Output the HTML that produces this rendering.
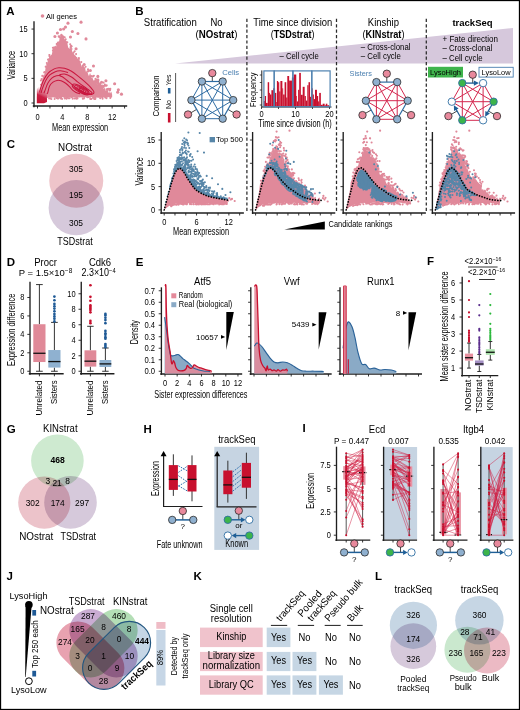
<!DOCTYPE html>
<html><head><meta charset="utf-8"><style>
html,body{margin:0;padding:0;background:#fff;}
body{width:520px;height:710px;overflow:hidden;}
svg{display:block;font-family:"Liberation Sans", sans-serif;}
</style></head><body>
<svg width="520" height="710" viewBox="0 0 520 710">
<rect x="0" y="0" width="520" height="710" fill="#fff"/>
<text x="6.3" y="14.8" font-size="11.5" font-weight="bold" fill="#000">A</text>
<circle cx="42.5" cy="16" r="1.8" fill="#e0899a" stroke="none" stroke-width="1"/>
<text x="46" y="18.6" font-size="7.6" textLength="31" lengthAdjust="spacingAndGlyphs">All genes</text>
<path d="M37.5 101.52 L38.25 97.77 L38.99 94.03 L39.74 90.38 L40.49 87.99 L41.23 83.08 L41.98 81.19 L42.72 77.49 L43.47 74.74 L44.22 74.76 L44.96 72.62 L45.71 66.6 L46.46 66.8 L47.2 64.84 L47.95 59.68 L48.7 60.24 L49.44 56.84 L50.19 56.74 L50.94 54.48 L51.68 55.11 L52.43 51.43 L53.17 48.87 L53.92 48.98 L54.67 46.6 L55.41 45.49 L56.16 46.76 L56.91 42.26 L57.65 41.58 L58.4 41.45 L59.15 41.23 L59.89 36.3 L60.64 36.86 L61.38 34.59 L62.13 33.88 L62.88 35.79 L63.62 36.06 L64.37 39.62 L65.12 39.3 L65.86 42.36 L66.61 41.66 L67.36 42.95 L68.1 47.36 L68.85 48.14 L69.6 48.72 L70.34 46.41 L71.09 49.79 L71.83 49.98 L72.58 52.46 L73.33 52.58 L74.07 54.16 L74.82 55.35 L75.57 55.59 L76.31 56.88 L77.06 56.74 L77.81 59.01 L78.55 59.19 L79.3 60.6 L80.04 61.09 L80.79 63.59 L81.54 66.93 L82.28 64.92 L83.03 65.34 L83.78 66.5 L84.52 68.87 L85.27 69.12 L86.02 72.24 L86.76 70.37 L87.51 72.36 L88.26 74.41 L89 76.17 L89.75 73.43 L90.49 73.59 L91.24 78.36 L91.99 75.97 L92.73 78.47 L93.48 80.39 L94.23 80.41 L94.97 78.95 L95.72 79.14 L96.47 83.47 L97.21 81.59 L97.96 84.77 L98.7 82.43 L99.45 84.8 L100.2 82.93 L100.94 83.01 L101.69 85.64 L102.44 83.98 L103.18 87.56 L103.93 89.12 L104.68 87.33 L105.42 90.39 L106.17 90.24 L106.92 89.9 L107.66 89.59 L108.41 92.2 L109.15 93.32 L109.9 90.4 L110.65 93.6 L111.39 91.47 L112.14 94.87 L112.14 97.33 L110.58 97.91 L109.03 97.05 L107.47 97.54 L105.92 97.65 L104.36 97.32 L102.81 97.61 L101.25 97.7 L99.7 97.66 L98.14 97.73 L96.59 97.43 L95.03 97.61 L93.48 97.87 L91.92 97.03 L90.37 97.37 L88.81 98.1 L87.26 98.14 L85.7 97.3 L84.15 97.33 L82.59 97.75 L81.04 97.36 L79.48 97.62 L77.93 97.43 L76.38 98.1 L74.82 97.42 L73.27 97.44 L71.71 98.14 L70.16 97.48 L68.6 97.68 L67.05 98.16 L65.49 97.52 L63.94 97.55 L62.38 97.01 L60.83 97.81 L59.27 97.89 L57.72 97.32 L56.16 97.66 L54.61 97.65 L53.05 97.22 L51.49 97.68 L49.94 97.84 L48.38 97.87 L46.83 97.9 L45.27 98.79 L43.72 99.6 L42.16 100.93 L40.61 101.54 L39.05 102.51 L37.5 103Z" fill="#e0899a" stroke="none" stroke-width="1"/>
<path fill="none" stroke="#e0899a" stroke-width="2.1" stroke-linecap="round" d="M81.3 62.1h0M62.8 36.4h0M98.1 82.6h0M54 47.5h0M90.5 76.3h0M63.6 37.1h0M100.2 83.2h0M101.8 85.8h0M64.7 37.3h0M103.9 85.8h0M56.7 44.1h0M78.5 60.9h0M98.3 79.5h0M53.7 48.9h0M98.4 80.6h0M98.3 82.1h0M49.9 56.7h0M97.4 81.8h0M65.4 39.9h0M70.6 47.6h0M106.5 89.3h0M40.9 80.5h0M103.6 82.6h0M71.7 46.2h0M106.9 89.3h0M93.9 75.7h0M88 71.4h0M61.3 34.9h0M56.9 44.1h0M82.7 66.5h0M98.6 84h0M105.2 85.4h0M106.7 85.4h0M105 85.8h0M41.6 79.1h0M52.9 50.4h0M88 71.4h0M70.2 44.2h0M84.4 68.2h0M58.7 36.4h0M74.7 51.3h0M65.8 41.9h0M78.9 58.1h0M52.9 47.8h0M106.5 85.8h0M99.5 85h0M85.6 66.7h0M44.2 72.5h0M59.8 36.2h0M70.9 47.6h0M96.2 82.1h0M44.5 72.1h0M49.5 58.8h0M110.3 88.8h0M46.8 63h0M63.2 36.5h0M65.7 39.3h0M82.6 65.9h0M54.3 47.6h0M49.5 56.3h0M91.8 76.1h0M46.3 66.2h0M67.3 42.3h0M96.6 80.5h0M97.9 80.3h0M71.5 49h0M76.1 54.1h0M70.7 46.2h0M73.6 52.6h0M78.9 58.9h0M45.7 66.7h0M71.1 45.7h0M107.6 89h0M104.8 84.6h0M59.4 37.2h0M49.4 55h0M88 69.4h0M97.3 79.5h0M93.1 76.4h0M48 59.6h0M41 84.8h0M96 81.8h0M47.2 64.2h0M103.6 87h0M42.3 75.9h0M49.3 55.1h0M88.8 70.5h0M108.7 88.8h0M97.7 83.4h0M95.5 78.8h0"/>
<circle cx="67.98" cy="23.13" r="1.55" fill="#e0899a" stroke="none" stroke-width="1"/>
<circle cx="81.04" cy="22.15" r="1.55" fill="#e0899a" stroke="none" stroke-width="1"/>
<circle cx="86.02" cy="38.91" r="1.55" fill="#e0899a" stroke="none" stroke-width="1"/>
<circle cx="77.93" cy="33.49" r="1.55" fill="#e0899a" stroke="none" stroke-width="1"/>
<circle cx="72.33" cy="31.52" r="1.55" fill="#e0899a" stroke="none" stroke-width="1"/>
<circle cx="70.47" cy="36.94" r="1.55" fill="#e0899a" stroke="none" stroke-width="1"/>
<circle cx="65.49" cy="27.08" r="1.55" fill="#e0899a" stroke="none" stroke-width="1"/>
<circle cx="63.62" cy="29.05" r="1.55" fill="#e0899a" stroke="none" stroke-width="1"/>
<circle cx="60.51" cy="29.54" r="1.55" fill="#e0899a" stroke="none" stroke-width="1"/>
<circle cx="84.15" cy="64.55" r="1.55" fill="#e0899a" stroke="none" stroke-width="1"/>
<circle cx="93.48" cy="66.03" r="1.55" fill="#e0899a" stroke="none" stroke-width="1"/>
<circle cx="105.92" cy="80.81" r="1.55" fill="#e0899a" stroke="none" stroke-width="1"/>
<circle cx="114.63" cy="83.77" r="1.55" fill="#e0899a" stroke="none" stroke-width="1"/>
<circle cx="118.36" cy="89.69" r="1.55" fill="#e0899a" stroke="none" stroke-width="1"/>
<circle cx="121.47" cy="94.13" r="1.55" fill="#e0899a" stroke="none" stroke-width="1"/>
<circle cx="117.74" cy="92.15" r="1.55" fill="#e0899a" stroke="none" stroke-width="1"/>
<circle cx="101.57" cy="82.29" r="1.55" fill="#e0899a" stroke="none" stroke-width="1"/>
<circle cx="97.83" cy="76.38" r="1.55" fill="#e0899a" stroke="none" stroke-width="1"/>
<circle cx="90.37" cy="70.46" r="1.55" fill="#e0899a" stroke="none" stroke-width="1"/>
<circle cx="109.65" cy="89.69" r="1.55" fill="#e0899a" stroke="none" stroke-width="1"/>
<circle cx="76.06" cy="48.77" r="1.55" fill="#e0899a" stroke="none" stroke-width="1"/>
<circle cx="54.92" cy="36.45" r="1.55" fill="#e0899a" stroke="none" stroke-width="1"/>
<circle cx="57.4" cy="32.99" r="1.55" fill="#e0899a" stroke="none" stroke-width="1"/>
<path fill="none" stroke="#e0899a" stroke-width="2" stroke-linecap="round" d="M93 97.7h0M95.3 98.9h0M49.1 98.4h0M82.8 98.8h0M61.2 97.8h0M61.8 98.5h0M95.6 98.1h0M69.6 98.2h0M68.5 98.2h0M50.6 98.6h0M110.3 98h0M95.2 97.8h0M91.4 98.7h0M90.2 98.3h0M77.5 98.5h0M105.2 97.6h0M51.4 98.9h0M106.5 98.2h0M74.7 98.6h0M57.5 98h0M58.3 98.4h0M66.1 97.9h0M91.4 99h0M64.8 98.6h0M72.7 98.8h0M84.2 98h0M59.6 97.6h0M77.2 98.1h0M56.5 98.1h0M66.6 98.7h0M54.6 99.1h0M77.2 98.5h0M76.4 98.8h0M100.2 98.3h0M77.3 98.6h0M102.5 98h0M94.2 99h0M76.4 97.9h0M60.7 98.6h0M90.3 99h0M102.3 97.8h0M57.7 98h0M57.5 98.6h0M102.6 98.8h0M62.1 98.9h0M66 98.2h0M93.9 97.7h0M51.2 99.1h0M64.6 98.1h0M83.9 98.6h0"/>
<defs><linearGradient id="gA" x1="0" y1="1" x2="0.3" y2="0"><stop offset="0" stop-color="#c4102e"/><stop offset="0.5" stop-color="#cb1f44"/><stop offset="1" stop-color="#e0899a" stop-opacity="0"/></linearGradient></defs>
<path d="M36.8 103.3 L36.9 89 L39 86.5 L42 86.8 L45 89.5 L47 95 L47 102 L44 103.3Z" fill="url(#gA)" stroke="none" stroke-width="1"/>
<path d="M39.6 92.5 C39.72 91.93 39.6 91.22 40.3 89.1 C41 86.98 42.45 82.5 43.8 79.8 C45.15 77.1 46.67 74.72 48.4 72.9 C50.13 71.08 52.47 69.77 54.2 68.9 C55.93 68.03 57.08 67.8 58.8 67.7 C60.52 67.6 62.38 67.72 64.5 68.3 C66.62 68.88 69.18 69.85 71.5 71.2 C73.82 72.55 76.1 74.57 78.4 76.4 C80.7 78.23 83.18 80.28 85.3 82.2 C87.42 84.12 89.65 86.27 91.1 87.9 C92.55 89.53 93.82 90.93 94 92 C94.18 93.07 93.37 93.93 92.2 94.3 C91.03 94.67 88.7 94.42 87 94.2 C85.3 93.98 82.83 93.2 82 93" fill="none" stroke="#c9173f" stroke-width="1.05"/>
<path d="M41.2 93 C41.33 92.45 41.28 91.7 42 89.7 C42.72 87.7 44.25 83.42 45.5 81 C46.75 78.58 47.87 76.73 49.5 75.2 C51.13 73.67 53.57 72.53 55.3 71.8 C57.03 71.07 58.55 70.9 59.9 70.8 C61.25 70.7 62.05 70.9 63.4 71.2 C64.75 71.5 67.23 72.37 68 72.6" fill="none" stroke="#c9173f" stroke-width="1.05"/>
<path d="M43.8 93.3 C43.98 92.88 44.23 92.47 44.9 90.8 C45.57 89.13 46.65 85.42 47.8 83.3 C48.95 81.18 50.35 79.35 51.8 78.1 C53.25 76.85 55.05 76.22 56.5 75.8 C57.95 75.38 59.83 75.63 60.5 75.6" fill="none" stroke="#c9173f" stroke-width="1.05"/>
<path d="M46.8 94 C46.97 93.75 47.35 93.8 47.8 92.5 C48.25 91.2 48.63 87.92 49.5 86.2 C50.37 84.48 51.75 83.17 53 82.2 C54.25 81.23 55.65 80.63 57 80.4 C58.35 80.17 59.65 80.32 61.1 80.8 C62.55 81.28 64.27 82.3 65.7 83.3 C67.13 84.3 68.55 85.65 69.7 86.8 C70.85 87.95 71.55 89.25 72.6 90.2 C73.65 91.15 74.77 91.9 76 92.5 C77.23 93.1 79.33 93.58 80 93.8" fill="none" stroke="#c9173f" stroke-width="1.05"/>
<path d="M59.3 74.7 C60.17 74.6 62.47 73.72 64.5 74.1 C66.53 74.48 69.38 75.75 71.5 77 C73.62 78.25 75.08 79.97 77.2 81.6 C79.32 83.23 82.08 85.27 84.2 86.8 C86.32 88.33 88.57 89.75 89.9 90.8 C91.23 91.85 92.38 92.62 92.2 93.1 C92.02 93.58 90.33 93.88 88.8 93.7 C87.27 93.52 85.12 92.97 83 92 C80.88 91.03 78.4 89.53 76.1 87.9 C73.8 86.27 71.32 83.93 69.2 82.2 C67.08 80.47 64.95 78.57 63.4 77.5 C61.85 76.43 60.58 76.27 59.9 75.8 C59.22 75.33 59.4 74.88 59.3 74.7" fill="none" stroke="#c9173f" stroke-width="1.05"/>
<ellipse cx="80.66" cy="89.43" rx="9.5" ry="3.0" fill="none" stroke="#c9173f" stroke-width="1.0" transform="rotate(29 80.66 89.43)"/>
<ellipse cx="80.94" cy="89.57" rx="7.2" ry="2.2" fill="none" stroke="#c9173f" stroke-width="1.0" transform="rotate(29 80.94 89.57)"/>
<ellipse cx="81.2" cy="89.7" rx="5.0" ry="1.5" fill="none" stroke="#c9173f" stroke-width="1.0" transform="rotate(29 81.2 89.7)"/>
<ellipse cx="81.46" cy="89.83" rx="2.8" ry="0.8" fill="none" stroke="#c9173f" stroke-width="1.0" transform="rotate(29 81.46 89.83)"/>
<line x1="34" y1="22" x2="34" y2="106.5" stroke="#1e1e1e" stroke-width="1.35" stroke-linecap="square"/>
<line x1="33.5" y1="106" x2="126.5" y2="106" stroke="#1e1e1e" stroke-width="1.35" stroke-linecap="square"/>
<line x1="31.5" y1="29.05" x2="34" y2="29.05" stroke="#1e1e1e" stroke-width="0.9"/>
<text x="27.6" y="32.05" font-size="8.7" text-anchor="end" textLength="8.3" lengthAdjust="spacingAndGlyphs">15</text>
<line x1="31.5" y1="53.7" x2="34" y2="53.7" stroke="#1e1e1e" stroke-width="0.9"/>
<text x="27.6" y="56.7" font-size="8.7" text-anchor="end" textLength="8.3" lengthAdjust="spacingAndGlyphs">10</text>
<line x1="31.5" y1="78.35" x2="34" y2="78.35" stroke="#1e1e1e" stroke-width="0.9"/>
<text x="27.6" y="81.35" font-size="8.7" text-anchor="end" textLength="4.15" lengthAdjust="spacingAndGlyphs">5</text>
<line x1="31.5" y1="103" x2="34" y2="103" stroke="#1e1e1e" stroke-width="0.9"/>
<text x="27.6" y="106" font-size="8.7" text-anchor="end" textLength="4.15" lengthAdjust="spacingAndGlyphs">0</text>
<line x1="37.5" y1="106" x2="37.5" y2="108.5" stroke="#1e1e1e" stroke-width="0.9"/>
<line x1="49.94" y1="106" x2="49.94" y2="108.5" stroke="#1e1e1e" stroke-width="0.9"/>
<line x1="62.38" y1="106" x2="62.38" y2="108.5" stroke="#1e1e1e" stroke-width="0.9"/>
<line x1="74.82" y1="106" x2="74.82" y2="108.5" stroke="#1e1e1e" stroke-width="0.9"/>
<line x1="87.26" y1="106" x2="87.26" y2="108.5" stroke="#1e1e1e" stroke-width="0.9"/>
<line x1="99.7" y1="106" x2="99.7" y2="108.5" stroke="#1e1e1e" stroke-width="0.9"/>
<line x1="112.14" y1="106" x2="112.14" y2="108.5" stroke="#1e1e1e" stroke-width="0.9"/>
<line x1="124.58" y1="106" x2="124.58" y2="108.5" stroke="#1e1e1e" stroke-width="0.9"/>
<text x="37.5" y="119.5" font-size="8.7" text-anchor="middle" textLength="4.15" lengthAdjust="spacingAndGlyphs">0</text>
<text x="62.38" y="119.5" font-size="8.7" text-anchor="middle" textLength="4.15" lengthAdjust="spacingAndGlyphs">4</text>
<text x="87.26" y="119.5" font-size="8.7" text-anchor="middle" textLength="4.15" lengthAdjust="spacingAndGlyphs">8</text>
<text x="112.14" y="119.5" font-size="8.7" text-anchor="middle" textLength="8.3" lengthAdjust="spacingAndGlyphs">12</text>
<text x="14.7" y="65.2" font-size="10.28" text-anchor="middle" textLength="28.5" lengthAdjust="spacingAndGlyphs" transform="rotate(-90 14.7 65.2)">Variance</text>
<text x="80.1" y="131.2" font-size="10.18" text-anchor="middle" textLength="56.2" lengthAdjust="spacingAndGlyphs">Mean expression</text>
<text x="135.3" y="14.6" font-size="11.5" font-weight="bold" fill="#000">B</text>
<path d="M175 63.6 L513 28 L513 63.6Z" fill="#d6c8dc" stroke="none" stroke-width="1"/>
<text x="143.8" y="26" font-size="10.07" textLength="53" lengthAdjust="spacingAndGlyphs">Stratification</text>
<text x="216.5" y="26" font-size="10.07" text-anchor="middle" textLength="12.14" lengthAdjust="spacingAndGlyphs">No</text>
<text x="216.5" y="37.5" font-size="10" text-anchor="middle" textLength="42" lengthAdjust="spacingAndGlyphs">(<tspan font-weight="bold">NOstrat</tspan>)</text>
<text x="292.8" y="26" font-size="10.07" text-anchor="middle" textLength="79" lengthAdjust="spacingAndGlyphs">Time since division</text>
<text x="292.6" y="37.5" font-size="10" text-anchor="middle" textLength="43.7" lengthAdjust="spacingAndGlyphs">(<tspan font-weight="bold">TSDstrat</tspan>)</text>
<text x="383.4" y="26" font-size="10.07" text-anchor="middle" textLength="31.16" lengthAdjust="spacingAndGlyphs">Kinship</text>
<text x="383.5" y="37.5" font-size="10" text-anchor="middle" textLength="42" lengthAdjust="spacingAndGlyphs">(<tspan font-weight="bold">KINstrat</tspan>)</text>
<text x="472.5" y="26" font-size="9.5" text-anchor="middle" font-weight="bold">trackSeq</text>
<text x="279.5" y="59.4" font-size="8.8" textLength="39.3" lengthAdjust="spacingAndGlyphs">– Cell cycle</text>
<text x="360.8" y="50.2" font-size="8.8" textLength="49.7" lengthAdjust="spacingAndGlyphs">– Cross-clonal</text>
<text x="360.8" y="59.4" font-size="8.8" textLength="40" lengthAdjust="spacingAndGlyphs">– Cell cycle</text>
<text x="442.5" y="42.2" font-size="8.8" textLength="55.5" lengthAdjust="spacingAndGlyphs">+ Fate direction</text>
<text x="442.5" y="51.4" font-size="8.8" textLength="49.7" lengthAdjust="spacingAndGlyphs">– Cross-clonal</text>
<text x="442.5" y="60.6" font-size="8.8" textLength="40" lengthAdjust="spacingAndGlyphs">– Cell cycle</text>
<line x1="246.9" y1="18.8" x2="246.9" y2="212" stroke="#2a2a2a" stroke-width="1.25" stroke-dasharray="3.2 2.2"/>
<line x1="336.5" y1="18.8" x2="336.5" y2="212" stroke="#2a2a2a" stroke-width="1.25" stroke-dasharray="3.2 2.2"/>
<line x1="426.3" y1="18.8" x2="426.3" y2="212" stroke="#2a2a2a" stroke-width="1.25" stroke-dasharray="3.2 2.2"/>
<line x1="201.9" y1="81.5" x2="191.4" y2="100.1" stroke="#2e6ca3" stroke-width="1"/>
<line x1="201.9" y1="81.5" x2="233.2" y2="100.1" stroke="#2e6ca3" stroke-width="1"/>
<line x1="201.9" y1="81.5" x2="201.9" y2="118.7" stroke="#2e6ca3" stroke-width="1"/>
<line x1="201.9" y1="81.5" x2="222.7" y2="118.7" stroke="#2e6ca3" stroke-width="1"/>
<line x1="222.7" y1="81.5" x2="191.4" y2="100.1" stroke="#2e6ca3" stroke-width="1"/>
<line x1="222.7" y1="81.5" x2="233.2" y2="100.1" stroke="#2e6ca3" stroke-width="1"/>
<line x1="222.7" y1="81.5" x2="201.9" y2="118.7" stroke="#2e6ca3" stroke-width="1"/>
<line x1="222.7" y1="81.5" x2="222.7" y2="118.7" stroke="#2e6ca3" stroke-width="1"/>
<line x1="191.4" y1="100.1" x2="233.2" y2="100.1" stroke="#2e6ca3" stroke-width="1"/>
<line x1="191.4" y1="100.1" x2="222.7" y2="118.7" stroke="#2e6ca3" stroke-width="1"/>
<line x1="233.2" y1="100.1" x2="201.9" y2="118.7" stroke="#2e6ca3" stroke-width="1"/>
<line x1="201.9" y1="118.7" x2="222.7" y2="118.7" stroke="#2e6ca3" stroke-width="1"/>
<line x1="212.3" y1="73.1" x2="212.3" y2="81.5" stroke="#333" stroke-width="0.9"/>
<line x1="188" y1="114.5" x2="196.65" y2="109.4" stroke="#333" stroke-width="0.9"/>
<line x1="236.6" y1="114.5" x2="227.95" y2="109.4" stroke="#333" stroke-width="0.9"/>
<line x1="201.9" y1="81.5" x2="222.7" y2="81.5" stroke="#2e6ca3" stroke-width="1.2"/>
<line x1="191.4" y1="100.1" x2="201.9" y2="118.7" stroke="#2e6ca3" stroke-width="1.2"/>
<line x1="233.2" y1="100.1" x2="222.7" y2="118.7" stroke="#2e6ca3" stroke-width="1.2"/>
<circle cx="212.3" cy="73.1" r="3.7" fill="#e8899c" stroke="#2a2a2a" stroke-width="0.8"/>
<circle cx="188" cy="114.5" r="3.7" fill="#e8899c" stroke="#2a2a2a" stroke-width="0.8"/>
<circle cx="236.6" cy="114.5" r="3.7" fill="#e8899c" stroke="#2a2a2a" stroke-width="0.8"/>
<circle cx="201.9" cy="81.5" r="3.7" fill="#8fb0cf" stroke="#2a2a2a" stroke-width="0.8"/>
<circle cx="222.7" cy="81.5" r="3.7" fill="#8fb0cf" stroke="#2a2a2a" stroke-width="0.8"/>
<circle cx="191.4" cy="100.1" r="3.7" fill="#8fb0cf" stroke="#2a2a2a" stroke-width="0.8"/>
<circle cx="233.2" cy="100.1" r="3.7" fill="#8fb0cf" stroke="#2a2a2a" stroke-width="0.8"/>
<circle cx="201.9" cy="118.7" r="3.7" fill="#8fb0cf" stroke="#2a2a2a" stroke-width="0.8"/>
<circle cx="222.7" cy="118.7" r="3.7" fill="#8fb0cf" stroke="#2a2a2a" stroke-width="0.8"/>
<line x1="376.4" y1="82.1" x2="365.9" y2="100.7" stroke="#d4284f" stroke-width="1"/>
<line x1="376.4" y1="82.1" x2="407.7" y2="100.7" stroke="#d4284f" stroke-width="1"/>
<line x1="376.4" y1="82.1" x2="376.4" y2="119.3" stroke="#d4284f" stroke-width="1"/>
<line x1="376.4" y1="82.1" x2="397.2" y2="119.3" stroke="#d4284f" stroke-width="1"/>
<line x1="397.2" y1="82.1" x2="365.9" y2="100.7" stroke="#d4284f" stroke-width="1"/>
<line x1="397.2" y1="82.1" x2="407.7" y2="100.7" stroke="#d4284f" stroke-width="1"/>
<line x1="397.2" y1="82.1" x2="376.4" y2="119.3" stroke="#d4284f" stroke-width="1"/>
<line x1="397.2" y1="82.1" x2="397.2" y2="119.3" stroke="#d4284f" stroke-width="1"/>
<line x1="365.9" y1="100.7" x2="407.7" y2="100.7" stroke="#d4284f" stroke-width="1"/>
<line x1="365.9" y1="100.7" x2="397.2" y2="119.3" stroke="#d4284f" stroke-width="1"/>
<line x1="407.7" y1="100.7" x2="376.4" y2="119.3" stroke="#d4284f" stroke-width="1"/>
<line x1="376.4" y1="119.3" x2="397.2" y2="119.3" stroke="#d4284f" stroke-width="1"/>
<line x1="386.8" y1="73.7" x2="386.8" y2="82.1" stroke="#333" stroke-width="0.9"/>
<line x1="362.5" y1="115.1" x2="371.15" y2="110" stroke="#333" stroke-width="0.9"/>
<line x1="411.1" y1="115.1" x2="402.45" y2="110" stroke="#333" stroke-width="0.9"/>
<line x1="376.4" y1="82.1" x2="397.2" y2="82.1" stroke="#2e6ca3" stroke-width="1.2"/>
<line x1="365.9" y1="100.7" x2="376.4" y2="119.3" stroke="#2e6ca3" stroke-width="1.2"/>
<line x1="407.7" y1="100.7" x2="397.2" y2="119.3" stroke="#2e6ca3" stroke-width="1.2"/>
<circle cx="386.8" cy="73.7" r="3.7" fill="#e8899c" stroke="#2a2a2a" stroke-width="0.8"/>
<circle cx="362.5" cy="115.1" r="3.7" fill="#e8899c" stroke="#2a2a2a" stroke-width="0.8"/>
<circle cx="411.1" cy="115.1" r="3.7" fill="#e8899c" stroke="#2a2a2a" stroke-width="0.8"/>
<circle cx="376.4" cy="82.1" r="3.7" fill="#8fb0cf" stroke="#2a2a2a" stroke-width="0.8"/>
<circle cx="397.2" cy="82.1" r="3.7" fill="#8fb0cf" stroke="#2a2a2a" stroke-width="0.8"/>
<circle cx="365.9" cy="100.7" r="3.7" fill="#8fb0cf" stroke="#2a2a2a" stroke-width="0.8"/>
<circle cx="407.7" cy="100.7" r="3.7" fill="#8fb0cf" stroke="#2a2a2a" stroke-width="0.8"/>
<circle cx="376.4" cy="119.3" r="3.7" fill="#8fb0cf" stroke="#2a2a2a" stroke-width="0.8"/>
<circle cx="397.2" cy="119.3" r="3.7" fill="#8fb0cf" stroke="#2a2a2a" stroke-width="0.8"/>
<line x1="462.3" y1="83.1" x2="451.8" y2="101.7" stroke="#d4284f" stroke-width="1"/>
<line x1="462.3" y1="83.1" x2="493.6" y2="101.7" stroke="#d4284f" stroke-width="1"/>
<line x1="462.3" y1="83.1" x2="462.3" y2="120.3" stroke="#d4284f" stroke-width="1"/>
<line x1="462.3" y1="83.1" x2="483.1" y2="120.3" stroke="#d4284f" stroke-width="1"/>
<line x1="483.1" y1="83.1" x2="451.8" y2="101.7" stroke="#d4284f" stroke-width="1"/>
<line x1="483.1" y1="83.1" x2="493.6" y2="101.7" stroke="#d4284f" stroke-width="1"/>
<line x1="483.1" y1="83.1" x2="462.3" y2="120.3" stroke="#d4284f" stroke-width="1"/>
<line x1="483.1" y1="83.1" x2="483.1" y2="120.3" stroke="#d4284f" stroke-width="1"/>
<line x1="451.8" y1="101.7" x2="493.6" y2="101.7" stroke="#d4284f" stroke-width="1"/>
<line x1="451.8" y1="101.7" x2="483.1" y2="120.3" stroke="#d4284f" stroke-width="1"/>
<line x1="493.6" y1="101.7" x2="462.3" y2="120.3" stroke="#d4284f" stroke-width="1"/>
<line x1="462.3" y1="120.3" x2="483.1" y2="120.3" stroke="#d4284f" stroke-width="1"/>
<line x1="472.7" y1="74.7" x2="472.7" y2="83.1" stroke="#333" stroke-width="0.9"/>
<line x1="448.4" y1="116.1" x2="457.05" y2="111" stroke="#333" stroke-width="0.9"/>
<line x1="497" y1="116.1" x2="488.35" y2="111" stroke="#333" stroke-width="0.9"/>
<line x1="462.3" y1="83.1" x2="475.9" y2="83.1" stroke="#1f5f97" stroke-width="1.3"/>
<path d="M478.9 83.1 L473.9 85.7 L473.9 80.5Z" fill="#1f5f97" stroke="none" stroke-width="1"/>
<line x1="462.3" y1="120.3" x2="455.34" y2="107.97" stroke="#1f5f97" stroke-width="1.3"/>
<path d="M453.86 105.36 L458.59 108.43 L454.06 110.99Z" fill="#1f5f97" stroke="none" stroke-width="1"/>
<line x1="493.6" y1="101.7" x2="486.64" y2="114.03" stroke="#1f5f97" stroke-width="1.3"/>
<path d="M485.16 116.64 L485.36 111.01 L489.89 113.57Z" fill="#1f5f97" stroke="none" stroke-width="1"/>
<circle cx="472.7" cy="74.7" r="3.7" fill="#e8899c" stroke="#2a2a2a" stroke-width="0.8"/>
<circle cx="448.4" cy="116.1" r="3.7" fill="#e8899c" stroke="#2a2a2a" stroke-width="0.8"/>
<circle cx="497" cy="116.1" r="3.7" fill="#e8899c" stroke="#2a2a2a" stroke-width="0.8"/>
<circle cx="462.3" cy="83.1" r="3.7" fill="#3cb44b" stroke="#2f6ea3" stroke-width="0.9"/>
<circle cx="483.1" cy="83.1" r="3.7" fill="#ffffff" stroke="#2f6ea3" stroke-width="0.9"/>
<circle cx="451.8" cy="101.7" r="3.7" fill="#ffffff" stroke="#2f6ea3" stroke-width="0.9"/>
<circle cx="493.6" cy="101.7" r="3.7" fill="#3cb44b" stroke="#2f6ea3" stroke-width="0.9"/>
<circle cx="462.3" cy="120.3" r="3.7" fill="#3cb44b" stroke="#2f6ea3" stroke-width="0.9"/>
<circle cx="483.1" cy="120.3" r="3.7" fill="#ffffff" stroke="#2f6ea3" stroke-width="0.9"/>
<text x="222.2" y="75.4" font-size="7.8" fill="#4a7fb0" textLength="17" lengthAdjust="spacingAndGlyphs">Cells</text>
<text x="349.5" y="76.4" font-size="7.8" fill="#4a7fb0" textLength="22.5" lengthAdjust="spacingAndGlyphs">Sisters</text>
<rect x="428" y="66.8" width="35" height="10.7" fill="#3fb44c" stroke="none" stroke-width="1"/>
<text x="445.5" y="75" font-size="7.5" text-anchor="middle" textLength="31" lengthAdjust="spacingAndGlyphs">LysoHigh</text>
<rect x="479" y="67.3" width="34.2" height="9.8" fill="#fff" stroke="#4a7fb0" stroke-width="0.9"/>
<text x="496.1" y="75" font-size="7.5" text-anchor="middle" textLength="29" lengthAdjust="spacingAndGlyphs">LysoLow</text>
<text x="159.2" y="96" font-size="8.6" text-anchor="middle" textLength="41" lengthAdjust="spacingAndGlyphs" transform="rotate(-90 159.2 96)">Comparison</text>
<line x1="175.6" y1="73" x2="175.6" y2="122" stroke="#444" stroke-width="0.9"/>
<rect x="167.9" y="113" width="2.6" height="9.5" fill="#c8102e" stroke="none" stroke-width="1"/>
<text x="171" y="104.5" font-size="7.5" text-anchor="middle" textLength="9" lengthAdjust="spacingAndGlyphs" transform="rotate(-90 171 104.5)">No</text>
<rect x="167.9" y="88" width="2.6" height="5.5" fill="#1f5f97" stroke="none" stroke-width="1"/>
<text x="171" y="80" font-size="7.5" text-anchor="middle" textLength="11" lengthAdjust="spacingAndGlyphs" transform="rotate(-90 171 80)">Yes</text>
<line x1="261.8" y1="70.4" x2="261.8" y2="107.3" stroke="#1e1e1e" stroke-width="1"/>
<line x1="261.5" y1="107" x2="331.5" y2="107" stroke="#1e1e1e" stroke-width="1"/>
<line x1="259.8" y1="75" x2="261.8" y2="75" stroke="#1e1e1e" stroke-width="0.8"/>
<line x1="259.8" y1="82.5" x2="261.8" y2="82.5" stroke="#1e1e1e" stroke-width="0.8"/>
<line x1="259.8" y1="90" x2="261.8" y2="90" stroke="#1e1e1e" stroke-width="0.8"/>
<line x1="259.8" y1="97.5" x2="261.8" y2="97.5" stroke="#1e1e1e" stroke-width="0.8"/>
<line x1="259.8" y1="105" x2="261.8" y2="105" stroke="#1e1e1e" stroke-width="0.8"/>
<line x1="261.5" y1="107" x2="261.5" y2="109" stroke="#1e1e1e" stroke-width="0.8"/>
<line x1="278.5" y1="107" x2="278.5" y2="109" stroke="#1e1e1e" stroke-width="0.8"/>
<line x1="295.5" y1="107" x2="295.5" y2="109" stroke="#1e1e1e" stroke-width="0.8"/>
<line x1="312.5" y1="107" x2="312.5" y2="109" stroke="#1e1e1e" stroke-width="0.8"/>
<line x1="329.5" y1="107" x2="329.5" y2="109" stroke="#1e1e1e" stroke-width="0.8"/>
<rect x="263.8" y="101" width="1.05" height="5.6" fill="#c8102e" stroke="none" stroke-width="1"/>
<rect x="264.8" y="96" width="1.25" height="10.6" fill="#c8102e" stroke="none" stroke-width="1"/>
<rect x="266" y="102.9" width="1.75" height="3.7" fill="#c8102e" stroke="none" stroke-width="1"/>
<rect x="267.7" y="82.2" width="1.45" height="24.4" fill="#c8102e" stroke="none" stroke-width="1"/>
<rect x="269.1" y="92.9" width="0.95" height="13.7" fill="#c8102e" stroke="none" stroke-width="1"/>
<rect x="270" y="94.5" width="1.45" height="12.1" fill="#c8102e" stroke="none" stroke-width="1"/>
<rect x="271.4" y="90.2" width="1.75" height="16.4" fill="#c8102e" stroke="none" stroke-width="1"/>
<rect x="273.1" y="88.3" width="1.95" height="18.3" fill="#c8102e" stroke="none" stroke-width="1"/>
<rect x="275" y="92.9" width="1.25" height="13.7" fill="#c8102e" stroke="none" stroke-width="1"/>
<rect x="276.2" y="102" width="0.75" height="4.6" fill="#c8102e" stroke="none" stroke-width="1"/>
<rect x="276.9" y="81" width="1.25" height="25.6" fill="#c8102e" stroke="none" stroke-width="1"/>
<rect x="278.1" y="82.2" width="1.15" height="24.4" fill="#c8102e" stroke="none" stroke-width="1"/>
<rect x="279.2" y="91.4" width="1.25" height="15.2" fill="#c8102e" stroke="none" stroke-width="1"/>
<rect x="280.4" y="81" width="1.95" height="25.6" fill="#c8102e" stroke="none" stroke-width="1"/>
<rect x="282.3" y="88.3" width="0.85" height="18.3" fill="#c8102e" stroke="none" stroke-width="1"/>
<rect x="283.1" y="94.5" width="1.55" height="12.1" fill="#c8102e" stroke="none" stroke-width="1"/>
<rect x="284.6" y="82.2" width="1.65" height="24.4" fill="#c8102e" stroke="none" stroke-width="1"/>
<rect x="286.2" y="97.5" width="1.15" height="9.1" fill="#c8102e" stroke="none" stroke-width="1"/>
<rect x="287.3" y="76" width="1.85" height="30.6" fill="#c8102e" stroke="none" stroke-width="1"/>
<rect x="289.1" y="80.6" width="2.85" height="26" fill="#c8102e" stroke="none" stroke-width="1"/>
<rect x="291.9" y="77.5" width="1.95" height="29.1" fill="#c8102e" stroke="none" stroke-width="1"/>
<rect x="293.8" y="74.5" width="2.45" height="32.1" fill="#c8102e" stroke="none" stroke-width="1"/>
<rect x="296.2" y="96" width="0.75" height="10.6" fill="#c8102e" stroke="none" stroke-width="1"/>
<rect x="296.9" y="101.4" width="1.25" height="5.2" fill="#c8102e" stroke="none" stroke-width="1"/>
<rect x="298.1" y="89.8" width="1.15" height="16.8" fill="#c8102e" stroke="none" stroke-width="1"/>
<rect x="299.2" y="72.9" width="1.65" height="33.7" fill="#c8102e" stroke="none" stroke-width="1"/>
<rect x="300.8" y="94.8" width="1.95" height="11.8" fill="#c8102e" stroke="none" stroke-width="1"/>
<rect x="302.7" y="86.8" width="1.95" height="19.8" fill="#c8102e" stroke="none" stroke-width="1"/>
<rect x="304.6" y="96" width="1.25" height="10.6" fill="#c8102e" stroke="none" stroke-width="1"/>
<rect x="305.8" y="100.6" width="1.55" height="6" fill="#c8102e" stroke="none" stroke-width="1"/>
<rect x="307.3" y="85.2" width="1.25" height="21.4" fill="#c8102e" stroke="none" stroke-width="1"/>
<rect x="308.5" y="82.2" width="1.55" height="24.4" fill="#c8102e" stroke="none" stroke-width="1"/>
<rect x="310" y="96.8" width="1.25" height="9.8" fill="#c8102e" stroke="none" stroke-width="1"/>
<rect x="311.2" y="88.3" width="1.55" height="18.3" fill="#c8102e" stroke="none" stroke-width="1"/>
<rect x="312.7" y="94.5" width="1.15" height="12.1" fill="#c8102e" stroke="none" stroke-width="1"/>
<rect x="313.8" y="99.1" width="1.25" height="7.5" fill="#c8102e" stroke="none" stroke-width="1"/>
<rect x="315" y="89.8" width="1.95" height="16.8" fill="#c8102e" stroke="none" stroke-width="1"/>
<rect x="316.9" y="96" width="1.25" height="10.6" fill="#c8102e" stroke="none" stroke-width="1"/>
<rect x="318.1" y="101.4" width="1.15" height="5.2" fill="#c8102e" stroke="none" stroke-width="1"/>
<rect x="319.2" y="92.9" width="1.65" height="13.7" fill="#c8102e" stroke="none" stroke-width="1"/>
<rect x="320.8" y="104.8" width="1.95" height="1.8" fill="#c8102e" stroke="none" stroke-width="1"/>
<rect x="322.7" y="103.7" width="1.95" height="2.9" fill="#c8102e" stroke="none" stroke-width="1"/>
<rect x="324.6" y="105.2" width="1.25" height="1.4" fill="#c8102e" stroke="none" stroke-width="1"/>
<rect x="325.8" y="103.7" width="1.55" height="2.9" fill="#c8102e" stroke="none" stroke-width="1"/>
<rect x="327.3" y="105.2" width="1.95" height="1.4" fill="#c8102e" stroke="none" stroke-width="1"/>
<rect x="263.9" y="70.9" width="10.3" height="35.8" fill="none" stroke="#4f82b0" stroke-width="1.2"/>
<rect x="274.2" y="70.9" width="18.7" height="35.8" fill="none" stroke="#4f82b0" stroke-width="1.2"/>
<rect x="292.9" y="70.9" width="18.9" height="35.8" fill="none" stroke="#4f82b0" stroke-width="1.2"/>
<rect x="311.8" y="70.9" width="18.3" height="35.8" fill="none" stroke="#4f82b0" stroke-width="1.2"/>
<text x="255.8" y="89.8" font-size="9.75" text-anchor="middle" textLength="34.4" lengthAdjust="spacingAndGlyphs" transform="rotate(-90 255.8 89.8)">Frequency</text>
<text x="261.5" y="116.6" font-size="8.7" text-anchor="middle" textLength="4.15" lengthAdjust="spacingAndGlyphs">0</text>
<text x="295.5" y="116.6" font-size="8.7" text-anchor="middle" textLength="8.3" lengthAdjust="spacingAndGlyphs">10</text>
<text x="329.5" y="116.6" font-size="8.7" text-anchor="middle" textLength="8.3" lengthAdjust="spacingAndGlyphs">20</text>
<text x="295.1" y="127.4" font-size="10.18" text-anchor="middle" textLength="73.5" lengthAdjust="spacingAndGlyphs">Time since division (h)</text>
<path d="M164.2 209.9 L166.89 199.65 L169.58 189.86 L172.27 180.54 L174.96 173.09 L177.65 169.36 L179.8 168.43 L181.95 169.82 L184.64 173.55 L187.33 178.21 L191.1 183.8 L193.79 187.53 L196.48 190.33 L201.86 193.59 L207.24 195.92 L212.62 197.32 L218 198.48 L223.38 199.42 L227.68 200.11 L227.68 197.78 L223.38 197.09 L218 196.15 L212.62 194.99 L207.24 193.59 L201.86 191.26 L196.48 188 L193.79 185.2 L191.1 181.47 L187.33 175.88 L184.64 171.22 L181.95 167.49 L179.8 166.1 L177.65 167.03 L174.96 170.76 L172.27 178.21 L169.58 187.53 L166.89 198.72 L164.2 208.97Z" fill="#5786a8" stroke="none" stroke-width="1"/>
<path fill="none" stroke="#5786a8" stroke-width="2" stroke-linecap="round" d="M179.1 161.3h0M195.5 184.9h0M181 155h0M203.9 191.3h0M190.5 181.7h0M167.7 196.4h0M193.5 187h0M203.1 193.6h0M181.6 169.6h0M223.6 197.2h0M208.2 192.6h0M171.9 181.6h0M190.2 182.2h0M215 197.2h0M178.7 158.7h0M177.4 159.2h0M188.6 170.8h0M185 167.2h0M180 168.5h0M207.5 195.6h0M202.3 193.4h0M217.1 193.9h0M201 183.8h0M193.3 173.7h0M177.3 167.7h0M205 194.6h0M212 191.2h0M187.2 174.2h0M188.6 175.9h0M222.4 198.7h0M171.2 184.3h0M199.2 173h0M190.1 176h0M192.1 170.6h0M181.2 161.4h0M192.4 176h0M179.7 168.1h0M185.2 142.8h0M185.2 163h0M183.9 172.4h0M174.2 170.8h0M202.2 192h0M197.6 182.4h0M210 188h0M187.1 140.3h0M216.1 196.3h0M208.8 194.3h0M186.1 174.5h0M208.3 196h0M174.4 170.1h0M202 190.6h0M205.6 195.2h0M182.4 168.8h0M187.5 177.8h0M174.4 173.9h0M210 187.5h0M200.6 189.5h0M182.2 144h0M191.2 169.6h0M171.3 183.7h0M205.7 187.6h0M208.6 193h0M187.7 167.9h0M206.4 194.7h0M191.5 182.9h0M201.7 193.5h0M197.7 172.2h0M170.8 184.1h0M195.9 173.6h0M193.4 185.9h0M187.1 142.8h0M210.5 196.7h0M175.9 171.8h0M171 184.1h0M178.1 158.8h0M196.4 190h0M191.7 182.4h0M190.1 181.3h0M179.1 168.4h0M186.2 158.5h0M192.1 185.2h0M198.9 177.3h0M202 184.2h0M168.7 192.3h0M174.1 171.8h0M179.5 160h0M182.3 157.7h0M184.1 172.8h0M186.5 174.2h0M210.1 196.1h0M190.4 174.7h0M214.6 197.7h0M194.1 182.4h0M200 175.4h0M184 157.5h0M191.2 176.1h0M174.1 171.2h0M218.4 198.1h0M184.3 138.3h0M176.5 170.9h0M174.7 169.1h0M201.3 190.6h0M194.9 188.7h0M195.9 186.2h0M190.9 180.1h0M186.9 176.2h0M173 177.5h0M182.1 157.4h0M204.4 188h0M188.7 179h0M186.4 169.2h0M195.4 167.1h0M175.4 170.9h0M190 166.8h0M209.3 190.8h0M195.2 176h0M196.9 175.2h0M198.3 183h0M182 147.1h0M186.4 164h0M204.9 182.3h0M220.8 199h0M184.1 170.4h0M186.6 176.5h0M192.2 185.3h0M183.8 142.5h0M200.4 189.6h0M176.6 160.9h0M198.5 191h0M184.8 160.6h0M197.5 190h0M214.9 197.3h0M182.3 150.5h0M178.6 162.3h0M180.4 162.1h0M183 167.9h0M213.7 196.3h0M188.1 166.9h0M183.1 170.9h0M186.4 174.6h0M180 149.9h0M171.9 178.8h0M213.1 194.2h0M170.3 186.3h0M172.3 178.8h0M198.4 190.7h0M168.7 192.1h0M175.9 171.2h0M188.7 151.8h0M185.9 175.3h0M203 184.3h0M191.4 184.1h0M180 166h0M192.2 184.4h0M203.6 184.3h0M212.2 191.4h0M170.2 186.5h0M175.1 166.5h0M200.6 183.4h0M180 168.5h0M204.3 190.2h0M194.9 184.3h0M203.4 193h0M182.8 168.1h0M183.7 160.6h0M209.3 196.4h0M174.3 173.3h0M197.4 190.4h0M182.8 171h0M172.1 180.1h0M197.5 183h0M178.8 168.8h0M212.8 195.6h0M187.1 161.5h0M199.7 188h0M175 167.9h0M180.9 169.1h0M185.3 165.8h0M195.2 188.6h0M198.8 187.8h0M179 157h0M203.8 182.8h0M197.4 190.3h0M202.2 181.1h0M191.5 160.8h0M217.3 197.7h0M213.9 191.6h0M203.1 194.1h0M185.3 162.4h0M194.4 174.6h0M196 189.5h0M212.8 195.6h0M208.7 196h0M223.8 198.3h0M202.1 185.6h0M208.7 195.3h0M175.2 171.7h0M179.6 163.9h0M204.3 193.3h0M177.7 169.4h0M187.6 167.8h0M171.1 182.6h0M180.8 169h0M212.5 195.6h0M209.7 194.4h0M177.3 169.4h0M187.7 165h0M201.8 185.1h0M196.2 189h0M187.9 175h0M189.9 180.5h0M191.7 179.7h0M172 178.3h0M193.5 170.9h0M200.1 183.6h0M222 198.7h0M186.7 177h0M196.8 184.2h0M193.1 159.4h0M180.3 168h0M200 181h0M189.7 181.6h0M185.9 150.6h0M190.3 177.2h0M186.5 163.5h0M194 176.5h0M207.5 190.1h0M186.1 174.4h0M202.4 184.6h0M212.5 197.1h0M206.3 186h0M174.9 172.7h0M195.4 189h0M205.3 194.4h0M197.5 189.7h0M181.1 168.6h0M190.2 167.6h0M181.1 159h0M184.8 160.3h0M185.8 174.7h0M178.1 169.1h0M198.2 188.7h0M177.3 160.6h0M196.3 190.2h0M199.5 186.4h0M188.3 172h0M216.2 197.5h0M195.5 181h0M185.8 172.1h0M201 187h0M188.8 172.5h0M181.3 154.8h0M170.4 185.2h0M188.7 179.1h0M193.5 179.4h0M175.4 170.7h0M179.1 158.3h0M184.6 170.7h0M181 169.2h0M179.9 168.3h0M195 172h0M181.2 169.2h0M191.5 184.2h0M187 157.2h0M180.6 159h0M191.7 184.5h0M181.9 161.3h0M176 171.4h0M193.1 169.4h0M191 172h0M168.9 191.9h0M184.3 144.4h0M185.5 153h0M171.9 180.9h0M209.4 191h0M193.3 186.3h0M212.3 197.2h0M216.6 194.9h0M199.3 187.5h0M179.1 167.3h0M196.7 182.1h0M186.5 153.5h0M173.4 177.1h0M175.7 171.4h0M203 186.1h0M178.5 168h0M176.8 166.2h0M188.3 178.3h0M186 148h0M187.7 162.5h0M195.2 184.6h0M192.4 182.8h0M180.4 164.5h0M183.9 169.8h0M179.9 152.2h0M187.7 177.8h0M171.6 182.6h0M207.7 195.1h0M196.9 189.8h0M196.2 186.3h0M200.1 188.3h0M186.1 173.9h0M193.8 170.2h0M198 187.4h0M184.6 145.8h0M206.2 195.3h0M197.4 179.1h0M197.3 171h0M208.5 195.8h0M223.2 199h0M186.2 139.5h0M179.2 166.6h0M195.1 187.7h0M182.7 152.7h0M194.6 175.5h0M202.9 182.8h0M209.6 190.2h0M218.6 197.5h0M198.4 187.1h0M217.2 196.2h0M187.9 164.3h0M183.6 171.8h0M186.4 176.2h0M167.9 196h0M188.7 160.5h0M173 176.4h0M176.7 168.2h0M183.6 166.9h0M198.9 189.2h0M186.6 158.3h0M176.9 169.3h0M198.4 178.2h0M218.8 198.4h0M195.1 187.2h0M198.4 177.8h0M177.8 168.1h0M213.3 196.8h0M195.4 174h0M183.1 152.9h0M167.8 196.1h0M179.2 167.2h0M180.9 169.1h0M203.6 194.1h0M193 179.4h0M206.4 187.1h0M194.9 188.3h0M201.3 193.2h0M212.5 196.8h0M182.3 169.4h0M186.7 154.6h0M206.8 189.6h0M199.7 191.6h0M184.4 170.9h0M188 151.4h0M222.9 199.3h0M216.5 193.3h0M188.9 165.1h0M202.6 193.6h0M194.7 164.4h0M208.6 187.7h0M175.3 168.6h0M189.8 155h0M179.2 164.3h0M177.2 162.7h0M199.4 192.1h0M184 172.3h0M195.5 181.1h0M174 169.6h0M216.6 197.3h0M193 183.8h0M194.3 185h0M188.2 160.1h0M179.9 167.3h0M201.5 192.8h0M174.4 168.7h0M178.9 166.7h0M184.1 171.3h0M185.3 165.6h0M177 167.6h0M173.2 177.9h0M180.5 168h0M185 172h0M205.6 190.2h0M189.3 162h0M197.7 189.6h0M194.7 175.7h0M191.5 169.2h0M195.4 169h0M182.6 158.6h0M218.4 197.3h0M210.5 196.7h0M199.5 191.2h0M200.8 190.5h0M191.6 183.3h0M182.4 149.3h0M195.8 181.6h0M176.9 169.6h0M217 198.1h0M191.7 171.9h0M190.7 175.2h0M217.3 195.2h0M181.7 165.8h0M187.5 162.6h0M197.2 189.8h0M198 188.3h0M169.9 188.6h0M186.1 175.2h0M197 169.3h0M212.8 194.8h0M206.9 193.5h0M193.5 166.4h0M173.8 175.6h0M186 172.7h0M187.8 178.8h0M197.4 171.6h0M181.6 169.1h0M184.8 152.1h0M181.4 155.4h0M179.4 163h0M199.3 184.3h0M175.3 164.8h0M206.3 193.2h0M207.1 192.2h0M179.2 166.5h0M204.6 192.4h0M172.5 179.8h0M179.9 162.6h0M195.9 186h0M187 142.4h0M185 159.3h0M180.6 164h0M179.7 168.4h0M184.9 173.7h0M186.3 161.8h0M192.1 168.3h0M189.5 181.3h0M199.6 189.9h0M200.8 176.5h0M191.2 182.7h0M185.5 167.3h0M184.3 172.9h0M186.8 162.7h0M204.4 187.1h0M208.8 190.1h0M187.2 164.1h0M173.4 173.6h0M198.7 190.8h0M189.3 179.4h0M203.2 192h0M202.4 180.6h0M202.2 192h0M185 141.5h0M210.4 196.5h0M185.7 152.8h0M201.1 192.2h0M188.4 145.6h0M175.6 171.7h0M196.7 172.8h0M214.4 196.5h0M202.9 179.6h0M184.6 172.3h0M182.5 153.6h0M178 165.6h0M212.7 197.1h0M195.2 183.4h0M216.8 197h0M190 155.9h0M200.9 192.8h0M203.7 192.6h0M217.1 193.1h0M190 177.9h0M181.4 168.1h0M180.7 168.6h0M199.8 192.3h0M194 179.7h0M200 187.5h0M212.4 196.9h0M175.8 169.2h0M182.8 140.6h0M211.9 193.8h0M205.4 194.6h0M189.8 178.1h0M185.1 170.5h0M189.5 168.5h0M171 183.7h0M177.5 157.7h0M192.2 176.9h0M184.2 157.2h0M198.8 175.9h0M193.3 185.5h0M195.2 189h0M200.5 191.6h0M199.3 191.8h0M194 187.3h0M172.1 181h0M206.4 194.1h0M191.1 166.5h0M218.6 198.4h0M198.1 179.6h0M203.1 192.8h0M189.4 161.4h0M182.2 164.7h0M195.4 172.7h0M182 159h0M181.1 168.9h0M189.5 168.7h0M195.7 168.7h0M179.1 164.7h0M189.6 180h0M211.5 196.9h0M182.5 170.6h0M195.9 180.8h0M181.3 148.5h0M195.5 188.7h0M213.8 192.7h0M184.1 147.8h0M177.6 168.3h0M187.5 144.1h0M183.7 168.4h0M180.7 154.4h0M179.8 155h0M185 164.8h0M208.3 195.7h0M191.3 173.7h0M193.2 183.2h0M196 188.2h0M178.7 168.9h0M194.3 180.9h0M203.4 194.1h0M197.1 187.2h0M191.2 164.5h0M191 179.2h0M195.9 189.5h0M208 193.7h0M172.5 178.8h0M214.3 191.2h0M187.7 177h0M213.3 197.1h0M170.2 187.5h0M189.3 166.9h0M174.3 174.4h0M199.7 190.6h0M179.5 160h0M188.1 163h0M189.7 160.8h0M190.7 154.1h0M204.2 187.9h0M189.9 171.5h0M186.1 176h0M208.9 190h0M201.6 181.8h0M192.2 157.1h0M189.3 147.9h0M175.1 172h0M192.9 168.9h0M191 166.3h0M186 160h0M203.2 189.5h0M170.5 184.7h0M166.2 202.1h0M176.9 164.2h0M179.2 160.3h0M174.6 173.9h0M198.1 174.2h0M174.6 171.7h0M186.8 164.3h0M174.9 173.2h0M175 166.9h0M189.9 171.4h0M177.8 163.7h0M210.2 196.5h0M202.4 182.9h0M221.6 197.8h0M195.9 187.7h0M202.4 192.7h0M195 180.4h0M220.8 196.2h0M175.9 171.5h0M185.5 170.4h0M199.1 191.1h0M192.5 181.2h0M183.9 160.1h0M188 143.2h0M177.6 159.4h0M195.6 185.4h0M174.9 170.2h0M203.6 193h0M198.9 187.2h0M175.6 165.6h0M184.1 166.3h0M201.4 180.8h0M206.7 194.5h0M206.3 195.3h0M192.2 181.2h0M207.5 190.6h0M196.5 176.6h0M185.2 168.7h0M176.3 170.3h0M180.4 158.1h0M177.6 158.9h0M194.1 183.7h0M177.1 168.2h0M192.6 185.6h0M218.3 198h0M188 177.1h0M186 173.9h0M206.7 195.7h0M185.7 163.5h0M189.6 178.9h0M189.7 181.7h0M184 167.5h0M201.6 191.1h0M187.4 163.9h0M183 163.2h0M180.2 161.7h0M191.7 173.7h0M208.2 189.7h0M220.6 198.8h0M215.2 196.9h0M185.8 169.2h0"/>
<path fill="none" stroke="#5786a8" stroke-width="2.1" stroke-linecap="round" d="M188.4 132.5h0M199.7 133h0M197.6 151.2h0M204 152.6h0M212.1 178.2h0M218 184.3h0M222.3 188.9h0M230.4 192.2h0M225.5 195h0M206.7 175.9h0"/>
<path d="M164.2 209.9 L166.89 199.65 L169.58 189.86 L172.27 180.54 L174.96 173.09 L177.65 169.36 L179.8 168.43 L181.95 169.82 L184.64 173.55 L187.33 178.21 L191.1 183.8 L193.79 187.53 L196.48 190.33 L201.86 193.59 L207.24 195.92 L212.62 197.32 L218 198.48 L223.38 199.42 L227.68 200.11 L227.68 202.91 L218 203.14 L201.86 203.14 L185.72 203.14 L176.04 203.61 L172.27 204.54 L169.04 205.94 L166.35 208.04 L164.2 209.9Z" fill="#e0899a" stroke="none" stroke-width="1"/>
<path fill="none" stroke="#e0899a" stroke-width="1.9" stroke-linecap="round" d="M222.7 204.4h0M216.1 203.6h0M177.4 203.8h0M208.6 204.1h0M174.4 204h0M226.9 203.4h0M173 205h0M176.2 204.7h0M200.6 204h0M223 203.2h0M182.8 204.4h0M205 203.8h0M190.8 204h0M224 204.3h0M222.5 204.4h0M178.1 203.5h0M217.5 203.5h0M200.1 203.8h0M225.7 203.6h0M178.3 203.8h0M221.7 204.2h0M178.6 204.8h0M191.7 204.2h0M202.6 204.3h0M198.3 203.2h0M202.2 204.3h0M193.9 204.3h0M195.9 203.6h0M190.9 203.5h0M198.9 204.5h0M204 204.2h0M180.8 203.9h0M203.4 203.7h0M171.1 206.2h0M177.9 204.4h0M226.1 203.4h0M185.9 203.6h0M201.3 204.5h0M178.8 203.8h0M221.3 203.5h0M208.3 204.2h0M170.7 205.3h0M213.5 204.4h0M209.9 203.8h0M176.4 204.3h0M176.9 204h0M172.6 205.2h0M197.1 203.5h0M183.2 203.4h0M172.2 204.7h0M226.2 203h0M211.1 203.8h0M203.8 203.6h0M226.1 204.1h0M193.5 203.7h0M222.5 203.3h0M220 204h0M202.7 203.9h0M204 203.3h0M184.7 203.7h0M183.2 203.4h0M210.9 203.7h0M212.5 203.7h0M223.8 203.3h0M199.6 203.7h0M215.3 203.3h0M201.5 203.8h0M205.9 203.5h0M201.3 204.5h0M176.5 204.9h0M225.3 203.6h0M175.2 204.5h0M225.1 203h0M213.2 204.2h0M177.2 204.4h0M179 203.6h0M200.1 203.6h0M207.9 203.9h0M183.6 204.5h0M171 206.2h0M186.6 204.4h0M205 203.8h0M182.9 204.5h0M219.1 204.5h0M204 204.4h0M221.2 204h0M189.8 204h0M190 204.3h0M201.9 204.4h0M221 204.1h0M182.1 203.8h0M175.5 204.2h0M179.6 203.9h0M215.5 203.3h0M222.5 204.3h0M214.2 203.5h0M187.1 203.8h0M205.6 204.4h0M171.8 204.9h0M217.1 203.2h0M221.1 203.3h0M225.8 203.6h0M204.9 204.3h0M217.2 203.7h0M196.7 204.2h0M185.1 203.6h0M219.9 204.3h0M217.4 203.6h0M190 203.3h0M217.7 203.2h0M181 203.4h0M196.5 204.5h0M174.6 204.3h0M185.8 204.1h0M190.8 203.4h0M209.7 204.4h0M180 203.5h0M193.7 204.4h0M174 204.3h0M207.1 204.2h0M196.2 203.2h0M201.8 203.3h0M174.8 204h0M223.6 203.2h0M197.5 204.3h0M182 203.9h0M215.5 203.9h0M181.6 204.1h0M226.9 204.1h0M225 203h0M173.9 204.8h0M171.4 206.3h0M187.2 203.9h0M220.2 203.7h0M213.9 203.4h0M195.8 204.2h0M197.1 203.4h0M219.2 203.6h0M222.2 203.5h0M217.4 203.3h0"/>
<path fill="none" stroke="#e0899a" stroke-width="2.2" stroke-linecap="round" d="M229.3 198.2h0M230.9 199.6h0M232 198.9h0M234.7 201h0M228.2 200.6h0M184.1 201.3h0M177.1 202h0"/>
<path d="M164.2 209.9 C164.65 208.19 165.99 202.99 166.89 199.65 C167.79 196.31 168.68 193.05 169.58 189.86 C170.48 186.68 171.37 183.34 172.27 180.54 C173.17 177.75 174.06 174.95 174.96 173.09 C175.86 171.22 176.84 170.13 177.65 169.36 C178.46 168.58 179.08 168.35 179.8 168.43 C180.52 168.5 181.15 168.97 181.95 169.82 C182.76 170.68 183.75 172.15 184.64 173.55 C185.54 174.95 186.26 176.5 187.33 178.21 C188.41 179.92 190.02 182.25 191.1 183.8 C192.18 185.36 192.89 186.44 193.79 187.53 C194.69 188.62 195.13 189.32 196.48 190.33 C197.82 191.34 200.07 192.66 201.86 193.59 C203.65 194.52 205.45 195.3 207.24 195.92 C209.03 196.54 210.83 196.89 212.62 197.32 C214.41 197.75 216.21 198.13 218 198.48 C219.79 198.83 221.77 199.14 223.38 199.42 C224.99 199.69 226.97 200 227.68 200.11" fill="none" stroke="#000" stroke-width="1.75" stroke-dasharray="0.01 2.7" stroke-linecap="round"/>
<line x1="161.2" y1="132.7" x2="161.2" y2="213.3" stroke="#1e1e1e" stroke-width="1.35" stroke-linecap="square"/>
<line x1="161.2" y1="213" x2="243.2" y2="213" stroke="#1e1e1e" stroke-width="1.35" stroke-linecap="square"/>
<line x1="158.5" y1="140" x2="161.2" y2="140" stroke="#1e1e1e" stroke-width="0.9"/>
<line x1="158.5" y1="163.3" x2="161.2" y2="163.3" stroke="#1e1e1e" stroke-width="0.9"/>
<line x1="158.5" y1="186.6" x2="161.2" y2="186.6" stroke="#1e1e1e" stroke-width="0.9"/>
<line x1="158.5" y1="209.9" x2="161.2" y2="209.9" stroke="#1e1e1e" stroke-width="0.9"/>
<line x1="164.2" y1="213" x2="164.2" y2="215.5" stroke="#1e1e1e" stroke-width="0.9"/>
<line x1="174.98" y1="213" x2="174.98" y2="215.5" stroke="#1e1e1e" stroke-width="0.9"/>
<line x1="185.76" y1="213" x2="185.76" y2="215.5" stroke="#1e1e1e" stroke-width="0.9"/>
<line x1="196.54" y1="213" x2="196.54" y2="215.5" stroke="#1e1e1e" stroke-width="0.9"/>
<line x1="207.32" y1="213" x2="207.32" y2="215.5" stroke="#1e1e1e" stroke-width="0.9"/>
<line x1="218.1" y1="213" x2="218.1" y2="215.5" stroke="#1e1e1e" stroke-width="0.9"/>
<line x1="228.88" y1="213" x2="228.88" y2="215.5" stroke="#1e1e1e" stroke-width="0.9"/>
<line x1="239.66" y1="213" x2="239.66" y2="215.5" stroke="#1e1e1e" stroke-width="0.9"/>
<text x="155.2" y="143" font-size="8.7" text-anchor="end" textLength="8.3" lengthAdjust="spacingAndGlyphs">15</text>
<text x="155.2" y="166.3" font-size="8.7" text-anchor="end" textLength="8.3" lengthAdjust="spacingAndGlyphs">10</text>
<text x="155.2" y="189.6" font-size="8.7" text-anchor="end" textLength="4.15" lengthAdjust="spacingAndGlyphs">5</text>
<text x="155.2" y="212.9" font-size="8.7" text-anchor="end" textLength="4.15" lengthAdjust="spacingAndGlyphs">0</text>
<text x="164.2" y="224.6" font-size="8.7" text-anchor="middle" textLength="4.15" lengthAdjust="spacingAndGlyphs">0</text>
<text x="196.48" y="224.6" font-size="8.7" text-anchor="middle" textLength="4.15" lengthAdjust="spacingAndGlyphs">6</text>
<text x="228.76" y="224.6" font-size="8.7" text-anchor="middle" textLength="8.3" lengthAdjust="spacingAndGlyphs">12</text>
<text x="142.6" y="171.4" font-size="10.28" text-anchor="middle" textLength="28.2" lengthAdjust="spacingAndGlyphs" transform="rotate(-90 142.6 171.4)">Variance</text>
<text x="201" y="234.5" font-size="10.18" text-anchor="middle" textLength="56" lengthAdjust="spacingAndGlyphs">Mean expression</text>
<rect x="209.6" y="137" width="5.4" height="5.3" fill="#5786a8" stroke="none" stroke-width="1"/>
<text x="216" y="142.3" font-size="8" textLength="27" lengthAdjust="spacingAndGlyphs">Top 500</text>
<path d="M255.6 208.5 L256.25 205.15 L256.89 201.79 L257.54 198.44 L258.18 197.35 L258.83 193.18 L259.47 188.1 L260.12 182.97 L260.76 182.78 L261.41 181.23 L262.06 179 L262.7 174.87 L263.35 176.03 L263.99 171.59 L264.64 170.28 L265.28 171.14 L265.93 167.72 L266.58 166.56 L267.22 165.16 L267.87 160.88 L268.51 163.52 L269.16 162.29 L269.8 156.44 L270.45 157.32 L271.09 156.6 L271.74 154.3 L272.39 152.56 L273.03 148.69 L273.68 151.04 L274.32 149.89 L274.97 148.23 L275.61 148.68 L276.26 147.07 L276.9 148.3 L277.55 151.67 L278.2 153.5 L278.84 151.62 L279.49 151.75 L280.13 157.05 L280.78 154.61 L281.42 154.99 L282.07 157.04 L282.72 160.1 L283.36 158.44 L284.01 159.79 L284.65 163.33 L285.3 162.83 L285.94 166.38 L286.59 168.79 L287.23 169 L287.88 170.6 L288.53 171.51 L289.17 171.54 L289.82 171.85 L290.46 172.47 L291.11 173.6 L291.75 174.64 L292.4 176.33 L293.04 179.33 L293.69 180.68 L294.34 179.34 L294.98 180.43 L295.63 180.47 L296.27 183.82 L296.92 184 L297.56 181.24 L298.21 183.37 L298.86 183.58 L299.5 187.02 L300.15 186.26 L300.79 184.53 L301.44 186.4 L302.08 185.44 L302.73 189.75 L303.37 189.15 L304.02 188.14 L304.67 190.4 L305.31 189.4 L305.96 190.98 L306.6 193.56 L307.25 194.17 L307.89 190.56 L308.54 195.11 L309.18 195.25 L309.83 195.06 L310.48 193.76 L311.12 193.57 L311.77 195.8 L312.41 196.09 L313.06 195.06 L313.7 197.75 L314.35 197.63 L315 196.83 L315.64 197.04 L316.29 200.12 L316.93 200.06 L317.58 200.22 L318.22 197.76 L318.87 198.19 L319.51 197.23 L320.16 199.8 L320.16 202.92 L318.55 202.63 L316.93 203.3 L315.32 202.95 L313.7 202.88 L312.09 202.67 L310.48 202.89 L308.86 202.88 L307.25 203.49 L305.63 203.48 L304.02 203.17 L302.41 202.94 L300.79 203.18 L299.18 202.94 L297.56 203.12 L295.95 203.23 L294.34 202.81 L292.72 203.12 L291.11 202.96 L289.49 203.19 L287.88 203.44 L286.27 203.33 L284.65 202.84 L283.04 203.43 L281.42 203.42 L279.81 203.04 L278.2 203.56 L276.58 202.83 L274.97 203.6 L273.35 203.75 L271.74 203.7 L270.13 203.68 L268.51 203.67 L266.9 204.2 L265.28 204.28 L263.67 204.09 L262.06 204.99 L260.44 206.17 L258.83 206.95 L257.21 208.5 L255.6 209.9Z" fill="#e0899a" stroke="none" stroke-width="1"/>
<path fill="none" stroke="#e0899a" stroke-width="2.1" stroke-linecap="round" d="M270.2 155.6h0M271.3 153.2h0M277.5 148h0M293.2 175.5h0M275.3 139.9h0M294.4 173.3h0M264.6 169.2h0M304.6 189.6h0M273.8 141.1h0M279.3 151h0M299 183.4h0M273.7 149.1h0M278.7 144.7h0M279.5 143.7h0M267.2 164.4h0M289.2 169.6h0M284.1 150.4h0M276.5 148.8h0M264.6 169.7h0M277.1 146.9h0M260.9 180.8h0M279.8 144.9h0M277.2 137.7h0M287.2 166.3h0M296.6 181.8h0M288.3 162.3h0M285.7 163.3h0M269 157.4h0M273.3 148.7h0M285.8 154.3h0M291.3 173.3h0M301.7 186.7h0M280.1 147.3h0M286.2 165.2h0M280.9 145.5h0M275.3 141.5h0M265.9 161.9h0M291.8 175.9h0M314.9 193.5h0M266.9 165.1h0M283.8 148.1h0M271.3 154.7h0M277.6 151.1h0M280.8 151.3h0M281.9 157.3h0M263.6 170.9h0M281.9 154.2h0M283.3 153.6h0M305 185.5h0M294 178.3h0M272.5 151.7h0M301.8 187.4h0M286.8 157.5h0M277.9 149.2h0M281.2 142.8h0M291.9 169.4h0M265.1 166.7h0M282.3 155.9h0M299 180.1h0M305.8 187.4h0M305.8 189.9h0M286.3 158.7h0M282.4 158h0M287.5 159.9h0M302.6 188.1h0M279.9 153.7h0M278.6 137.2h0M281.3 155h0M276.3 146.4h0M291.2 174.7h0M273.2 149.9h0M275.9 137.1h0M272.5 145.2h0M269.7 152.8h0M276.1 140.3h0M281.7 157h0M268.9 154.7h0M285.7 161.8h0M278.9 145.1h0M283.5 159.9h0M288.1 169.2h0M300.9 184.2h0M296.5 182h0M293 174.5h0M301.2 180.7h0M286.1 161.4h0M296.1 181.1h0M285.9 157.6h0M287.9 166.3h0M301.6 179.8h0M275.9 148.9h0M288.7 171h0M312.5 194.7h0M285.4 156.1h0M302.6 188h0M282.4 157.8h0M282.7 158.5h0M303.1 187.7h0M280.2 141.8h0M299.4 184.1h0M284.1 155.7h0M273.3 150.2h0M301.7 187.1h0M293 172.7h0M287.7 168.1h0M301.7 182.5h0M267.5 157.5h0M289.7 172.2h0M272.5 151.6h0M298.6 178.3h0"/>
<path fill="none" stroke="#e0899a" stroke-width="2" stroke-linecap="round" d="M282.3 203.4h0M266.3 204.5h0M279.4 203.2h0M279.4 204.3h0M265.8 204.6h0M291.9 203.4h0M264.2 204.5h0M270.4 204.8h0M312.1 204.1h0M314.3 203.5h0M276.5 204.4h0M297.3 204.4h0M282.9 203.7h0M303.8 204.4h0M271.7 203.8h0M262.9 205.7h0M315.7 203.8h0M270.7 204.4h0M299.8 203.3h0M315.2 203.9h0M290.6 203.6h0M271.4 204.1h0M283.3 203.5h0M299.6 204.1h0M317.5 204.3h0M289.1 204.1h0M283.8 203.7h0M295 204.5h0M264.5 205h0M281.6 204.3h0M317.3 203.6h0M266.7 204.6h0M296.2 204.1h0M307.2 203.8h0M294 204.2h0M263.6 204.9h0M302 204.5h0M316.9 203.4h0M318.5 203.3h0M288.4 203.4h0M297.1 203.7h0M301.9 204.5h0M269.5 204.4h0M297 203.5h0M264.1 205.7h0M302.4 204h0M268 204.8h0M285.2 203.8h0M294.4 203.8h0M317.5 203.6h0M301.4 204.2h0M316.3 203.2h0M281.8 204.5h0M297.3 203.7h0M313.3 203.2h0M276.8 203.3h0M301 203.8h0M279.7 203.8h0M276.8 204.2h0M306.2 203.7h0"/>
<path fill="none" stroke="#e0899a" stroke-width="2.2" stroke-linecap="round" d="M322.9 198.2h0M324.5 199.6h0M325.5 197.8h0M327.7 201.5h0M323.4 195.9h0M276.6 131.6h0M289.5 130.7h0"/>
<path fill="none" stroke="#5786a8" stroke-width="2" stroke-linecap="round" d="M300.9 198.4h0M289.6 189.4h0M274.8 166.7h0M273.1 169.7h0M284.4 175.1h0M281.7 182.1h0M296.4 184.8h0M312.4 202h0M277 171.6h0M311.2 195h0M301.7 196.3h0M287 179.8h0M279.5 173.8h0M298.8 186.5h0M293.7 182.8h0M312.4 194.3h0M280.3 179h0M271 163h0M290.7 180.1h0M293.5 188.8h0M290.2 190.8h0M280.5 177.5h0M297.5 187.7h0M290.7 186.8h0M283.7 180.6h0M270.5 165.7h0M298.4 194.1h0M287.7 179.8h0M278.5 174.7h0M290.2 189.3h0M303.3 199.9h0M301.6 190h0M285 183.3h0M300.9 189h0M278.9 175.8h0M273.4 167.4h0M282.6 175h0M280.5 180.3h0M297.5 184.6h0M298 189.5h0M294.5 182.8h0M269.6 167.3h0M295 190.6h0M296.2 192.5h0M305.9 195.1h0M290.3 183.2h0M298.6 189.9h0M278.9 174.1h0M289.5 190.4h0M299 193.7h0M304 195.4h0M306.3 191.2h0M284.9 177.4h0M263.2 180.7h0M282.3 178.8h0M294 188h0M291 182.1h0M299.3 196.6h0M299 187.6h0M279.5 179.9h0M278.2 178h0M289.7 177.7h0M287.4 186h0M277.3 164.3h0M289 187.8h0M303.4 194.4h0M310.1 195.2h0M280.5 179.7h0M267.2 167.6h0M294.9 183.4h0M285.1 180.3h0M294.6 186h0M284 183.5h0M281.6 183.3h0M291.7 184h0M296.6 190.2h0M295 187.4h0M300.1 190.8h0M292.9 185.4h0M278.6 178.7h0M298.6 188.1h0M288 177.7h0M277.8 168.4h0M287.9 188.8h0M275.4 174.9h0M278.1 168.2h0M287.2 188.9h0M287.6 176.4h0M297.2 192.5h0M287.3 184.6h0M279.7 172.1h0M268 165.4h0M295.9 186.7h0M299.1 184.7h0M281.1 169.8h0M302.3 192.8h0M275.7 168.3h0M287.7 176.2h0M280.2 171.9h0M296 187.6h0M281.5 170.9h0M280.5 170.4h0M302 192.1h0M270.7 168.1h0M277.9 173.9h0M289.8 180.4h0M270.3 167.4h0M294.3 194.6h0M283.8 173.1h0M301.2 198.4h0M284.7 174.3h0M277.5 171.9h0M280.8 178.5h0M287.5 188h0M276.6 163.3h0M296.2 187.7h0M275.7 173.9h0M291.3 184.1h0M266.2 168h0M281 174.1h0M303.6 195.5h0M288 189.8h0M286.9 176.7h0M305.5 196.1h0M300.5 184.9h0M282.2 172.4h0M281.4 169.9h0M302.7 186.3h0M285.3 178h0M294 186.4h0M270.7 163.1h0M291.9 180.5h0M307.5 192.7h0M283.8 179h0M277.8 175.5h0M309.2 196h0M286.9 176.9h0M297.6 196.4h0M285.4 180.3h0M279.9 170.9h0M291.2 180.8h0M275.6 173.1h0M282.2 177.2h0M280.5 175.2h0M283.5 184.9h0M298.8 190.3h0M302.7 192.6h0M300.5 190.2h0M287.6 177h0M284 172.6h0M290.3 178.7h0M273.5 168.4h0M298.5 184.9h0M300.5 193.3h0M272.2 166.8h0M298.8 189.6h0M295 185.4h0M279.9 176.2h0M284.6 177.1h0M293.2 180.1h0M288.8 186.1h0M274.9 168.5h0M290.5 182.5h0M268.5 168h0M297.1 183.5h0M275.8 165.7h0M286.4 180.5h0M293.3 188.4h0M290.8 178.9h0M267.8 164.4h0M301.3 195.7h0M297 183.8h0M285.3 180h0M281.9 170.1h0M277.9 169h0M311 188.9h0M300.1 192.5h0M305.3 189h0M285.6 182.8h0M283 180.7h0M289.7 185.8h0M307 201.5h0M290.7 186.3h0M313 188.9h0M294.3 184.6h0M284.5 177h0M280.1 170.5h0M289.9 188.5h0M278.9 174.8h0M283.5 176.5h0M286.8 188.7h0M282.9 178.8h0M310.9 189.5h0M291.1 179.1h0M276.4 173.9h0M276.4 173.2h0M281.4 175.9h0M301.9 194.6h0M282.8 178.5h0M306.1 194.1h0M309.7 198h0M289.2 182.4h0M294.5 183.2h0M274.9 171.7h0M274.1 166.7h0M287.6 189.5h0M297.7 183.6h0M266.8 165.8h0M274.8 174.1h0M293.9 183.3h0M285.4 175.6h0M264.5 174.9h0M277.9 174.2h0M283 172.7h0M287.9 184.3h0M298.2 191.4h0M282.4 179.8h0M290.1 179.1h0M304.3 200.4h0M284.1 176.7h0M287.7 179.8h0M305.2 200.3h0M293.7 191h0M292.3 190.7h0M275.9 164.2h0M292.3 184.5h0M285.9 184.7h0M271.5 160.7h0M295.8 194.7h0M266.5 170.6h0M291 188.2h0M296.8 194.2h0M287.7 184.4h0M279.7 176.8h0M278.1 174.9h0M286.2 183.1h0M292.5 181.2h0M287.9 187.5h0M288 188.3h0M299.6 198h0M281.5 170.5h0M290.1 187.1h0M269.2 167.4h0M272.4 168h0M296 194.3h0M275.4 172.6h0M306.3 201h0M287.2 176.9h0M293 193.7h0M292.6 189.3h0M279.3 178.9h0M274.6 166.4h0M295.9 183.3h0M291.8 186.9h0M303.5 198h0M304.2 186.9h0M288.9 180.6h0M291.1 182.8h0M293.2 184.3h0M293.1 187.2h0M278 174.3h0M282.9 175.6h0M275.6 166h0M287 176.5h0M285.7 177.6h0M276.1 174.4h0M300.1 187.1h0M280.2 176h0M296.2 194.9h0M293.3 184.3h0M306.3 187.3h0M296.7 194.8h0M298.5 195.4h0M281.4 172h0M287.6 184.1h0M301.9 187.6h0M282 172.4h0M311.3 193h0M279.3 173.3h0M289.4 187.4h0M295.4 193.9h0M277.2 164.6h0M283.3 183.5h0M296.9 185.4h0M286.2 181.8h0M266 173.3h0M306.3 191.2h0M293.4 188.5h0M282.2 174.1h0M297.3 195.7h0M274.7 173.5h0M294 187.8h0M272.4 164.8h0M296.4 186h0M291.8 190.3h0M289 184.9h0M305.3 200.6h0M268.1 169.2h0M282.6 175.9h0M295.8 184.5h0M272.7 167.3h0M283.2 181.7h0M277.4 173.2h0M273.7 162.7h0M306.1 200.4h0M274.6 165.1h0M308.9 196.4h0M282.5 179.2h0M264.6 175.9h0M276.1 162.7h0M292.2 181.7h0M285.8 180.6h0M284.1 179.9h0M297.3 187.3h0M276.6 173.3h0M292.3 186.3h0M288.8 190.3h0M281.6 177.5h0M302.8 186.3h0M273.1 168.9h0M285.5 179.4h0M295.2 187.2h0M291.3 184.4h0M277.8 176h0M287.6 189h0M284.5 178.1h0M301.2 185.5h0M289.9 189.7h0M289.8 182.1h0M279.2 169h0M278.2 170.2h0M306.1 189.3h0M295.9 191.8h0M285.5 175.4h0M287.5 187.1h0M283.3 184.5h0M306.9 196.2h0M287.3 188.8h0M291.4 190.6h0M278.6 169h0M287.3 181.9h0M281.1 182h0M283.1 180h0M302.3 189.7h0M286.7 181.4h0M294 184.1h0M296 192h0M284.9 183.2h0M284.4 175.2h0M286.4 188.2h0M295.2 190.6h0M294.3 182h0M302.9 192.1h0M267.2 169.8h0M288.4 190.2h0M272 162.8h0M291.1 190h0M280.2 177.8h0M298 194.1h0M290.1 180h0M273.6 169.2h0M290.2 187.3h0M307.3 197h0M300.6 193.1h0M287.7 179.7h0M294.9 186h0M279.7 175h0M272.3 168.4h0M302.1 187.5h0M280.9 172.7h0M310.1 192.7h0M300.8 192.6h0M297.9 188.7h0M289 184.7h0M290.2 184.9h0M289.4 190.8h0M294.5 192.3h0M274.4 163.2h0M297.7 191.2h0M276.5 171.6h0M275.2 168.9h0M280.4 176.2h0M302.7 186.7h0M276.6 168.7h0M300.6 185.1h0M288.9 180.5h0M274.6 170.1h0M295 182.9h0M275.6 163.6h0M299.7 197.1h0M291.4 188.6h0M298.7 192.5h0M302.6 189.9h0M280.7 175.7h0M289.5 185.7h0M299.4 196.3h0M301.9 186.5h0M282.4 175.1h0M291.6 180.2h0M277.3 166h0M295.7 185.2h0M287.4 182.2h0M267 170.4h0M302.6 189.1h0M275.7 171.4h0M289.7 185h0M299.1 188.6h0M302.3 187.5h0M296.4 185.2h0M306.2 198.4h0M285.8 175.4h0M283.1 180.5h0M273.3 164.2h0M277.9 175.4h0M276.7 165.4h0M278.9 167.8h0M306.1 192.1h0M305.2 188.7h0M287.7 182h0M275.9 163.5h0M304.7 199.3h0M278.9 178.9h0M293.8 191.1h0M263.2 177.8h0M289.2 181.2h0M304.1 200.4h0M274.4 169.1h0M298.4 185.2h0M302.7 190.2h0M279.9 169.3h0M292.9 185.3h0M281.1 179.3h0M305.8 193.6h0M287.6 186.6h0M280.5 180.2h0M295.4 187.1h0M283.5 181.6h0M289.7 186.9h0M299.5 184.6h0M285 176.2h0M285 173.4h0M282.1 174.1h0M291.4 179.2h0M276.8 173.7h0M288.9 179.6h0M292.9 190.7h0M288.6 179.6h0M302.1 191.2h0M287.8 186.5h0M289.3 186.4h0M296.6 183.8h0M298 195.5h0M302.6 199.5h0M300.3 195.1h0M276.4 174.4h0M285.4 178.7h0M273.9 170.6h0M289.9 187.9h0M278.1 177.2h0M277.6 164.8h0M290.5 191.3h0M298.4 192.2h0M291.5 185.8h0M275.5 168h0M283.6 173h0M284.8 183.9h0M283.6 184.2h0M269.8 163h0M293.8 189.7h0M271.6 167.7h0M292.6 185.8h0M291.1 187.7h0M286.4 187.2h0M282.8 176.6h0M301.4 196.4h0M288.3 183.8h0M300.2 189.3h0M284.9 186.5h0M303.4 197.2h0M292.1 181.7h0M307.9 192h0M288.7 184.3h0M290.9 190.7h0M304.7 199.5h0M304.1 187.1h0M275.3 172.1h0M299 197.5h0M298.8 191.3h0M298.4 189.2h0M296.5 192.8h0M291.7 189.9h0M289.8 190.9h0M302.2 188.1h0M282.3 184.3h0M293.8 192.6h0M295.3 192.1h0M296.4 183h0M308.2 191.6h0M285.7 180.3h0M275.7 171.4h0M288.3 185.9h0M304.6 196.5h0M294.5 182.3h0M296.8 184.5h0M298.1 187.9h0M265.4 174.1h0M289.9 178.4h0M290.7 187.6h0M296.2 196.1h0M287.6 186.9h0M282.7 179.1h0M282.5 182.5h0M302 193.7h0M282.2 175.9h0M302.5 192.2h0M285.5 174.4h0M282.8 180.1h0M280.2 180.5h0M281.3 172.8h0M289.4 178.8h0M276.4 175h0M292.9 191h0M305.4 187.6h0M268.4 166.1h0M293.3 192.8h0M283.6 176.4h0M306.7 191.4h0M288.5 179.8h0M277.5 173.1h0M271.1 166.8h0M293.8 185.6h0M273.7 168.7h0M286 181.2h0M302.2 191.1h0M302.7 197.6h0M290.6 185.2h0M287.9 180.1h0M301.5 197.5h0M280.6 180.6h0M275.9 162.9h0M279.5 176.6h0M290.5 191.1h0M309.5 191.5h0M277.7 176.2h0M275 168.3h0M289.7 184.5h0M305.1 195.4h0M296 190.4h0M282.8 177h0M288.7 179h0M283.6 181.2h0M290.2 184.9h0M285 175.5h0M278.6 175.8h0M275.3 175.2h0M301.6 185.6h0M277.6 166.2h0M307.5 193.9h0M276.7 166h0M306.5 192.5h0M285.9 158.6h0M278.2 148.9h0M285.3 166.6h0M284.1 169.6h0M288.4 163.2h0M286.9 169.9h0M270.2 143.7h0M274.6 159.4h0M284.9 171.4h0M285.3 168.8h0M273.1 142.4h0M278 148.8h0M284.8 164.6h0M276.7 161.5h0M285.1 172.8h0M286.8 169.1h0M275.1 147.7h0M287.5 163.2h0M269.3 154.3h0M279.6 156.8h0M285.4 173.2h0M290.3 164h0"/>
<path fill="none" stroke="#5786a8" stroke-width="2.1" stroke-linecap="round" d="M319.6 192.7h0M312.6 195.9h0M306.7 190.3h0M302.4 185.7h0M293.8 161.9h0M278.7 140h0M286.3 150.7h0"/>
<path d="M255.6 209.9 C256.05 208.11 257.39 202.75 258.29 199.18 C259.19 195.61 260.08 191.88 260.98 188.46 C261.88 185.05 262.77 181.55 263.67 178.68 C264.57 175.8 265.46 173.01 266.36 171.22 C267.26 169.44 268.15 168.43 269.05 167.96 C269.95 167.49 270.84 167.96 271.74 168.43 C272.64 168.89 273.53 169.75 274.43 170.76 C275.33 171.77 276.22 173.24 277.12 174.48 C278.02 175.73 278.91 177.05 279.81 178.21 C280.71 179.38 281.6 180.46 282.5 181.47 C283.4 182.48 284.29 183.34 285.19 184.27 C286.09 185.2 286.53 185.98 287.88 187.07 C289.23 188.15 291.47 189.55 293.26 190.79 C295.05 192.04 296.85 193.43 298.64 194.52 C300.43 195.61 302.23 196.58 304.02 197.32 C305.81 198.06 307.61 198.52 309.4 198.95 C311.19 199.38 312.99 199.65 314.78 199.88 C316.57 200.11 318.99 200.31 320.16 200.35 C321.33 200.39 321.5 200.15 321.77 200.11" fill="none" stroke="#000" stroke-width="1.75" stroke-dasharray="0.01 2.7" stroke-linecap="round"/>
<line x1="252.6" y1="132.7" x2="252.6" y2="213.3" stroke="#1e1e1e" stroke-width="1.35" stroke-linecap="square"/>
<line x1="252.6" y1="213" x2="334.6" y2="213" stroke="#1e1e1e" stroke-width="1.35" stroke-linecap="square"/>
<line x1="249.9" y1="140" x2="252.6" y2="140" stroke="#1e1e1e" stroke-width="0.9"/>
<line x1="249.9" y1="163.3" x2="252.6" y2="163.3" stroke="#1e1e1e" stroke-width="0.9"/>
<line x1="249.9" y1="186.6" x2="252.6" y2="186.6" stroke="#1e1e1e" stroke-width="0.9"/>
<line x1="249.9" y1="209.9" x2="252.6" y2="209.9" stroke="#1e1e1e" stroke-width="0.9"/>
<line x1="255.6" y1="213" x2="255.6" y2="215.5" stroke="#1e1e1e" stroke-width="0.9"/>
<line x1="266.38" y1="213" x2="266.38" y2="215.5" stroke="#1e1e1e" stroke-width="0.9"/>
<line x1="277.16" y1="213" x2="277.16" y2="215.5" stroke="#1e1e1e" stroke-width="0.9"/>
<line x1="287.94" y1="213" x2="287.94" y2="215.5" stroke="#1e1e1e" stroke-width="0.9"/>
<line x1="298.72" y1="213" x2="298.72" y2="215.5" stroke="#1e1e1e" stroke-width="0.9"/>
<line x1="309.5" y1="213" x2="309.5" y2="215.5" stroke="#1e1e1e" stroke-width="0.9"/>
<line x1="320.28" y1="213" x2="320.28" y2="215.5" stroke="#1e1e1e" stroke-width="0.9"/>
<line x1="331.06" y1="213" x2="331.06" y2="215.5" stroke="#1e1e1e" stroke-width="0.9"/>
<path d="M346.2 208.5 L346.85 205.15 L347.49 201.79 L348.14 198.44 L348.78 195.64 L349.43 192.63 L350.07 189.16 L350.72 181.9 L351.36 180.74 L352.01 178.54 L352.66 177.5 L353.3 176.61 L353.95 173.31 L354.59 172.36 L355.24 169.73 L355.88 168.7 L356.53 166.3 L357.18 166.6 L357.82 166.36 L358.47 164.82 L359.11 160.58 L359.76 161.61 L360.4 157.77 L361.05 156.31 L361.69 157.24 L362.34 152.19 L362.99 154.11 L363.63 149.1 L364.28 148.1 L364.92 149.9 L365.57 147.57 L366.21 147.82 L366.86 150.93 L367.5 149.09 L368.15 152.75 L368.8 150.19 L369.44 152.31 L370.09 151.79 L370.73 156.95 L371.38 156.55 L372.02 156.15 L372.67 157.24 L373.32 160.27 L373.96 158.02 L374.61 159.25 L375.25 162.83 L375.9 165.14 L376.54 164.29 L377.19 167.09 L377.83 167.48 L378.48 169.86 L379.13 171.51 L379.77 174.45 L380.42 175.12 L381.06 174.81 L381.71 174.75 L382.35 177.28 L383 176.54 L383.64 178.24 L384.29 177.4 L384.94 179.2 L385.58 181.48 L386.23 182.97 L386.87 183.95 L387.52 184.71 L388.16 181.52 L388.81 182.1 L389.46 183.32 L390.1 186.96 L390.75 185.04 L391.39 188.18 L392.04 185.28 L392.68 187.01 L393.33 187.17 L393.97 188.43 L394.62 189.92 L395.27 188.52 L395.91 188.59 L396.56 192.47 L397.2 192.08 L397.85 191.21 L398.49 191.98 L399.14 193.75 L399.78 194.06 L400.43 192.11 L401.08 195.8 L401.72 196.57 L402.37 194.82 L403.01 197.12 L403.66 194.55 L404.3 197.53 L404.95 195.06 L405.6 197.92 L406.24 195.88 L406.89 196.8 L407.53 197.17 L408.18 199.86 L408.82 200.37 L409.47 201.27 L410.11 200.92 L410.76 199.8 L410.76 202.92 L409.15 202.65 L407.53 202.88 L405.92 202.69 L404.3 203.38 L402.69 203.27 L401.08 202.74 L399.46 202.75 L397.85 202.97 L396.23 203.28 L394.62 203.05 L393.01 203.13 L391.39 203.54 L389.78 202.88 L388.16 202.93 L386.55 203.44 L384.94 203 L383.32 203.13 L381.71 203.01 L380.09 202.73 L378.48 203.06 L376.87 203.58 L375.25 202.84 L373.64 202.78 L372.02 202.7 L370.41 203.15 L368.8 203.09 L367.18 202.97 L365.57 203.15 L363.95 202.86 L362.34 203.76 L360.73 203.32 L359.11 203.81 L357.5 203.9 L355.88 204.46 L354.27 204.48 L352.66 205.48 L351.04 206.35 L349.43 207.04 L347.81 208.5 L346.2 209.9Z" fill="#e0899a" stroke="none" stroke-width="1"/>
<path fill="none" stroke="#e0899a" stroke-width="2.1" stroke-linecap="round" d="M393.1 187.5h0M378.2 168h0M388.4 179.4h0M365.8 145.1h0M378.5 169.1h0M363.7 148.1h0M358.2 161.9h0M399.3 188.9h0M356.9 161.9h0M384 173.8h0M354.6 170h0M364.2 141.9h0M368.5 149.5h0M363.2 142.8h0M365.2 138.2h0M375.2 161.6h0M381.1 171.7h0M354.6 169.4h0M366.9 149.2h0M386.6 177h0M370.6 154.2h0M375.8 159.2h0M382.7 174.8h0M377.4 161h0M363.9 149.9h0M374.1 152.9h0M388.7 177.6h0M372.5 150.1h0M360.2 157.6h0M357.8 159.2h0M411.6 197.8h0M385.9 179.6h0M388.3 183.2h0M370.1 152h0M392.7 187.5h0M362.7 152.5h0M391.3 185.5h0M395.8 189.9h0M390.9 185.6h0M395.7 183.8h0M393.8 185.2h0M395.2 184.1h0M402.2 195.1h0M391.7 182h0M369.3 152.5h0M395.5 188.8h0M375.9 154.3h0M374.1 159.3h0M382.5 174.1h0M366.9 142.3h0M395.9 190.3h0M389.3 179.6h0M375.6 162.3h0M381.6 174.7h0M366.2 138.3h0M366.9 149.1h0M391.4 178.6h0M368 148.2h0M376.4 158.2h0M352.7 176.2h0M365.6 136h0M371.6 142.5h0M372.9 152.1h0M355.6 169.9h0M367.7 148.2h0M363.3 149.4h0M359.2 158.6h0M402.1 190.7h0M379.6 161.1h0M384.6 175.6h0M373.2 158.4h0M395 184h0M388.9 179.9h0M389.3 176.7h0M403.5 192.5h0M353.3 172.6h0M377.4 164.7h0M372.2 155.9h0M355.3 168.8h0M379.4 171.5h0M397.6 186.6h0M392.8 185.6h0M370.6 151.1h0M370.1 138.4h0M397.3 186.4h0M375.5 159.4h0M382.6 176.3h0M363.7 139.1h0M366.8 148.1h0M374.4 160.5h0M375.6 162.5h0M390.4 185.4h0M388.7 183.1h0M387.9 177.3h0M401.1 194.6h0M405.8 197.3h0M369.5 153.2h0M374.5 160.6h0M376.9 155.7h0M387.5 178.9h0M359.3 152.3h0M369.9 138.2h0M362.1 153.2h0M400.2 190.4h0M363.8 148h0M376.4 163.9h0M365.1 148.3h0M375.1 159.6h0M369.4 149.2h0M369.3 150.5h0"/>
<path fill="none" stroke="#e0899a" stroke-width="2" stroke-linecap="round" d="M397 203.4h0M358.2 204.2h0M369.5 203.8h0M402.6 204.4h0M400.1 204.4h0M366.1 203.7h0M359.1 204h0M367.8 203.5h0M372 204.5h0M382.6 204.4h0M383.3 204.2h0M391.6 204h0M406.4 203.8h0M381.9 203.5h0M358.4 204.2h0M376.3 203.3h0M408 203h0M378.3 203.5h0M376.4 204.3h0M408.7 203.5h0M394 204.4h0M369.5 203.7h0M377.8 204.3h0M370.3 204.4h0M363.4 204.3h0M389.3 203.2h0M371.7 204.3h0M376 203.2h0M380 203.9h0M379.9 203.7h0M407.2 203.9h0M378.5 203.8h0M397.4 203.5h0M380.7 204.2h0M357.9 203.8h0M355.6 205.1h0M399.1 204.1h0M388.7 203.2h0M373.8 203.8h0M372.2 203.5h0M374.2 203.5h0M356.7 204.7h0M354.1 205.2h0M376 204.3h0M393.7 203.8h0M353 206.1h0M394.7 204h0M410.2 203.6h0M375.7 203.9h0M358.7 204.5h0M360.3 204.4h0M388.2 204.1h0M363.4 204.3h0M407.4 204.4h0M397.1 203.4h0M397.6 203.4h0M409.6 203h0M353.6 205.4h0M357.2 205.2h0M406.7 203.4h0"/>
<path fill="none" stroke="#e0899a" stroke-width="2.2" stroke-linecap="round" d="M413.4 198.2h0M415.1 199.6h0M416.1 197.8h0M418.3 201.5h0M414 195.9h0M367.2 131.6h0M380.1 130.7h0"/>
<path d="M357.56 173.3 C357.99 172.73 359.25 170.45 360.16 169.88 C361.08 169.32 362.31 169.51 363.05 169.9 C363.79 170.29 363.96 171.2 364.6 172.23 C365.25 173.26 365.95 174.93 366.92 176.06 C367.88 177.19 369.2 177.96 370.37 179.01 C371.53 180.06 373.58 181.06 373.9 182.38 C374.22 183.7 373.19 186.02 372.3 186.93 C371.41 187.85 369.63 187.42 368.56 187.88 C367.49 188.35 366.86 189.67 365.89 189.73 C364.92 189.78 363.85 188.47 362.75 188.2 C361.66 187.92 360.11 188.9 359.34 188.06 C358.56 187.23 358.51 184.78 358.1 183.21 C357.68 181.64 356.93 180.3 356.84 178.65 C356.75 177 357.44 174.19 357.56 173.3Z" fill="#5786a8" stroke="none" stroke-width="1"/>
<path d="M371.94 184.07 C372.7 184.33 374.99 184.59 376.52 185.66 C378.05 186.73 379.59 189.09 381.14 190.47 C382.7 191.84 384 192.86 385.85 193.91 C387.69 194.97 390.33 196.1 392.21 196.79 C394.1 197.47 396.57 197.35 397.18 198.05 C397.8 198.76 396.85 200.33 395.89 201.02 C394.93 201.7 393.36 202.14 391.39 202.17 C389.42 202.19 386.27 201.39 384.06 201.16 C381.86 200.93 379.95 201.45 378.16 200.81 C376.37 200.18 374.49 198.7 373.32 197.36 C372.16 196.01 371.4 194.95 371.17 192.74 C370.94 190.52 371.81 185.51 371.94 184.07Z" fill="#5786a8" stroke="none" stroke-width="1"/>
<path fill="none" stroke="#5786a8" stroke-width="2" stroke-linecap="round" d="M392.1 196.2h0M358 181.3h0M384.3 199.8h0M390.1 199.1h0M371.6 180.6h0M359.9 173.1h0M362.3 188h0M358.5 185.8h0M377 189.4h0M384.6 189.9h0M392.7 199.1h0M374.8 191.4h0M386.6 197.7h0M372.5 197.8h0M385.9 200h0M357.2 180h0M371.6 184.2h0M372.7 195.9h0M383.4 194.8h0M380.2 199.5h0M362.4 181.4h0M388.3 194h0M372.9 183.1h0M389.5 196.1h0M379.5 194.6h0M389.3 193.2h0M365.3 172h0M361.9 181.6h0M370.7 179.5h0M383.3 200h0M360.8 177.2h0M380.3 200.7h0M395.3 196.3h0M366.5 179.7h0M386.1 191h0M385 191.6h0M388.9 192.9h0M363 186h0M381.4 199.1h0M358.3 177.1h0M366.4 175.2h0M377.5 195.2h0M372.5 197.8h0M371.3 182.7h0M369.4 177.8h0M368.4 188.1h0M364 188.3h0M365.5 189.6h0M359.6 181.7h0M368.7 176.8h0M385.2 194.3h0M382.7 188.9h0M369.8 179.8h0M360 178.1h0M366 180.8h0M366.7 184.3h0M359.7 175.8h0M385.2 197.7h0M389.3 193.2h0M390.1 193.5h0M357.6 178.5h0M384 196.1h0M371.6 184.3h0M386.3 192.7h0M362.7 182.6h0M372.2 197.8h0M378.2 193h0M373.4 194.9h0M393.4 195.6h0M366.5 182.6h0M366.3 173.5h0M378.4 193.7h0M370.4 184.7h0M383 191.5h0M360.8 185.9h0M377.3 197h0M366.9 189.4h0M362.7 174.3h0M364.8 187h0M361.9 177.3h0M389.6 196h0M364 186h0M360.9 182.4h0M363.4 189.4h0M366.8 182.5h0M393.3 195.2h0M365.5 181.8h0M393.4 196.1h0M360.5 187.2h0M378.6 193.5h0M370.7 195.1h0M363 174.6h0M385.2 198.5h0M385.3 196.4h0M371.4 194h0M381.3 193.6h0M362.2 177.7h0M389.7 198.3h0M360.4 182.5h0M369.4 177.8h0M370.7 179.5h0M385 193.8h0M361.3 172.4h0M370.4 183.7h0M371.6 197.3h0M378.2 197.6h0M367.2 176.7h0M375.3 192.6h0M382.3 201.2h0M383.9 193.6h0M390.4 193.7h0M359.5 183.8h0M367.6 187.8h0M359.5 180.3h0M365.6 176.2h0M392 194.6h0M358.1 178.7h0M378.6 195.6h0M370.4 183.1h0M366.3 173.5h0M359.2 183.4h0M386 201.1h0M392.7 194.9h0M361.7 174.9h0M376.1 197.1h0M366.7 180.7h0M394.8 196h0M363.5 185.7h0M369.3 187h0M370.1 182.6h0M362.1 177.8h0M369.6 188.3h0M378.4 198.3h0M367.6 176.8h0M365.5 183.5h0M358.1 176.8h0M365.1 185.6h0M356.9 177.7h0M382.9 190h0M361.4 173.1h0M376.6 195.7h0M357.4 178.9h0M358.1 184h0M366.1 173.2h0M370.4 182.6h0M390.8 193.9h0M366.2 187.6h0M368.9 178.3h0M387.8 193.3h0M365.6 173.3h0M367.1 174.6h0M383.5 197.5h0M377.2 191.9h0M368.2 188.2h0M362.3 177h0M381 190.9h0M391.2 199.8h0M366 186.2h0M357.3 178.2h0M362.9 174.1h0M395 198h0M394.3 195.7h0M358.3 185h0M369.4 180.4h0M392.1 196.9h0M364.8 185.7h0M376.5 195.1h0M364.5 175.2h0M365 189.1h0M373.4 193.3h0M358.7 180.9h0M382.5 188.9h0M362.2 179.6h0M393.7 195.4h0M370.5 182.4h0M363.4 183.5h0M371.4 193h0M392.3 200h0M378.4 199.7h0M392.4 199.5h0M389 196h0M381 201h0M365.1 181.2h0M365.6 176h0M361.8 180.8h0M359.3 186h0M372.8 182h0M358.8 174.8h0M362.1 185.2h0M378.1 194.1h0M378.2 195.4h0M358.4 185.8h0M369.6 178h0M396.5 196.5h0M358.3 179.3h0M376.5 200.2h0M380.5 191.2h0M366 175.5h0M372.7 183.5h0M382.2 198.2h0"/>
<path fill="none" stroke="#5786a8" stroke-width="2.1" stroke-linecap="round" d="M412.9 192.7h0M415.6 197.3h0M406.5 196.4h0M400 194.5h0M397.3 187.1h0M375.8 169.4h0M369.3 152.6h0M374.2 164.2h0M377.9 166.1h0M384.9 186.6h0"/>
<path d="M346.2 209.9 C346.65 208.11 347.99 202.75 348.89 199.18 C349.79 195.61 350.68 191.88 351.58 188.46 C352.48 185.05 353.37 181.55 354.27 178.68 C355.17 175.8 356.06 173.01 356.96 171.22 C357.86 169.44 358.75 168.43 359.65 167.96 C360.55 167.49 361.44 167.96 362.34 168.43 C363.24 168.89 364.13 169.75 365.03 170.76 C365.93 171.77 366.82 173.24 367.72 174.48 C368.62 175.73 369.51 177.05 370.41 178.21 C371.31 179.38 372.2 180.46 373.1 181.47 C374 182.48 374.89 183.34 375.79 184.27 C376.69 185.2 377.13 185.98 378.48 187.07 C379.83 188.15 382.07 189.55 383.86 190.79 C385.65 192.04 387.45 193.43 389.24 194.52 C391.03 195.61 392.83 196.58 394.62 197.32 C396.41 198.06 398.21 198.52 400 198.95 C401.79 199.38 403.59 199.65 405.38 199.88 C407.17 200.11 409.59 200.31 410.76 200.35 C411.93 200.39 412.11 200.15 412.37 200.11" fill="none" stroke="#000" stroke-width="1.75" stroke-dasharray="0.01 2.7" stroke-linecap="round"/>
<line x1="343.2" y1="132.7" x2="343.2" y2="213.3" stroke="#1e1e1e" stroke-width="1.35" stroke-linecap="square"/>
<line x1="343.2" y1="213" x2="425.2" y2="213" stroke="#1e1e1e" stroke-width="1.35" stroke-linecap="square"/>
<line x1="340.5" y1="140" x2="343.2" y2="140" stroke="#1e1e1e" stroke-width="0.9"/>
<line x1="340.5" y1="163.3" x2="343.2" y2="163.3" stroke="#1e1e1e" stroke-width="0.9"/>
<line x1="340.5" y1="186.6" x2="343.2" y2="186.6" stroke="#1e1e1e" stroke-width="0.9"/>
<line x1="340.5" y1="209.9" x2="343.2" y2="209.9" stroke="#1e1e1e" stroke-width="0.9"/>
<line x1="346.2" y1="213" x2="346.2" y2="215.5" stroke="#1e1e1e" stroke-width="0.9"/>
<line x1="356.98" y1="213" x2="356.98" y2="215.5" stroke="#1e1e1e" stroke-width="0.9"/>
<line x1="367.76" y1="213" x2="367.76" y2="215.5" stroke="#1e1e1e" stroke-width="0.9"/>
<line x1="378.54" y1="213" x2="378.54" y2="215.5" stroke="#1e1e1e" stroke-width="0.9"/>
<line x1="389.32" y1="213" x2="389.32" y2="215.5" stroke="#1e1e1e" stroke-width="0.9"/>
<line x1="400.1" y1="213" x2="400.1" y2="215.5" stroke="#1e1e1e" stroke-width="0.9"/>
<line x1="410.88" y1="213" x2="410.88" y2="215.5" stroke="#1e1e1e" stroke-width="0.9"/>
<line x1="421.66" y1="213" x2="421.66" y2="215.5" stroke="#1e1e1e" stroke-width="0.9"/>
<path d="M435.4 208.5 L436.05 205.15 L436.69 201.79 L437.34 198.44 L437.98 196.28 L438.63 191.37 L439.27 189.18 L439.92 182.33 L440.56 182.35 L441.21 179.18 L441.86 175.76 L442.5 176.55 L443.15 172.21 L443.79 171.63 L444.44 170.81 L445.08 168.85 L445.73 167.48 L446.38 166.97 L447.02 162.44 L447.67 163.64 L448.31 159.37 L448.96 158.41 L449.6 160.69 L450.25 158 L450.89 155.3 L451.54 152.05 L452.19 153.43 L452.83 150.27 L453.48 150.31 L454.12 147.24 L454.77 146.63 L455.41 147.68 L456.06 150.61 L456.7 148.67 L457.35 151.29 L458 150.54 L458.64 153.33 L459.29 152.13 L459.93 152.6 L460.58 154.19 L461.22 155.19 L461.87 156.26 L462.52 158.36 L463.16 161.34 L463.81 158.6 L464.45 162.07 L465.1 165.74 L465.74 165.38 L466.39 167.05 L467.03 169.63 L467.68 167.68 L468.33 172.83 L468.97 170.34 L469.62 173.19 L470.26 176.11 L470.91 176.48 L471.55 177.17 L472.2 179.47 L472.84 177.2 L473.49 178.47 L474.14 177.67 L474.78 179.11 L475.43 179.95 L476.07 179.61 L476.72 180.55 L477.36 182.53 L478.01 183.66 L478.66 184.38 L479.3 183.68 L479.95 183.81 L480.59 184.9 L481.24 185.52 L481.88 189.94 L482.53 188.7 L483.17 190.86 L483.82 189.14 L484.47 189.77 L485.11 190.46 L485.76 189.6 L486.4 193.07 L487.05 191.23 L487.69 192.41 L488.34 194.67 L488.98 191.59 L489.63 196.37 L490.28 194.92 L490.92 195.06 L491.57 195.24 L492.21 193.83 L492.86 196.16 L493.5 194.92 L494.15 198 L494.8 197.44 L495.44 199.32 L496.09 197.32 L496.73 198.61 L497.38 197.2 L498.02 200.62 L498.67 199.26 L499.31 197.29 L499.96 199.8 L499.96 202.92 L498.35 203.11 L496.73 202.74 L495.12 203.44 L493.5 203.14 L491.89 203.35 L490.28 202.78 L488.66 203.49 L487.05 203.6 L485.43 203.04 L483.82 203.31 L482.21 202.92 L480.59 203.23 L478.98 203.09 L477.36 202.97 L475.75 203 L474.14 203.08 L472.52 203.31 L470.91 203.25 L469.29 202.81 L467.68 203.23 L466.07 202.89 L464.45 202.69 L462.84 202.88 L461.22 203.35 L459.61 202.89 L458 203.59 L456.38 203.19 L454.77 203.03 L453.15 203.17 L451.54 203.21 L449.93 203.68 L448.31 203.13 L446.7 203.74 L445.08 204.09 L443.47 204.33 L441.86 205.07 L440.24 205.79 L438.63 207.65 L437.01 208.5 L435.4 209.9Z" fill="#e0899a" stroke="none" stroke-width="1"/>
<path fill="none" stroke="#e0899a" stroke-width="2.1" stroke-linecap="round" d="M445.7 167.4h0M487.5 188.9h0M440 182.5h0M447.4 161.9h0M465.2 156.7h0M451.1 147.2h0M456.2 141.3h0M487.2 190.1h0M439.6 185.4h0M461.6 149.5h0M476.9 182.6h0M466.6 162.2h0M487.1 189.9h0M468.5 164.6h0M451.9 144.3h0M467.1 163.7h0M451.7 150.1h0M460.7 155.2h0M488.7 188.8h0M462.4 158.5h0M494.8 197.3h0M464.2 157.7h0M481.3 183.8h0M468.1 167.4h0M493.7 192.7h0M458.9 142.5h0M489.4 192.5h0M448.2 162h0M492 195.7h0M478 183.5h0M454.5 148.1h0M478.7 184.5h0M462.9 150.7h0M465 163.1h0M442.5 173.3h0M457 150.3h0M464.9 155.9h0M457.1 150.3h0M453 147.9h0M476.6 182.4h0M475.5 177.2h0M466.2 164.4h0M444.3 170.1h0M460.7 148.8h0M446.7 165.3h0M442.8 174.3h0M446.5 163.8h0M461.6 155.8h0M453.2 140h0M463.2 159.8h0M467 161.2h0M463.5 150.3h0M480.2 182.3h0M443.7 172.2h0M464.3 161.4h0M463.9 155.6h0M475.1 175.5h0M474.8 179.8h0M468.4 168.3h0M475.4 181.1h0M452.6 145.2h0M473.6 178.8h0M475.9 176.4h0M469.9 171.7h0M446.4 166h0M475.8 173.9h0M452.1 152h0M458.6 138h0M454.2 137.2h0M476.8 176.5h0M496.5 195.6h0M453.5 147.4h0M460.2 148.2h0M458.8 144.1h0M444.1 171.7h0M454.4 148.1h0M474.9 173.5h0M448.7 158.5h0M441.2 179.2h0M451.2 149h0M480 180.1h0M456.2 146.8h0M454.7 142.2h0M454.6 140.2h0M462.8 155.3h0M482.5 181.8h0M456 141.5h0M456.2 149.2h0M481 186.6h0M456.4 141.9h0M481 185.6h0M473.2 177.2h0M442.7 174.3h0M452.5 151h0M460.6 149.3h0M454.3 147.8h0M466.7 166.5h0M466.3 161.1h0M457.2 138.3h0M491.9 195.9h0M446.9 164.9h0M463.6 159.4h0M474 170.2h0M462.2 157.3h0M454.3 137.3h0M478.7 178.1h0M500.6 199h0M474.8 179.6h0M451.1 149.5h0M459.3 149.1h0"/>
<path fill="none" stroke="#e0899a" stroke-width="2" stroke-linecap="round" d="M474.8 203.5h0M443.1 205.7h0M486.1 204.2h0M460.9 203.6h0M478.3 203.7h0M485.2 203.9h0M472.6 204.3h0M448.7 203.8h0M472.3 204.3h0M495.2 204.2h0M453.3 203.8h0M456.2 203.5h0M452.2 203.6h0M489.3 203.9h0M498.3 203.8h0M485.9 204.4h0M473.7 203.5h0M465.5 203.8h0M451.2 204.2h0M486.8 203.6h0M443.3 204.8h0M463.1 203.4h0M469 204.5h0M455.4 203.7h0M476.8 203.4h0M492.4 204.4h0M442.6 205.5h0M488.8 203.2h0M474.2 204.3h0M497.2 203.2h0M495.7 203.8h0M484.7 203.5h0M444.7 204.9h0M498.9 203.3h0M498.9 204.3h0M469.2 203.8h0M496.7 203h0M475.5 203.4h0M485.1 203.8h0M477.6 203.7h0M492.6 204.2h0M443.3 205.4h0M454.4 204.6h0M494.9 204.1h0M480.8 204.4h0M456.3 203.6h0M494.8 203.9h0M458.8 204.3h0M480.4 203.2h0M496.3 204h0M484.4 203.3h0M442.8 205h0M486 203.2h0M458.6 203.6h0M465.7 203.5h0M447.5 204.3h0M445.7 204.5h0M458.4 203.3h0M447.2 204.6h0M446.2 204.6h0"/>
<path fill="none" stroke="#e0899a" stroke-width="2.2" stroke-linecap="round" d="M502.6 198.2h0M504.3 199.6h0M505.3 197.8h0M507.5 201.5h0M503.2 195.9h0M456.4 131.6h0M469.3 130.7h0"/>
<path fill="none" stroke="#5786a8" stroke-width="2" stroke-linecap="round" d="M456.8 161.1h0M461.6 181.6h0M462.6 183h0M453.4 174.9h0M453.3 178.8h0M448.4 189.7h0M452.2 183.6h0M465.3 189.2h0M456.1 171.4h0M453.7 184.7h0M465.7 194.5h0M449.9 169.2h0M456.3 176.4h0M466 193h0M443.7 188.3h0M471.2 200.2h0M445 197h0M459.9 175.4h0M452.9 175.4h0M446.5 173.1h0M459 190.6h0M463.3 192.6h0M448 172.1h0M472.8 192.9h0M458 173.4h0M449.7 170.1h0M443.9 181.9h0M456.3 173.4h0M459.2 182h0M452.5 195.1h0M461.4 172.2h0M447.9 177.8h0M445.3 185.1h0M443.5 182.8h0M466.7 192.2h0M460.6 179.3h0M455.5 184.5h0M439.8 196.9h0M454.2 165h0M452 173.2h0M449 170.4h0M460.1 195.4h0M441.4 196.4h0M443.6 188.3h0M455.3 185.4h0M455.7 171.9h0M447.3 186h0M448.2 172.9h0M466.3 188h0M460.6 193.1h0M454.9 179.7h0M449.8 185.7h0M455.5 166.5h0M449.4 167.9h0M448.7 191.7h0M447.5 173.6h0M449.7 177.3h0M451.4 170.7h0M463.6 184.1h0M450.7 168.1h0M461.1 192.7h0M456 176.9h0M449.8 196.6h0M443.6 183.8h0M469.5 192.7h0M452.8 174.7h0M440.8 193.2h0M456.4 174.2h0M453.7 183h0M449.5 170.9h0M468.3 196h0M454.8 174.3h0M452.5 182.8h0M457.9 173.6h0M445.1 182.1h0M452.7 172h0M455.2 173.4h0M470.4 199.9h0M454.6 176.7h0M441.7 186.9h0M453.3 172.5h0M450.4 175.8h0M450.6 171h0M447.6 184.2h0M462.5 187.2h0M465.3 196h0M466.3 178.9h0M470.1 182.5h0M457.9 176.3h0M462.6 182.4h0M443.2 182.2h0M446.1 178.7h0M462.6 181.4h0M452.5 171.9h0M468.1 175.7h0M452.6 172.8h0M443.1 188.3h0M464.1 193.2h0M469.2 197.3h0M441.6 187.4h0M449.3 185.7h0M445.2 186.8h0M469.1 197.7h0M452.2 177.1h0M459.1 164.1h0M445.8 178.6h0M446.6 173.1h0M462 189.1h0M452.6 174.2h0M451.8 179.5h0M455.5 171.2h0M448.5 189.9h0M444.7 183h0M453.1 175.1h0M458.8 178.7h0M467.5 197.5h0M455.5 178.4h0M455.3 179.1h0M463.9 191.6h0M447 179.9h0M453.3 168.4h0M464 190.5h0M452.7 161.2h0M449 190.9h0M451 177.4h0M454.1 162.7h0M449.4 154.1h0M453.2 182.3h0M454.5 178.6h0M448.7 182.4h0M450.7 176.2h0M462.9 182.6h0M463.1 189.3h0M469.2 192.3h0M453.3 181.2h0M446.8 181.2h0M464.9 185.1h0M462.2 187.7h0M451.4 185.5h0M446.4 188.7h0M449.3 190.2h0M444.5 184.1h0M454.7 180h0M460.8 188.1h0M452.1 169h0M461.7 192.4h0M470.6 199.7h0M442.9 186.5h0M461.6 189.2h0M464.6 188.8h0M456.4 175.4h0M472.2 192.3h0M447.8 170.9h0M456.2 182.9h0M454.8 174.2h0M450.7 187.4h0M450.4 175.8h0M453.4 173.2h0M457.3 173.4h0M451.9 170.8h0M444.8 187.4h0M469.5 199.6h0M454.2 175.3h0M473.2 195.1h0M459.2 185.6h0M449.1 170.3h0M448 173.9h0M465.2 185.8h0M452.5 178.1h0M449.5 170.7h0M440.5 196h0M444.3 187.2h0M465.3 198.5h0M453.5 171.5h0M452.1 188.5h0M457.2 193.5h0M446.1 180.3h0M441.5 192.8h0M458.4 187.1h0M447.7 185.6h0M450.3 186.3h0M446.1 179.1h0M449.7 170.6h0M445.8 178.7h0M454.9 172.4h0M457.8 176.9h0M446.3 181h0M446.6 175.7h0M448.7 189.1h0M464.9 189.9h0M466.2 192.2h0M462.9 182.2h0M457.5 173h0M448.5 181.5h0M453.8 184.8h0M446.1 185.2h0M447.2 164.1h0M460.7 185.2h0M448 178.5h0M475.8 195.3h0M460.8 192.1h0M450.6 176.2h0M451.4 182.6h0M447.3 188.8h0M452 175.5h0M459.5 194.9h0M458.7 187.2h0M457.2 172.1h0M450 175.7h0M447.3 158.9h0M456.2 177.2h0M456.1 177.1h0M442.3 189.6h0M448 170.7h0M463.9 185.9h0M455.1 184.6h0M440.4 192.2h0M449.1 174.4h0M450.5 185h0M449.9 168.9h0M448.9 173.1h0M456.9 178.9h0M452.2 182.6h0M466.6 197.5h0M456.8 177h0M467.5 193.5h0M459 186.9h0M463.9 196.6h0M456.4 188.9h0M465.3 187.4h0M450.5 170.1h0M448.7 171.8h0M448.6 194.9h0M452.2 191.6h0M450.1 180.5h0M456.2 182.9h0M447.2 175.7h0M449.5 173.5h0M457.7 184.7h0M444.3 190.8h0M464.6 195.4h0M460.2 195.2h0M456.8 193.3h0M462.4 172.5h0M446.9 172.8h0M449.7 172.9h0M459.7 193.6h0M447.3 170.3h0M442.9 183.3h0M466 188.7h0M464.1 185h0M471.2 178.6h0M452.4 157.3h0M465.2 185.5h0M451.9 166.9h0M443.2 185h0M444.9 189.1h0M449.1 179.5h0M441.4 192.1h0M463.9 195.3h0M470.6 191.7h0M453.4 169.9h0M448.1 193.4h0M449 173.7h0M472.7 193.3h0M460.3 182.7h0M456.1 176.1h0M461.8 174.4h0M446.9 155.7h0M470.4 195.4h0M449.9 181.9h0M445.5 190h0M458.6 190.8h0M458.5 159.4h0M455.8 177.5h0M447.8 171.7h0M465.8 191.2h0M457.6 172.9h0M464.7 186.4h0M471 199.7h0M464 185.8h0M448.8 185.8h0M471.2 187.5h0M456.8 195.1h0M459.5 173.8h0M460.7 185.5h0M469.3 198.2h0M464.2 188.2h0M445.6 184.9h0M455.6 180.8h0M456.2 183.3h0M460.1 178.2h0M454.4 172.6h0M451.4 174.6h0M443.4 186.2h0M460.5 192.4h0M450.4 191.6h0M456.9 173h0M450 186.4h0M458.4 176.4h0M451.4 188.8h0M462.5 185.4h0M461.7 182.9h0M452.7 169.3h0M446.7 174.8h0M470.6 192.2h0M466.9 193.8h0M455.3 163.1h0M464.2 185h0M460.5 184.8h0M457.9 183.2h0M452.4 189.3h0M459.5 178.2h0M450.5 186.8h0M443.2 182.2h0M459.1 162.5h0M457.6 176.9h0M459.4 178.3h0M448.1 178.2h0M453.3 183.4h0M461 168h0M449.4 175.3h0M451.5 167.5h0M442.6 186h0M445.4 178.8h0M451.6 169.1h0M459.3 184h0M453 177.3h0M443 184.2h0M447.4 156.5h0M474.2 195.3h0M454.2 189.4h0M454.1 169.4h0M456.7 180.7h0M455.1 179.7h0M456.8 175.3h0M454.1 175.4h0M452.5 180.7h0M451 156.4h0M450.1 188h0M446 175.4h0M449.9 157h0M442.3 188.3h0M449.6 192.3h0M464.4 193.5h0M448.8 169.7h0M467.6 190.4h0M465.7 191.4h0M453.2 169.1h0M448.8 156.6h0M464.2 188.6h0M461.8 186.8h0M460.6 180.2h0M471.4 195h0M451.2 169.9h0M458.6 175.7h0M450.2 177.3h0M460.3 180.6h0M461.3 167.3h0M444 188.5h0M456.4 178.2h0M458 187.4h0M453.7 165.6h0M455.9 174.8h0M444.3 179.1h0M463.4 187.9h0M445.6 193.9h0M471.4 192.6h0M463.3 194h0M461.3 185.5h0M450.4 195h0M443.9 193.4h0M445.8 182.7h0M455 169.9h0M453 169.4h0M465.7 191.5h0M461.1 192.9h0M466 192.4h0M449.2 176.8h0M447.1 179.7h0M454.6 182.9h0M445 178.8h0M465.3 195.2h0M443.4 188.2h0M451.3 154.6h0M457.3 180h0M450.4 175.3h0M468 193.8h0M446.6 184.5h0M446.5 175.6h0M473.4 193h0M454 168h0M470.1 178h0M464.8 193.1h0M447.6 186h0M445 179.2h0M468 177.4h0M458.5 177.2h0M462.2 182.1h0M445.4 180.4h0M450.1 195.3h0M442.4 186.8h0M445.1 178.1h0M450.6 168.4h0M471.7 193.2h0M440.7 191.6h0M443.5 183.1h0M446.7 200.7h0M445.1 187.4h0M458.8 177.4h0M445.5 186.3h0M469.9 192.9h0M455.8 190.3h0M450.2 177.2h0M464.2 193.4h0M460.6 177.8h0M450.5 168.2h0M466.1 197.3h0M464.1 184.7h0M443.5 184.6h0M457 184.3h0M472.5 174.2h0M443.4 182.5h0M468.8 192.6h0M447.5 171.1h0M451.5 167.5h0M454.9 183.4h0M464.7 186.4h0M454.1 151.2h0M455.5 173.7h0M459.8 196h0M452.7 172.7h0M451.8 179.2h0M456 170.8h0M443.3 182h0M455.3 178.5h0M453.6 186.9h0M447.1 172.6h0M457 188.7h0M447.9 174.6h0M465.7 188.5h0M460.9 201h0M451.9 159.9h0M449.1 183h0M462 187.9h0M456.1 187.3h0M464.8 194.6h0M455.8 171h0M456.2 171.4h0M468.4 191.4h0M464.5 188.5h0M454.3 168.2h0M456.3 154.3h0M451.9 169.6h0M455.6 155.3h0M450.6 197.4h0M469.5 190.1h0M460.9 192.9h0M454.4 191.4h0M447.1 181.7h0M460.6 193h0M451.1 180.7h0M449.8 171.5h0M461.1 186.3h0M458.9 180.8h0M450.5 176.1h0M452.9 183.5h0M458.9 175.9h0M454 178.7h0M451.3 165h0M438.4 199.3h0M438.8 202.4h0M437.1 205.8h0M437.3 203.8h0M439.4 207.4h0M436.9 208.9h0M440.7 207.3h0M439 204h0M436.9 208h0M440 193.3h0M440.1 199.2h0M440.5 205.5h0M437.2 206.1h0M439.8 195.4h0M438.1 202h0M438.6 202h0M437.6 205h0M439.2 196.8h0M437.8 208.4h0M440.4 198.2h0M439.2 201.5h0M436.1 207.7h0M440.5 199.5h0M437.2 204.3h0M439.7 193.8h0M440.6 207h0M438.3 207.1h0M440.9 200.6h0M437.3 203.1h0M437.5 202.3h0M440.6 193.9h0M437.4 206.4h0M436.6 208.2h0M441.3 199.2h0M438.1 203.7h0M440.8 204.2h0M440.3 198.5h0M437.6 207.5h0M440.3 193.2h0M438.2 203.5h0"/>
<path fill="none" stroke="#5786a8" stroke-width="2.1" stroke-linecap="round" d="M459.1 150.3h0M456.9 157.2h0M463.4 160h0M467.7 165.6h0M475.2 177.3h0M454.8 161h0"/>
<path d="M435.4 209.9 C435.85 208.19 437.19 202.99 438.09 199.65 C438.99 196.31 439.88 192.89 440.78 189.86 C441.68 186.83 442.57 184.04 443.47 181.47 C444.37 178.91 445.26 176.43 446.16 174.48 C447.06 172.54 447.95 170.91 448.85 169.82 C449.75 168.74 450.64 168.04 451.54 167.96 C452.44 167.88 453.33 168.58 454.23 169.36 C455.13 170.13 456.02 171.3 456.92 172.62 C457.82 173.94 458.71 175.73 459.61 177.28 C460.51 178.83 461.4 180.39 462.3 181.94 C463.2 183.49 464.09 185.28 464.99 186.6 C465.89 187.92 466.33 188.77 467.68 189.86 C469.02 190.95 471.27 192.19 473.06 193.12 C474.85 194.06 476.65 194.75 478.44 195.45 C480.23 196.15 482.03 196.7 483.82 197.32 C485.61 197.94 487.41 198.72 489.2 199.18 C490.99 199.65 492.79 199.88 494.58 200.11 C496.37 200.35 498.79 200.58 499.96 200.58 C501.13 200.58 501.3 200.19 501.57 200.11" fill="none" stroke="#000" stroke-width="1.75" stroke-dasharray="0.01 2.7" stroke-linecap="round"/>
<line x1="432.4" y1="132.7" x2="432.4" y2="213.3" stroke="#1e1e1e" stroke-width="1.35" stroke-linecap="square"/>
<line x1="432.4" y1="213" x2="514.4" y2="213" stroke="#1e1e1e" stroke-width="1.35" stroke-linecap="square"/>
<line x1="429.7" y1="140" x2="432.4" y2="140" stroke="#1e1e1e" stroke-width="0.9"/>
<line x1="429.7" y1="163.3" x2="432.4" y2="163.3" stroke="#1e1e1e" stroke-width="0.9"/>
<line x1="429.7" y1="186.6" x2="432.4" y2="186.6" stroke="#1e1e1e" stroke-width="0.9"/>
<line x1="429.7" y1="209.9" x2="432.4" y2="209.9" stroke="#1e1e1e" stroke-width="0.9"/>
<line x1="435.4" y1="213" x2="435.4" y2="215.5" stroke="#1e1e1e" stroke-width="0.9"/>
<line x1="446.18" y1="213" x2="446.18" y2="215.5" stroke="#1e1e1e" stroke-width="0.9"/>
<line x1="456.96" y1="213" x2="456.96" y2="215.5" stroke="#1e1e1e" stroke-width="0.9"/>
<line x1="467.74" y1="213" x2="467.74" y2="215.5" stroke="#1e1e1e" stroke-width="0.9"/>
<line x1="478.52" y1="213" x2="478.52" y2="215.5" stroke="#1e1e1e" stroke-width="0.9"/>
<line x1="489.3" y1="213" x2="489.3" y2="215.5" stroke="#1e1e1e" stroke-width="0.9"/>
<line x1="500.08" y1="213" x2="500.08" y2="215.5" stroke="#1e1e1e" stroke-width="0.9"/>
<line x1="510.86" y1="213" x2="510.86" y2="215.5" stroke="#1e1e1e" stroke-width="0.9"/>
<path d="M284.4 229.6 L324.8 221.4 L324.8 229.6Z" fill="#000" stroke="none" stroke-width="1"/>
<text x="328.6" y="227.4" font-size="8.2" textLength="64" lengthAdjust="spacingAndGlyphs">Candidate rankings</text>
<text x="6.8" y="148.2" font-size="11.5" font-weight="bold" fill="#000">C</text>
<text x="75" y="150.8" font-size="10.18" text-anchor="middle" textLength="34" lengthAdjust="spacingAndGlyphs">NOstrat</text>
<circle cx="76.25" cy="180.7" r="27" fill="#eec4ca" stroke="none" stroke-width="1" style="mix-blend-mode:multiply"/>
<circle cx="76.2" cy="207.7" r="27.6" fill="#d6c9db" stroke="none" stroke-width="1" style="mix-blend-mode:multiply"/>
<text x="76" y="171.8" font-size="8.4" text-anchor="middle">305</text>
<text x="76" y="197.8" font-size="8.4" text-anchor="middle">195</text>
<text x="76" y="226" font-size="8.4" text-anchor="middle">305</text>
<text x="75" y="245.4" font-size="10.18" text-anchor="middle" textLength="35.3" lengthAdjust="spacingAndGlyphs">TSDstrat</text>
<text x="6.8" y="266.3" font-size="11.5" font-weight="bold" fill="#000">D</text>
<text x="45.5" y="265.5" font-size="10.07" text-anchor="middle" textLength="22.7" lengthAdjust="spacingAndGlyphs">Procr</text>
<text x="45.5" y="276.3" font-size="9.5" text-anchor="middle" textLength="53.5" lengthAdjust="spacingAndGlyphs">P = 1.5×10<tspan font-size="6.5" dy="-3.5">−8</tspan></text>
<text x="100" y="265.5" font-size="10.07" text-anchor="middle" textLength="22.18" lengthAdjust="spacingAndGlyphs">Cdk6</text>
<text x="98.6" y="276.3" font-size="10" text-anchor="middle" textLength="34.3" lengthAdjust="spacingAndGlyphs">2.3×10<tspan font-size="6.5" dy="-3.5">−4</tspan></text>
<line x1="30" y1="282.5" x2="30" y2="374" stroke="#1e1e1e" stroke-width="1.35" stroke-linecap="square"/>
<line x1="29.5" y1="373.75" x2="63" y2="373.75" stroke="#1e1e1e" stroke-width="1.35" stroke-linecap="square"/>
<line x1="27.3" y1="371.25" x2="30" y2="371.25" stroke="#1e1e1e" stroke-width="0.9"/>
<text x="24.3" y="374.25" font-size="8.7" text-anchor="end" textLength="4.15" lengthAdjust="spacingAndGlyphs">0</text>
<line x1="27.3" y1="352.81" x2="30" y2="352.81" stroke="#1e1e1e" stroke-width="0.9"/>
<text x="24.3" y="355.81" font-size="8.7" text-anchor="end" textLength="4.15" lengthAdjust="spacingAndGlyphs">2</text>
<line x1="27.3" y1="334.37" x2="30" y2="334.37" stroke="#1e1e1e" stroke-width="0.9"/>
<text x="24.3" y="337.37" font-size="8.7" text-anchor="end" textLength="4.15" lengthAdjust="spacingAndGlyphs">4</text>
<line x1="27.3" y1="315.93" x2="30" y2="315.93" stroke="#1e1e1e" stroke-width="0.9"/>
<text x="24.3" y="318.93" font-size="8.7" text-anchor="end" textLength="4.15" lengthAdjust="spacingAndGlyphs">6</text>
<line x1="27.3" y1="297.49" x2="30" y2="297.49" stroke="#1e1e1e" stroke-width="0.9"/>
<text x="24.3" y="300.49" font-size="8.7" text-anchor="end" textLength="4.15" lengthAdjust="spacingAndGlyphs">8</text>
<line x1="39.4" y1="284.58" x2="39.4" y2="324.23" stroke="#1e1e1e" stroke-width="0.9"/>
<line x1="39.4" y1="362.03" x2="39.4" y2="371.25" stroke="#1e1e1e" stroke-width="0.9"/>
<line x1="36.05" y1="284.58" x2="42.75" y2="284.58" stroke="#1e1e1e" stroke-width="0.9"/>
<line x1="36.05" y1="371.25" x2="42.75" y2="371.25" stroke="#1e1e1e" stroke-width="0.9"/>
<rect x="33.3" y="324.23" width="12.2" height="37.8" fill="#e08998" stroke="none" stroke-width="1"/>
<line x1="33.3" y1="353.27" x2="45.5" y2="353.27" stroke="#111" stroke-width="1.3"/>
<line x1="54.4" y1="322.38" x2="54.4" y2="350.04" stroke="#1e1e1e" stroke-width="0.9"/>
<line x1="54.4" y1="367.56" x2="54.4" y2="371.25" stroke="#1e1e1e" stroke-width="0.9"/>
<line x1="51.05" y1="322.38" x2="57.75" y2="322.38" stroke="#1e1e1e" stroke-width="0.9"/>
<line x1="51.05" y1="371.25" x2="57.75" y2="371.25" stroke="#1e1e1e" stroke-width="0.9"/>
<rect x="48.3" y="350.04" width="12.2" height="17.52" fill="#8fb1d0" stroke="none" stroke-width="1"/>
<line x1="48.3" y1="361.57" x2="60.5" y2="361.57" stroke="#111" stroke-width="1.3"/>
<circle cx="54.4" cy="321.46" r="1.35" fill="#1f5a96" stroke="none" stroke-width="1"/>
<circle cx="54.4" cy="318.7" r="1.35" fill="#1f5a96" stroke="none" stroke-width="1"/>
<circle cx="54.4" cy="316.39" r="1.35" fill="#1f5a96" stroke="none" stroke-width="1"/>
<circle cx="54.4" cy="314.09" r="1.35" fill="#1f5a96" stroke="none" stroke-width="1"/>
<circle cx="54.4" cy="311.32" r="1.35" fill="#1f5a96" stroke="none" stroke-width="1"/>
<circle cx="54.4" cy="308.55" r="1.35" fill="#1f5a96" stroke="none" stroke-width="1"/>
<circle cx="54.4" cy="306.25" r="1.35" fill="#1f5a96" stroke="none" stroke-width="1"/>
<circle cx="54.4" cy="303.94" r="1.35" fill="#1f5a96" stroke="none" stroke-width="1"/>
<circle cx="54.4" cy="300.26" r="1.35" fill="#1f5a96" stroke="none" stroke-width="1"/>
<circle cx="54.4" cy="296.57" r="1.35" fill="#1f5a96" stroke="none" stroke-width="1"/>
<line x1="39.4" y1="373.75" x2="39.4" y2="376.3" stroke="#1e1e1e" stroke-width="0.9"/>
<line x1="54.4" y1="373.75" x2="54.4" y2="376.3" stroke="#1e1e1e" stroke-width="0.9"/>
<line x1="81.25" y1="282.5" x2="81.25" y2="374" stroke="#1e1e1e" stroke-width="1.35" stroke-linecap="square"/>
<line x1="80.75" y1="373.75" x2="113.75" y2="373.75" stroke="#1e1e1e" stroke-width="1.35" stroke-linecap="square"/>
<line x1="78.5" y1="371.25" x2="81.25" y2="371.25" stroke="#1e1e1e" stroke-width="0.9"/>
<text x="75.6" y="374.25" font-size="8.7" text-anchor="end" textLength="4.15" lengthAdjust="spacingAndGlyphs">0</text>
<line x1="78.5" y1="355.75" x2="81.25" y2="355.75" stroke="#1e1e1e" stroke-width="0.9"/>
<text x="75.6" y="358.75" font-size="8.7" text-anchor="end" textLength="4.15" lengthAdjust="spacingAndGlyphs">2</text>
<line x1="78.5" y1="340.25" x2="81.25" y2="340.25" stroke="#1e1e1e" stroke-width="0.9"/>
<text x="75.6" y="343.25" font-size="8.7" text-anchor="end" textLength="4.15" lengthAdjust="spacingAndGlyphs">4</text>
<line x1="78.5" y1="324.75" x2="81.25" y2="324.75" stroke="#1e1e1e" stroke-width="0.9"/>
<text x="75.6" y="327.75" font-size="8.7" text-anchor="end" textLength="4.15" lengthAdjust="spacingAndGlyphs">6</text>
<line x1="78.5" y1="309.25" x2="81.25" y2="309.25" stroke="#1e1e1e" stroke-width="0.9"/>
<text x="75.6" y="312.25" font-size="8.7" text-anchor="end" textLength="4.15" lengthAdjust="spacingAndGlyphs">8</text>
<line x1="78.5" y1="293.75" x2="81.25" y2="293.75" stroke="#1e1e1e" stroke-width="0.9"/>
<text x="75.6" y="296.75" font-size="8.7" text-anchor="end" textLength="8.3" lengthAdjust="spacingAndGlyphs">10</text>
<line x1="90.4" y1="326.3" x2="90.4" y2="350.32" stroke="#1e1e1e" stroke-width="0.9"/>
<line x1="90.4" y1="366.6" x2="90.4" y2="371.25" stroke="#1e1e1e" stroke-width="0.9"/>
<line x1="87.16" y1="326.3" x2="93.65" y2="326.3" stroke="#1e1e1e" stroke-width="0.9"/>
<line x1="87.16" y1="371.25" x2="93.65" y2="371.25" stroke="#1e1e1e" stroke-width="0.9"/>
<rect x="84.5" y="350.32" width="11.8" height="16.28" fill="#e08998" stroke="none" stroke-width="1"/>
<line x1="84.5" y1="361.18" x2="96.3" y2="361.18" stroke="#111" stroke-width="1.3"/>
<circle cx="90.4" cy="323.2" r="1.35" fill="#c8102e" stroke="none" stroke-width="1"/>
<circle cx="90.4" cy="320.88" r="1.35" fill="#c8102e" stroke="none" stroke-width="1"/>
<circle cx="90.4" cy="312.35" r="1.35" fill="#c8102e" stroke="none" stroke-width="1"/>
<circle cx="90.4" cy="310.02" r="1.35" fill="#c8102e" stroke="none" stroke-width="1"/>
<circle cx="90.4" cy="308.48" r="1.35" fill="#c8102e" stroke="none" stroke-width="1"/>
<circle cx="90.4" cy="306.93" r="1.35" fill="#c8102e" stroke="none" stroke-width="1"/>
<circle cx="90.4" cy="305.38" r="1.35" fill="#c8102e" stroke="none" stroke-width="1"/>
<circle cx="90.4" cy="300.73" r="1.35" fill="#c8102e" stroke="none" stroke-width="1"/>
<circle cx="90.4" cy="296.85" r="1.35" fill="#c8102e" stroke="none" stroke-width="1"/>
<circle cx="90.4" cy="285.23" r="1.35" fill="#c8102e" stroke="none" stroke-width="1"/>
<line x1="105.4" y1="348" x2="105.4" y2="360.01" stroke="#1e1e1e" stroke-width="0.9"/>
<line x1="105.4" y1="366.99" x2="105.4" y2="371.25" stroke="#1e1e1e" stroke-width="0.9"/>
<line x1="102.16" y1="348" x2="108.65" y2="348" stroke="#1e1e1e" stroke-width="0.9"/>
<line x1="102.16" y1="371.25" x2="108.65" y2="371.25" stroke="#1e1e1e" stroke-width="0.9"/>
<rect x="99.5" y="360.01" width="11.8" height="6.98" fill="#8fb1d0" stroke="none" stroke-width="1"/>
<line x1="99.5" y1="363.89" x2="111.3" y2="363.89" stroke="#111" stroke-width="1.3"/>
<circle cx="105.4" cy="347.23" r="1.35" fill="#1f5a96" stroke="none" stroke-width="1"/>
<circle cx="105.4" cy="345.68" r="1.35" fill="#1f5a96" stroke="none" stroke-width="1"/>
<circle cx="105.4" cy="344.12" r="1.35" fill="#1f5a96" stroke="none" stroke-width="1"/>
<circle cx="105.4" cy="338.7" r="1.35" fill="#1f5a96" stroke="none" stroke-width="1"/>
<circle cx="105.4" cy="337.15" r="1.35" fill="#1f5a96" stroke="none" stroke-width="1"/>
<circle cx="105.4" cy="334.82" r="1.35" fill="#1f5a96" stroke="none" stroke-width="1"/>
<circle cx="105.4" cy="333.27" r="1.35" fill="#1f5a96" stroke="none" stroke-width="1"/>
<circle cx="105.4" cy="330.95" r="1.35" fill="#1f5a96" stroke="none" stroke-width="1"/>
<circle cx="105.4" cy="323.2" r="1.35" fill="#1f5a96" stroke="none" stroke-width="1"/>
<circle cx="105.4" cy="320.1" r="1.35" fill="#1f5a96" stroke="none" stroke-width="1"/>
<circle cx="105.4" cy="317.77" r="1.35" fill="#1f5a96" stroke="none" stroke-width="1"/>
<circle cx="105.4" cy="315.45" r="1.35" fill="#1f5a96" stroke="none" stroke-width="1"/>
<circle cx="105.4" cy="313.9" r="1.35" fill="#1f5a96" stroke="none" stroke-width="1"/>
<line x1="90.4" y1="373.75" x2="90.4" y2="376.3" stroke="#1e1e1e" stroke-width="0.9"/>
<line x1="105.4" y1="373.75" x2="105.4" y2="376.3" stroke="#1e1e1e" stroke-width="0.9"/>
<text x="14.9" y="329.7" font-size="10.39" text-anchor="middle" textLength="72.5" lengthAdjust="spacingAndGlyphs" transform="rotate(-90 14.9 329.7)">Expression difference</text>
<text x="41.8" y="380.5" font-size="8.6" text-anchor="end" textLength="35" lengthAdjust="spacingAndGlyphs" transform="rotate(-90 41.8 380.5)">Unrelated</text>
<text x="56.8" y="380.5" font-size="8.6" text-anchor="end" textLength="23.5" lengthAdjust="spacingAndGlyphs" transform="rotate(-90 56.8 380.5)">Sisters</text>
<text x="93.3" y="380.5" font-size="8.6" text-anchor="end" textLength="35" lengthAdjust="spacingAndGlyphs" transform="rotate(-90 93.3 380.5)">Unrelated</text>
<text x="108.3" y="380.5" font-size="8.6" text-anchor="end" textLength="23.5" lengthAdjust="spacingAndGlyphs" transform="rotate(-90 108.3 380.5)">Sisters</text>
<text x="135.8" y="266.3" font-size="11.5" font-weight="bold" fill="#000">E</text>
<text x="202.5" y="285" font-size="10.07" text-anchor="middle" textLength="16.9" lengthAdjust="spacingAndGlyphs">Atf5</text>
<text x="291.7" y="284.5" font-size="10.07" text-anchor="middle" textLength="15.84" lengthAdjust="spacingAndGlyphs">Vwf</text>
<text x="380.8" y="284.5" font-size="10.07" text-anchor="middle" textLength="27.46" lengthAdjust="spacingAndGlyphs">Runx1</text>
<line x1="161.4" y1="288" x2="161.4" y2="374.2" stroke="#1e1e1e" stroke-width="1.35" stroke-linecap="square"/>
<line x1="160.9" y1="374" x2="241.5" y2="374" stroke="#1e1e1e" stroke-width="1.35" stroke-linecap="square"/>
<line x1="158.7" y1="371.25" x2="161.4" y2="371.25" stroke="#1e1e1e" stroke-width="0.9"/>
<line x1="158.7" y1="359.75" x2="161.4" y2="359.75" stroke="#1e1e1e" stroke-width="0.9"/>
<line x1="158.7" y1="348.25" x2="161.4" y2="348.25" stroke="#1e1e1e" stroke-width="0.9"/>
<line x1="158.7" y1="336.75" x2="161.4" y2="336.75" stroke="#1e1e1e" stroke-width="0.9"/>
<line x1="158.7" y1="325.25" x2="161.4" y2="325.25" stroke="#1e1e1e" stroke-width="0.9"/>
<line x1="158.7" y1="313.75" x2="161.4" y2="313.75" stroke="#1e1e1e" stroke-width="0.9"/>
<line x1="158.7" y1="302.25" x2="161.4" y2="302.25" stroke="#1e1e1e" stroke-width="0.9"/>
<line x1="158.7" y1="290.75" x2="161.4" y2="290.75" stroke="#1e1e1e" stroke-width="0.9"/>
<line x1="165" y1="374" x2="165" y2="376.5" stroke="#1e1e1e" stroke-width="0.9"/>
<line x1="177.16" y1="374" x2="177.16" y2="376.5" stroke="#1e1e1e" stroke-width="0.9"/>
<line x1="189.32" y1="374" x2="189.32" y2="376.5" stroke="#1e1e1e" stroke-width="0.9"/>
<line x1="201.48" y1="374" x2="201.48" y2="376.5" stroke="#1e1e1e" stroke-width="0.9"/>
<line x1="213.64" y1="374" x2="213.64" y2="376.5" stroke="#1e1e1e" stroke-width="0.9"/>
<line x1="225.8" y1="374" x2="225.8" y2="376.5" stroke="#1e1e1e" stroke-width="0.9"/>
<line x1="237.96" y1="374" x2="237.96" y2="376.5" stroke="#1e1e1e" stroke-width="0.9"/>
<path d="M164.6 317.2 C164.88 319.05 165.68 323.93 166.3 328.3 C166.92 332.67 167.62 339.03 168.3 343.4 C168.98 347.77 169.7 352.42 170.4 354.5 C171.1 356.58 171.7 355.78 172.5 355.9 C173.3 356.02 174.28 355.43 175.2 355.2 C176.12 354.97 177.18 354.38 178 354.5 C178.82 354.62 179.3 355.22 180.1 355.9 C180.9 356.58 181.88 357.8 182.8 358.6 C183.72 359.4 184.57 359.9 185.6 360.7 C186.63 361.5 187.97 362.48 189 363.4 C190.03 364.32 190.98 365.38 191.8 366.2 C192.62 367.02 192.87 367.72 193.9 368.3 C194.93 368.88 196.4 369.25 198 369.7 C199.6 370.15 201.88 370.73 203.5 371 C205.12 371.27 206.62 371.2 207.7 371.3 C208.78 371.4 209.62 371.55 210 371.6 L210 373.5 L164.6 373.5 Z" fill="#8aaac6" stroke="none" stroke-width="1"/>
<path d="M165 286.2 C165.15 286.2 165.68 282.63 165.9 286.2 C166.12 289.77 166.12 301.05 166.3 307.6 C166.48 314.15 166.67 319.98 167 325.5 C167.33 331.02 167.78 336.33 168.3 340.7 C168.82 345.07 169.57 348.02 170.1 351.7 C170.63 355.38 171.1 360.85 171.5 362.8 C171.9 364.75 172.18 363.75 172.5 363.4 C172.82 363.05 173.05 360.8 173.4 360.7 C173.75 360.6 174.18 361.65 174.6 362.8 C175.02 363.95 175.33 366.35 175.9 367.6 C176.47 368.85 177.18 369.77 178 370.3 C178.82 370.83 179.77 370.8 180.8 370.8 C181.83 370.8 183.28 370.72 184.2 370.3 C185.12 369.88 185.8 369.1 186.3 368.3 C186.8 367.5 186.82 365.73 187.2 365.5 C187.58 365.27 188.07 366.43 188.6 366.9 C189.13 367.37 189.75 368.18 190.4 368.3 C191.05 368.42 191.88 368.18 192.5 367.6 C193.12 367.02 193.42 365.03 194.1 364.8 C194.78 364.57 195.72 365.73 196.6 366.2 C197.48 366.67 198.48 367.25 199.4 367.6 C200.32 367.95 201.07 367.95 202.1 368.3 C203.13 368.65 204.45 369.37 205.6 369.7 C206.75 370.03 208.08 370.08 209 370.3 C209.92 370.52 210.63 370.83 211.1 371 C211.57 371.17 211.68 371.25 211.8 371.3 L211.8 373.5 L165 373.5 Z" fill="#e4899a" stroke="none" stroke-width="1" opacity="0.88"/>
<path d="M164.6 317.2 C164.88 319.05 165.68 323.93 166.3 328.3 C166.92 332.67 167.62 339.03 168.3 343.4 C168.98 347.77 169.7 352.42 170.4 354.5 C171.1 356.58 171.7 355.78 172.5 355.9 C173.3 356.02 174.28 355.43 175.2 355.2 C176.12 354.97 177.18 354.38 178 354.5 C178.82 354.62 179.3 355.22 180.1 355.9 C180.9 356.58 181.88 357.8 182.8 358.6 C183.72 359.4 184.57 359.9 185.6 360.7 C186.63 361.5 187.97 362.48 189 363.4 C190.03 364.32 190.98 365.38 191.8 366.2 C192.62 367.02 192.87 367.72 193.9 368.3 C194.93 368.88 196.4 369.25 198 369.7 C199.6 370.15 201.88 370.73 203.5 371 C205.12 371.27 206.62 371.2 207.7 371.3 C208.78 371.4 209.62 371.55 210 371.6" fill="none" stroke="#2b6399" stroke-width="1.15"/>
<path d="M165 286.2 C165.15 286.2 165.68 282.63 165.9 286.2 C166.12 289.77 166.12 301.05 166.3 307.6 C166.48 314.15 166.67 319.98 167 325.5 C167.33 331.02 167.78 336.33 168.3 340.7 C168.82 345.07 169.57 348.02 170.1 351.7 C170.63 355.38 171.1 360.85 171.5 362.8 C171.9 364.75 172.18 363.75 172.5 363.4 C172.82 363.05 173.05 360.8 173.4 360.7 C173.75 360.6 174.18 361.65 174.6 362.8 C175.02 363.95 175.33 366.35 175.9 367.6 C176.47 368.85 177.18 369.77 178 370.3 C178.82 370.83 179.77 370.8 180.8 370.8 C181.83 370.8 183.28 370.72 184.2 370.3 C185.12 369.88 185.8 369.1 186.3 368.3 C186.8 367.5 186.82 365.73 187.2 365.5 C187.58 365.27 188.07 366.43 188.6 366.9 C189.13 367.37 189.75 368.18 190.4 368.3 C191.05 368.42 191.88 368.18 192.5 367.6 C193.12 367.02 193.42 365.03 194.1 364.8 C194.78 364.57 195.72 365.73 196.6 366.2 C197.48 366.67 198.48 367.25 199.4 367.6 C200.32 367.95 201.07 367.95 202.1 368.3 C203.13 368.65 204.45 369.37 205.6 369.7 C206.75 370.03 208.08 370.08 209 370.3 C209.92 370.52 210.63 370.83 211.1 371 C211.57 371.17 211.68 371.25 211.8 371.3" fill="none" stroke="#c8102e" stroke-width="1.3"/>
<rect x="171.3" y="293.3" width="5" height="5" fill="#e4899a" stroke="none" stroke-width="1"/>
<text x="178.8" y="298.4" font-size="8.2" textLength="24" lengthAdjust="spacingAndGlyphs">Random</text>
<rect x="171.3" y="302.2" width="5" height="5" fill="#8aaac6" stroke="none" stroke-width="1"/>
<text x="178.8" y="307.3" font-size="8.2" textLength="53.5" lengthAdjust="spacingAndGlyphs">Real (biological)</text>
<text x="155" y="374.25" font-size="8.7" text-anchor="end" textLength="10.6" lengthAdjust="spacingAndGlyphs">0.0</text>
<text x="155" y="362.75" font-size="8.7" text-anchor="end" textLength="10.6" lengthAdjust="spacingAndGlyphs">0.1</text>
<text x="155" y="351.25" font-size="8.7" text-anchor="end" textLength="10.6" lengthAdjust="spacingAndGlyphs">0.2</text>
<text x="155" y="339.75" font-size="8.7" text-anchor="end" textLength="10.6" lengthAdjust="spacingAndGlyphs">0.3</text>
<text x="155" y="328.25" font-size="8.7" text-anchor="end" textLength="10.6" lengthAdjust="spacingAndGlyphs">0.4</text>
<text x="155" y="316.75" font-size="8.7" text-anchor="end" textLength="10.6" lengthAdjust="spacingAndGlyphs">0.5</text>
<text x="155" y="305.25" font-size="8.7" text-anchor="end" textLength="10.6" lengthAdjust="spacingAndGlyphs">0.6</text>
<text x="155" y="293.75" font-size="8.7" text-anchor="end" textLength="10.6" lengthAdjust="spacingAndGlyphs">0.7</text>
<text x="138.5" y="332.2" font-size="10" text-anchor="middle" textLength="24" lengthAdjust="spacingAndGlyphs" transform="rotate(-90 138.5 332.2)">Density</text>
<text x="165" y="385.5" font-size="8.7" text-anchor="middle" textLength="4.15" lengthAdjust="spacingAndGlyphs">0</text>
<text x="177.16" y="385.5" font-size="8.7" text-anchor="middle" textLength="4.15" lengthAdjust="spacingAndGlyphs">2</text>
<text x="189.32" y="385.5" font-size="8.7" text-anchor="middle" textLength="4.15" lengthAdjust="spacingAndGlyphs">4</text>
<text x="201.48" y="385.5" font-size="8.7" text-anchor="middle" textLength="4.15" lengthAdjust="spacingAndGlyphs">6</text>
<text x="213.64" y="385.5" font-size="8.7" text-anchor="middle" textLength="4.15" lengthAdjust="spacingAndGlyphs">8</text>
<text x="225.8" y="385.5" font-size="8.7" text-anchor="middle" textLength="8.3" lengthAdjust="spacingAndGlyphs">10</text>
<text x="237.96" y="385.5" font-size="8.7" text-anchor="middle" textLength="8.3" lengthAdjust="spacingAndGlyphs">12</text>
<text x="200.9" y="397.6" font-size="10.18" text-anchor="middle" textLength="93.2" lengthAdjust="spacingAndGlyphs">Sister expression differences</text>
<path d="M226.3 312 L233.8 312 L226.3 350Z" fill="#000" stroke="none" stroke-width="1"/>
<text x="218.2" y="339.5" font-size="8" text-anchor="end">10657</text>
<path d="M221 334.9 L225.2 336.9 L221 338.7Z" fill="#000" stroke="none" stroke-width="1"/>
<line x1="250.8" y1="288" x2="250.8" y2="374.2" stroke="#1e1e1e" stroke-width="1.35" stroke-linecap="square"/>
<line x1="250.3" y1="374" x2="331" y2="374" stroke="#1e1e1e" stroke-width="1.35" stroke-linecap="square"/>
<line x1="248.1" y1="371.25" x2="250.8" y2="371.25" stroke="#1e1e1e" stroke-width="0.9"/>
<line x1="248.1" y1="359.75" x2="250.8" y2="359.75" stroke="#1e1e1e" stroke-width="0.9"/>
<line x1="248.1" y1="348.25" x2="250.8" y2="348.25" stroke="#1e1e1e" stroke-width="0.9"/>
<line x1="248.1" y1="336.75" x2="250.8" y2="336.75" stroke="#1e1e1e" stroke-width="0.9"/>
<line x1="248.1" y1="325.25" x2="250.8" y2="325.25" stroke="#1e1e1e" stroke-width="0.9"/>
<line x1="248.1" y1="313.75" x2="250.8" y2="313.75" stroke="#1e1e1e" stroke-width="0.9"/>
<line x1="248.1" y1="302.25" x2="250.8" y2="302.25" stroke="#1e1e1e" stroke-width="0.9"/>
<line x1="248.1" y1="290.75" x2="250.8" y2="290.75" stroke="#1e1e1e" stroke-width="0.9"/>
<line x1="254" y1="374" x2="254" y2="376.5" stroke="#1e1e1e" stroke-width="0.9"/>
<line x1="266.4" y1="374" x2="266.4" y2="376.5" stroke="#1e1e1e" stroke-width="0.9"/>
<line x1="278.8" y1="374" x2="278.8" y2="376.5" stroke="#1e1e1e" stroke-width="0.9"/>
<line x1="291.2" y1="374" x2="291.2" y2="376.5" stroke="#1e1e1e" stroke-width="0.9"/>
<line x1="303.6" y1="374" x2="303.6" y2="376.5" stroke="#1e1e1e" stroke-width="0.9"/>
<line x1="316" y1="374" x2="316" y2="376.5" stroke="#1e1e1e" stroke-width="0.9"/>
<line x1="328.4" y1="374" x2="328.4" y2="376.5" stroke="#1e1e1e" stroke-width="0.9"/>
<path d="M254.3 346.2 C254.7 345.68 255.92 343.48 256.7 343.1 C257.48 342.72 258.08 343.25 259 343.9 C259.92 344.55 261.02 345.55 262.2 347 C263.38 348.45 264.78 350.75 266.1 352.6 C267.42 354.45 268.78 356.53 270.1 358.1 C271.42 359.67 272.68 361.22 274 362 C275.32 362.78 276.55 362.8 278 362.8 C279.45 362.8 281.13 362 282.7 362 C284.27 362 285.82 362.27 287.4 362.8 C288.98 363.33 290.62 364.28 292.2 365.2 C293.78 366.12 295.33 367.38 296.9 368.3 C298.47 369.22 300.02 370.22 301.6 370.7 C303.18 371.18 304.3 371.12 306.4 371.2 C308.5 371.28 311.32 371.15 314.2 371.2 C317.08 371.25 322.12 371.45 323.7 371.5 L323.7 373.5 L254.3 373.5 Z" fill="#8aaac6" stroke="none" stroke-width="1"/>
<path d="M254.3 286.2 C254.7 286.2 256.17 283.28 256.7 286.2 C257.23 289.12 257.23 296.85 257.5 303.7 C257.77 310.55 258.05 319.95 258.3 327.3 C258.55 334.65 258.62 342.28 259 347.8 C259.38 353.32 259.93 357.37 260.6 360.4 C261.27 363.43 262.27 364.68 263 366 C263.73 367.32 264.48 367.52 265 368.3 C265.52 369.08 265.73 371.08 266.1 370.7 C266.47 370.32 266.85 366.13 267.2 366 C267.55 365.87 267.72 369.38 268.2 369.9 C268.68 370.42 269.4 368.97 270.1 369.1 C270.8 369.23 271.75 370.57 272.4 370.7 C273.05 370.83 273.33 369.82 274 369.9 C274.67 369.98 275.73 371.25 276.4 371.2 C277.07 371.15 277.35 369.6 278 369.6 C278.65 369.6 279.52 371.15 280.3 371.2 C281.08 371.25 281.92 370.07 282.7 369.9 C283.48 369.73 284.35 370.33 285 370.2 C285.65 370.07 286.2 368.93 286.6 369.1 C287 369.27 287.27 370.85 287.4 371.2 L287.4 373.5 L254.3 373.5 Z" fill="#e4899a" stroke="none" stroke-width="1" opacity="0.88"/>
<path d="M254.3 346.2 C254.7 345.68 255.92 343.48 256.7 343.1 C257.48 342.72 258.08 343.25 259 343.9 C259.92 344.55 261.02 345.55 262.2 347 C263.38 348.45 264.78 350.75 266.1 352.6 C267.42 354.45 268.78 356.53 270.1 358.1 C271.42 359.67 272.68 361.22 274 362 C275.32 362.78 276.55 362.8 278 362.8 C279.45 362.8 281.13 362 282.7 362 C284.27 362 285.82 362.27 287.4 362.8 C288.98 363.33 290.62 364.28 292.2 365.2 C293.78 366.12 295.33 367.38 296.9 368.3 C298.47 369.22 300.02 370.22 301.6 370.7 C303.18 371.18 304.3 371.12 306.4 371.2 C308.5 371.28 311.32 371.15 314.2 371.2 C317.08 371.25 322.12 371.45 323.7 371.5" fill="none" stroke="#2b6399" stroke-width="1.15"/>
<path d="M254.3 286.2 C254.7 286.2 256.17 283.28 256.7 286.2 C257.23 289.12 257.23 296.85 257.5 303.7 C257.77 310.55 258.05 319.95 258.3 327.3 C258.55 334.65 258.62 342.28 259 347.8 C259.38 353.32 259.93 357.37 260.6 360.4 C261.27 363.43 262.27 364.68 263 366 C263.73 367.32 264.48 367.52 265 368.3 C265.52 369.08 265.73 371.08 266.1 370.7 C266.47 370.32 266.85 366.13 267.2 366 C267.55 365.87 267.72 369.38 268.2 369.9 C268.68 370.42 269.4 368.97 270.1 369.1 C270.8 369.23 271.75 370.57 272.4 370.7 C273.05 370.83 273.33 369.82 274 369.9 C274.67 369.98 275.73 371.25 276.4 371.2 C277.07 371.15 277.35 369.6 278 369.6 C278.65 369.6 279.52 371.15 280.3 371.2 C281.08 371.25 281.92 370.07 282.7 369.9 C283.48 369.73 284.35 370.33 285 370.2 C285.65 370.07 286.2 368.93 286.6 369.1 C287 369.27 287.27 370.85 287.4 371.2" fill="none" stroke="#c8102e" stroke-width="1.3"/>
<path d="M318.7 312.3 L326.5 312.3 L318.7 349.4Z" fill="#000" stroke="none" stroke-width="1"/>
<text x="309.5" y="327.3" font-size="8" text-anchor="end">5439</text>
<path d="M312.3 322.7 L316.5 324.7 L312.3 326.5Z" fill="#000" stroke="none" stroke-width="1"/>
<line x1="340" y1="288" x2="340" y2="374.2" stroke="#1e1e1e" stroke-width="1.35" stroke-linecap="square"/>
<line x1="339.5" y1="374" x2="421.3" y2="374" stroke="#1e1e1e" stroke-width="1.35" stroke-linecap="square"/>
<line x1="337.3" y1="371.25" x2="340" y2="371.25" stroke="#1e1e1e" stroke-width="0.9"/>
<line x1="337.3" y1="359.75" x2="340" y2="359.75" stroke="#1e1e1e" stroke-width="0.9"/>
<line x1="337.3" y1="348.25" x2="340" y2="348.25" stroke="#1e1e1e" stroke-width="0.9"/>
<line x1="337.3" y1="336.75" x2="340" y2="336.75" stroke="#1e1e1e" stroke-width="0.9"/>
<line x1="337.3" y1="325.25" x2="340" y2="325.25" stroke="#1e1e1e" stroke-width="0.9"/>
<line x1="337.3" y1="313.75" x2="340" y2="313.75" stroke="#1e1e1e" stroke-width="0.9"/>
<line x1="337.3" y1="302.25" x2="340" y2="302.25" stroke="#1e1e1e" stroke-width="0.9"/>
<line x1="337.3" y1="290.75" x2="340" y2="290.75" stroke="#1e1e1e" stroke-width="0.9"/>
<line x1="343.5" y1="374" x2="343.5" y2="376.5" stroke="#1e1e1e" stroke-width="0.9"/>
<line x1="356" y1="374" x2="356" y2="376.5" stroke="#1e1e1e" stroke-width="0.9"/>
<line x1="368.5" y1="374" x2="368.5" y2="376.5" stroke="#1e1e1e" stroke-width="0.9"/>
<line x1="381" y1="374" x2="381" y2="376.5" stroke="#1e1e1e" stroke-width="0.9"/>
<line x1="393.5" y1="374" x2="393.5" y2="376.5" stroke="#1e1e1e" stroke-width="0.9"/>
<line x1="406" y1="374" x2="406" y2="376.5" stroke="#1e1e1e" stroke-width="0.9"/>
<line x1="418.5" y1="374" x2="418.5" y2="376.5" stroke="#1e1e1e" stroke-width="0.9"/>
<path d="M343.1 348.3 C343.5 345.25 344.63 334.4 345.5 330 C346.37 325.6 347.2 322.38 348.3 321.9 C349.4 321.42 350.98 324.47 352.1 327.1 C353.22 329.73 354.03 333.53 355 337.7 C355.97 341.87 356.78 347.77 357.9 352.1 C359.02 356.43 360.42 361.62 361.7 363.7 C362.98 365.78 364.32 363.75 365.6 364.6 C366.88 365.45 367.97 368.22 369.4 368.8 C370.83 369.38 372.43 367.9 374.2 368.1 C375.97 368.3 378.2 369.77 380 370 C381.8 370.23 383.08 369.5 385 369.5 C386.92 369.5 389.62 369.67 391.5 370 C393.38 370.33 395.5 371.25 396.3 371.5 L396.3 373.5 L343.1 373.5 Z" fill="#8aaac6" stroke="none" stroke-width="1"/>
<path d="M343.5 286.2 C343.97 286.2 345.83 286.2 346.3 286.2 L346.3 373.5 L343.5 373.5 Z" fill="#e4899a" stroke="none" stroke-width="1" opacity="0.88"/>
<path d="M343.1 348.3 C343.5 345.25 344.63 334.4 345.5 330 C346.37 325.6 347.2 322.38 348.3 321.9 C349.4 321.42 350.98 324.47 352.1 327.1 C353.22 329.73 354.03 333.53 355 337.7 C355.97 341.87 356.78 347.77 357.9 352.1 C359.02 356.43 360.42 361.62 361.7 363.7 C362.98 365.78 364.32 363.75 365.6 364.6 C366.88 365.45 367.97 368.22 369.4 368.8 C370.83 369.38 372.43 367.9 374.2 368.1 C375.97 368.3 378.2 369.77 380 370 C381.8 370.23 383.08 369.5 385 369.5 C386.92 369.5 389.62 369.67 391.5 370 C393.38 370.33 395.5 371.25 396.3 371.5" fill="none" stroke="#2b6399" stroke-width="1.15"/>
<path d="M343.5 286.2 C343.97 286.2 345.83 286.2 346.3 286.2" fill="none" stroke="#c8102e" stroke-width="1.3"/>
<rect x="343.5" y="286.2" width="2.8" height="87.6" fill="#e4899a" stroke="none" stroke-width="1"/>
<line x1="343.6" y1="286.2" x2="343.6" y2="373.8" stroke="#c8102e" stroke-width="0.8"/>
<line x1="346.2" y1="286.2" x2="346.2" y2="373.8" stroke="#c8102e" stroke-width="0.8"/>
<line x1="348.3" y1="359.2" x2="348.3" y2="373.8" stroke="#c8102e" stroke-width="1.1"/>
<path d="M408.5 312.3 L416.2 312.3 L408.5 350.2Z" fill="#000" stroke="none" stroke-width="1"/>
<text x="400.2" y="315.6" font-size="8" text-anchor="end">8</text>
<path d="M403 311 L407.2 313 L403 314.8Z" fill="#000" stroke="none" stroke-width="1"/>
<text x="427" y="265.2" font-size="11.5" font-weight="bold" fill="#000">F</text>
<text x="482.9" y="263.5" font-size="8.2" text-anchor="middle" textLength="36.8" lengthAdjust="spacingAndGlyphs">&lt;2.2×10<tspan font-size="5.6" dy="-3">−16</tspan></text>
<line x1="468" y1="267" x2="497.6" y2="267" stroke="#1e1e1e" stroke-width="0.9"/>
<text x="486.6" y="275.1" font-size="8.2" text-anchor="middle" textLength="37.2" lengthAdjust="spacingAndGlyphs">&lt;2.2×10<tspan font-size="5.6" dy="-3">−16</tspan></text>
<line x1="479" y1="279.5" x2="494.8" y2="279.5" stroke="#1e1e1e" stroke-width="0.9"/>
<line x1="462.2" y1="277.4" x2="462.2" y2="375.9" stroke="#1e1e1e" stroke-width="1.35" stroke-linecap="square"/>
<line x1="461.7" y1="375.6" x2="497.6" y2="375.6" stroke="#1e1e1e" stroke-width="1.35" stroke-linecap="square"/>
<line x1="459.5" y1="368.1" x2="462.2" y2="368.1" stroke="#1e1e1e" stroke-width="0.9"/>
<text x="455.2" y="371.1" font-size="8.7" text-anchor="end" textLength="4.15" lengthAdjust="spacingAndGlyphs">1</text>
<line x1="459.5" y1="351.07" x2="462.2" y2="351.07" stroke="#1e1e1e" stroke-width="0.9"/>
<text x="455.2" y="354.07" font-size="8.7" text-anchor="end" textLength="4.15" lengthAdjust="spacingAndGlyphs">2</text>
<line x1="459.5" y1="334.04" x2="462.2" y2="334.04" stroke="#1e1e1e" stroke-width="0.9"/>
<text x="455.2" y="337.04" font-size="8.7" text-anchor="end" textLength="4.15" lengthAdjust="spacingAndGlyphs">3</text>
<line x1="459.5" y1="317.01" x2="462.2" y2="317.01" stroke="#1e1e1e" stroke-width="0.9"/>
<text x="455.2" y="320.01" font-size="8.7" text-anchor="end" textLength="4.15" lengthAdjust="spacingAndGlyphs">4</text>
<line x1="459.5" y1="299.98" x2="462.2" y2="299.98" stroke="#1e1e1e" stroke-width="0.9"/>
<text x="455.2" y="302.98" font-size="8.7" text-anchor="end" textLength="4.15" lengthAdjust="spacingAndGlyphs">5</text>
<line x1="459.5" y1="282.95" x2="462.2" y2="282.95" stroke="#1e1e1e" stroke-width="0.9"/>
<text x="455.2" y="285.95" font-size="8.7" text-anchor="end" textLength="4.15" lengthAdjust="spacingAndGlyphs">6</text>
<line x1="469" y1="343.07" x2="469" y2="353.62" stroke="#1e1e1e" stroke-width="0.9"/>
<line x1="469" y1="360.61" x2="469" y2="368.1" stroke="#1e1e1e" stroke-width="0.9"/>
<line x1="467" y1="343.07" x2="471" y2="343.07" stroke="#1e1e1e" stroke-width="0.9"/>
<line x1="467" y1="368.1" x2="471" y2="368.1" stroke="#1e1e1e" stroke-width="0.9"/>
<rect x="464.95" y="353.62" width="8.1" height="6.98" fill="#e8909f" stroke="none" stroke-width="1"/>
<line x1="464.95" y1="357.71" x2="473.05" y2="357.71" stroke="#111" stroke-width="1.3"/>
<path fill="none" stroke="#c8102e" stroke-width="2.2" stroke-linecap="round" d="M469 281.2h0M469 300h0M469 312.4h0M469 317h0M469 330.6h0M469 332.3h0M469 334h0M469 335.7h0M469 337.4h0M469 338.3h0M469 339.1h0M469 340h0M469 340.9h0M469 341.7h0"/>
<line x1="479.3" y1="354.48" x2="479.3" y2="360.44" stroke="#1e1e1e" stroke-width="0.9"/>
<line x1="479.3" y1="365.55" x2="479.3" y2="371.51" stroke="#1e1e1e" stroke-width="0.9"/>
<line x1="477.3" y1="354.48" x2="481.3" y2="354.48" stroke="#1e1e1e" stroke-width="0.9"/>
<line x1="477.3" y1="371.51" x2="481.3" y2="371.51" stroke="#1e1e1e" stroke-width="0.9"/>
<rect x="475" y="360.44" width="8.6" height="5.11" fill="#a48fc4" stroke="none" stroke-width="1"/>
<line x1="475" y1="364.01" x2="483.6" y2="364.01" stroke="#111" stroke-width="1.3"/>
<path fill="none" stroke="#5b2d8c" stroke-width="2.2" stroke-linecap="round" d="M479.3 305.1h0M479.3 315.3h0M479.3 328.9h0M479.3 329.8h0M479.3 330.6h0M479.3 337.4h0M479.3 339.1h0M479.3 340.9h0M479.3 342.6h0M479.3 343.4h0M479.3 344.3h0M479.3 346h0M479.3 347.7h0M479.3 349.4h0M479.3 351.1h0M479.3 351.9h0M479.3 352.8h0M479.3 353.6h0"/>
<line x1="490.3" y1="341.53" x2="490.3" y2="349.2" stroke="#1e1e1e" stroke-width="0.9"/>
<line x1="490.3" y1="354.82" x2="490.3" y2="360.1" stroke="#1e1e1e" stroke-width="0.9"/>
<line x1="488.3" y1="341.53" x2="492.3" y2="341.53" stroke="#1e1e1e" stroke-width="0.9"/>
<line x1="488.3" y1="360.1" x2="492.3" y2="360.1" stroke="#1e1e1e" stroke-width="0.9"/>
<rect x="485.85" y="349.2" width="8.9" height="5.62" fill="#ace3ad" stroke="none" stroke-width="1"/>
<line x1="485.85" y1="352.26" x2="494.75" y2="352.26" stroke="#111" stroke-width="1.3"/>
<path fill="none" stroke="#2bb83c" stroke-width="2.2" stroke-linecap="round" d="M490.3 294h0M490.3 305.1h0M490.3 313.6h0M490.3 323.8h0M490.3 328.9h0M490.3 330.6h0M490.3 332.3h0M490.3 334h0M490.3 335.7h0M490.3 336.6h0M490.3 337.4h0M490.3 338.3h0M490.3 339.1h0M490.3 340h0"/>
<line x1="469" y1="375.6" x2="469" y2="378" stroke="#1e1e1e" stroke-width="0.9"/>
<line x1="479.3" y1="375.6" x2="479.3" y2="378" stroke="#1e1e1e" stroke-width="0.9"/>
<line x1="490.3" y1="375.6" x2="490.3" y2="378" stroke="#1e1e1e" stroke-width="0.9"/>
<text x="448.5" y="326.4" font-size="10.18" text-anchor="middle" textLength="110" lengthAdjust="spacingAndGlyphs" transform="rotate(-90 448.5 326.4)">Mean sister expression difference</text>
<text x="471.3" y="379.6" font-size="8.8" text-anchor="end" textLength="31.5" lengthAdjust="spacingAndGlyphs" transform="rotate(-90 471.3 379.6)">NOstrat</text>
<text x="481.9" y="379.6" font-size="8.8" text-anchor="end" textLength="33.5" lengthAdjust="spacingAndGlyphs" transform="rotate(-90 481.9 379.6)">TSDstrat</text>
<text x="492.8" y="379.6" font-size="8.8" text-anchor="end" textLength="31" lengthAdjust="spacingAndGlyphs" transform="rotate(-90 492.8 379.6)">KINstrat</text>
<text x="6.8" y="432.6" font-size="11.5" font-weight="bold" fill="#000">G</text>
<text x="60.3" y="431.8" font-size="10.18" text-anchor="middle" textLength="34.5" lengthAdjust="spacingAndGlyphs">KINstrat</text>
<circle cx="57.4" cy="460.8" r="26.3" fill="#ceead0" stroke="none" stroke-width="1" style="mix-blend-mode:multiply"/>
<circle cx="44.3" cy="502.6" r="26.1" fill="#ecc3ca" stroke="none" stroke-width="1" style="mix-blend-mode:multiply"/>
<circle cx="70.5" cy="502.4" r="26.3" fill="#d6c9db" stroke="none" stroke-width="1" style="mix-blend-mode:multiply"/>
<text x="57.7" y="462.9" font-size="8.6" text-anchor="middle" font-weight="bold">468</text>
<text x="47.9" y="483.8" font-size="8.4" text-anchor="middle">3</text>
<text x="57.1" y="486.3" font-size="8.4" text-anchor="middle">21</text>
<text x="67.7" y="483.8" font-size="8.4" text-anchor="middle">8</text>
<text x="32.7" y="506.3" font-size="8.4" text-anchor="middle">302</text>
<text x="57.7" y="506.3" font-size="8.4" text-anchor="middle">174</text>
<text x="82.1" y="506.3" font-size="8.4" text-anchor="middle">297</text>
<text x="36.2" y="540" font-size="10.18" text-anchor="middle" textLength="34" lengthAdjust="spacingAndGlyphs">NOstrat</text>
<text x="78.2" y="540" font-size="10.18" text-anchor="middle" textLength="35.6" lengthAdjust="spacingAndGlyphs">TSDstrat</text>
<text x="143.6" y="432.6" font-size="11.5" font-weight="bold" fill="#000">H</text>
<rect x="214.3" y="446.8" width="44.8" height="103.1" fill="#c6d4e2" stroke="none" stroke-width="1"/>
<text x="236.8" y="443.1" font-size="10.07" text-anchor="middle" textLength="37.2" lengthAdjust="spacingAndGlyphs">trackSeq</text>
<line x1="163.6" y1="506.5" x2="163.6" y2="455" stroke="#1e1e1e" stroke-width="1.2"/>
<line x1="163" y1="506.5" x2="202.5" y2="506.5" stroke="#1e1e1e" stroke-width="1.2"/>
<path d="M160.6 456.2 L166.6 456.2 L163.6 451Z" fill="#000" stroke="none" stroke-width="1"/>
<line x1="173.35" y1="454.3" x2="173.35" y2="495.9" stroke="#333" stroke-width="1"/>
<rect x="168.8" y="465.1" width="9.1" height="24.8" fill="#c8102e" stroke="none" stroke-width="1"/>
<line x1="168.8" y1="479.4" x2="177.9" y2="479.4" stroke="#111" stroke-width="1.3"/>
<line x1="192" y1="455.4" x2="192" y2="501.3" stroke="#333" stroke-width="1"/>
<rect x="187.5" y="465.1" width="9" height="26.4" fill="#c8102e" stroke="none" stroke-width="1"/>
<line x1="187.5" y1="479.4" x2="196.5" y2="479.4" stroke="#111" stroke-width="1.3"/>
<line x1="178.4" y1="465.8" x2="187.2" y2="470.8" stroke="#2e6fae" stroke-width="1" stroke-dasharray="1.6 1.2"/>
<line x1="178.4" y1="472.4" x2="187.2" y2="466.3" stroke="#2e6fae" stroke-width="1" stroke-dasharray="1.6 1.2"/>
<line x1="178.4" y1="475.7" x2="187.2" y2="481.8" stroke="#2e6fae" stroke-width="1" stroke-dasharray="1.6 1.2"/>
<line x1="178.4" y1="486.1" x2="187.2" y2="481" stroke="#2e6fae" stroke-width="1" stroke-dasharray="1.6 1.2"/>
<line x1="178.4" y1="485.8" x2="187.2" y2="490.9" stroke="#2e6fae" stroke-width="1" stroke-dasharray="1.6 1.2"/>
<text x="159" y="478.5" font-size="10.18" text-anchor="middle" textLength="35" lengthAdjust="spacingAndGlyphs" transform="rotate(-90 159 478.5)">Expression</text>
<line x1="182.8" y1="511" x2="182.8" y2="519.9" stroke="#333" stroke-width="0.9"/>
<line x1="172.2" y1="519.9" x2="193.3" y2="519.9" stroke="#1f5f97" stroke-width="1.5"/>
<circle cx="182.8" cy="511" r="3.7" fill="#e8899c" stroke="#2a2a2a" stroke-width="0.8"/>
<circle cx="172.2" cy="519.9" r="3.7" fill="#8fb0cf" stroke="#2a2a2a" stroke-width="0.8"/>
<circle cx="193.3" cy="519.9" r="3.7" fill="#8fb0cf" stroke="#2a2a2a" stroke-width="0.8"/>
<text x="182.8" y="529.1" font-size="8" text-anchor="middle">?</text>
<text x="179.6" y="547.8" font-size="10.18" text-anchor="middle" textLength="45.8" lengthAdjust="spacingAndGlyphs">Fate unknown</text>
<line x1="217.2" y1="506.8" x2="217.2" y2="455.1" stroke="#1e1e1e" stroke-width="1.2"/>
<line x1="216.6" y1="506.8" x2="256.5" y2="506.8" stroke="#1e1e1e" stroke-width="1.2"/>
<path d="M214.2 456.3 L220.2 456.3 L217.2 451.1Z" fill="#000" stroke="none" stroke-width="1"/>
<line x1="227.85" y1="460.7" x2="227.85" y2="502.6" stroke="#333" stroke-width="1"/>
<rect x="223.3" y="470.5" width="9.1" height="23.7" fill="#c8102e" stroke="none" stroke-width="1"/>
<line x1="223.3" y1="484.9" x2="232.4" y2="484.9" stroke="#111" stroke-width="1.3"/>
<line x1="246.4" y1="452.7" x2="246.4" y2="498.9" stroke="#333" stroke-width="1"/>
<rect x="241.8" y="462.9" width="9.2" height="24.8" fill="#c8102e" stroke="none" stroke-width="1"/>
<line x1="241.8" y1="477.3" x2="251" y2="477.3" stroke="#111" stroke-width="1.3"/>
<line x1="232.6" y1="472" x2="241.6" y2="465" stroke="#2e6fae" stroke-width="0.95" stroke-dasharray="1.8 1.1"/>
<line x1="232.6" y1="476.8" x2="241.6" y2="469.8" stroke="#2e6fae" stroke-width="0.95" stroke-dasharray="1.8 1.1"/>
<line x1="232.6" y1="481.6" x2="241.6" y2="474.6" stroke="#2e6fae" stroke-width="0.95" stroke-dasharray="1.8 1.1"/>
<line x1="232.6" y1="486.4" x2="241.6" y2="479.4" stroke="#2e6fae" stroke-width="0.95" stroke-dasharray="1.8 1.1"/>
<line x1="232.6" y1="491.2" x2="241.6" y2="484.2" stroke="#2e6fae" stroke-width="0.95" stroke-dasharray="1.8 1.1"/>
<line x1="238.8" y1="510.7" x2="238.8" y2="519.8" stroke="#333" stroke-width="0.9"/>
<line x1="227.8" y1="519.8" x2="241.8" y2="519.8" stroke="#1f5f97" stroke-width="1.4"/>
<path d="M245.4 519.8 L240.9 522.4 L240.9 517.2Z" fill="#1f5f97" stroke="none" stroke-width="1"/>
<circle cx="238.8" cy="510.7" r="3.7" fill="#e8899c" stroke="#2a2a2a" stroke-width="0.8"/>
<circle cx="227.8" cy="519.8" r="3.7" fill="#3cb44b" stroke="#2f6ea3" stroke-width="0.9"/>
<circle cx="249.3" cy="519.8" r="3.7" fill="#fff" stroke="#2f6ea3" stroke-width="0.9"/>
<text x="238.8" y="527.6" font-size="8" text-anchor="middle">or</text>
<line x1="249.3" y1="535.6" x2="235.3" y2="535.6" stroke="#1f5f97" stroke-width="1.4"/>
<path d="M231.7 535.6 L236.2 533 L236.2 538.2Z" fill="#1f5f97" stroke="none" stroke-width="1"/>
<circle cx="227.8" cy="535.6" r="3.7" fill="#fff" stroke="#2f6ea3" stroke-width="0.9"/>
<circle cx="249.3" cy="535.6" r="3.7" fill="#3cb44b" stroke="#2f6ea3" stroke-width="0.9"/>
<text x="236.7" y="547.4" font-size="10.18" text-anchor="middle" textLength="22.8" lengthAdjust="spacingAndGlyphs">Known</text>
<text x="302.4" y="431.6" font-size="11.5" font-weight="bold" fill="#000">I</text>
<text x="377" y="432.9" font-size="10.07" text-anchor="middle" textLength="16.37" lengthAdjust="spacingAndGlyphs">Ecd</text>
<text x="473.5" y="432.6" font-size="10.07" text-anchor="middle" textLength="21.13" lengthAdjust="spacingAndGlyphs">Itgb4</text>
<rect x="383.3" y="447" width="33.8" height="92.5" fill="#c6d4e2" stroke="none" stroke-width="1"/>
<rect x="480.8" y="447.1" width="31.9" height="91.8" fill="#c6d4e2" stroke="none" stroke-width="1"/>
<text x="351.6" y="444.3" font-size="8.2" text-anchor="middle">P = 0.447</text>
<rect x="343.2" y="466.1" width="5.8" height="13.5" fill="#e993a4" stroke="none" stroke-width="1"/>
<rect x="359.9" y="466.4" width="5.6" height="18.5" fill="#e993a4" stroke="none" stroke-width="1"/>
<line x1="346.2" y1="453.27" x2="346.2" y2="535.2" stroke="#444" stroke-width="0.9"/>
<line x1="362.6" y1="449.55" x2="362.6" y2="526.82" stroke="#444" stroke-width="0.9"/>
<path d="M346.2 465.81L362.6 472.85M346.2 481.72L362.6 490.77M346.2 467.94L362.6 456.36M346.2 463.24L362.6 465.5M346.2 491.03L362.6 498.41M346.2 472.31L362.6 473.61M346.2 469.43L362.6 461.04M346.2 462.62L362.6 473.31M346.2 477.1L362.6 468.46M346.2 467.04L362.6 458.02M346.2 467.22L362.6 458.99M346.2 479.56L362.6 477.63M346.2 472.9L362.6 467.17M346.2 490.14L362.6 496.93M346.2 461.51L362.6 449.55M346.2 490.78L362.6 504.83M346.2 479.33L362.6 468.32M346.2 485.07L362.6 462.84M346.2 484.93L362.6 481.31M346.2 481.72L362.6 462.29M346.2 456.6L362.6 462.38M346.2 481.98L362.6 466.86M346.2 478.24L362.6 452.54M346.2 480L362.6 509M346.2 476.39L362.6 469.51M346.2 475.35L362.6 472.76M346.2 471.62L362.6 480.91M346.2 483.45L362.6 488.03M346.2 470.76L362.6 476.75M346.2 457.5L362.6 449.55M346.2 470L362.6 449.55M346.2 457.76L362.6 455.1M346.2 475.18L362.6 469.96M346.2 460.63L362.6 461.3M346.2 482.97L362.6 471.93M346.2 458.54L362.6 471.21M346.2 477.9L362.6 492.97M346.2 484.86L362.6 506.72M346.2 482.26L362.6 487.87M346.2 489.44L362.6 491.54M346.2 493.41L362.6 502.68M346.2 473.06L362.6 459.78M346.2 469.6L362.6 464.51M346.2 470.52L362.6 469.67M346.2 499.82L362.6 474.69M346.2 510.99L362.6 468.17M346.2 517.51L362.6 479.34M346.2 535.2L362.6 486.79M346.2 486.79L362.6 526.82M346.2 492.37L362.6 524.03M346.2 481.2L362.6 521.24M346.2 495.17L362.6 519.37M346.2 453.27L362.6 457M346.2 479.34L362.6 449.55" fill="none" stroke="#d01c40" stroke-width="0.55" opacity="0.85"/>
<line x1="342.2" y1="471.7" x2="350" y2="471.7" stroke="#111" stroke-width="1.2" stroke-dasharray="1.6 0.8"/>
<line x1="358.9" y1="472.6" x2="366.5" y2="472.6" stroke="#111" stroke-width="1.2" stroke-dasharray="1.6 0.8"/>
<path fill="none" stroke="#c8102e" stroke-width="2.1" stroke-linecap="round" d="M346.2 465.8h0M346.2 481.7h0M346.2 467.9h0M346.2 463.2h0M346.2 491h0M346.2 472.3h0M346.2 469.4h0M346.2 462.6h0M346.2 477.1h0M346.2 467h0M346.2 467.2h0M346.2 479.6h0M346.2 472.9h0M346.2 490.1h0M346.2 461.5h0M346.2 490.8h0M346.2 479.3h0M346.2 485.1h0M346.2 484.9h0M346.2 481.7h0M346.2 456.6h0M346.2 482h0M346.2 478.2h0M346.2 480h0M346.2 476.4h0M346.2 475.4h0M346.2 471.6h0M346.2 483.5h0M346.2 470.8h0M346.2 457.5h0M346.2 470h0M346.2 457.8h0M346.2 475.2h0M346.2 460.6h0M346.2 483h0M346.2 458.5h0M346.2 477.9h0M346.2 484.9h0M346.2 482.3h0M346.2 489.4h0M346.2 493.4h0M346.2 473.1h0M346.2 469.6h0M346.2 470.5h0M346.2 499.8h0M346.2 511h0M346.2 517.5h0M346.2 535.2h0M346.2 486.8h0M346.2 492.4h0M346.2 481.2h0M346.2 495.2h0M346.2 453.3h0M346.2 479.3h0M362.6 472.8h0M362.6 490.8h0M362.6 456.4h0M362.6 465.5h0M362.6 498.4h0M362.6 473.6h0M362.6 461h0M362.6 473.3h0M362.6 468.5h0M362.6 458h0M362.6 459h0M362.6 477.6h0M362.6 467.2h0M362.6 496.9h0M362.6 449.5h0M362.6 504.8h0M362.6 468.3h0M362.6 462.8h0M362.6 481.3h0M362.6 462.3h0M362.6 462.4h0M362.6 466.9h0M362.6 452.5h0M362.6 509h0M362.6 469.5h0M362.6 472.8h0M362.6 480.9h0M362.6 488h0M362.6 476.7h0M362.6 449.5h0M362.6 449.5h0M362.6 455.1h0M362.6 470h0M362.6 461.3h0M362.6 471.9h0M362.6 471.2h0M362.6 493h0M362.6 506.7h0M362.6 487.9h0M362.6 491.5h0M362.6 502.7h0M362.6 459.8h0M362.6 464.5h0M362.6 469.7h0M362.6 474.7h0M362.6 468.2h0M362.6 479.3h0M362.6 486.8h0M362.6 526.8h0M362.6 524h0M362.6 521.2h0M362.6 519.4h0M362.6 457h0M362.6 449.5h0"/>
<line x1="336.5" y1="447.4" x2="336.5" y2="540.3" stroke="#1e1e1e" stroke-width="1.35" stroke-linecap="square"/>
<line x1="336" y1="540.1" x2="369.6" y2="540.1" stroke="#1e1e1e" stroke-width="1.35" stroke-linecap="square"/>
<line x1="333.8" y1="535.2" x2="336.5" y2="535.2" stroke="#1e1e1e" stroke-width="0.9"/>
<line x1="333.8" y1="511.93" x2="336.5" y2="511.93" stroke="#1e1e1e" stroke-width="0.9"/>
<line x1="333.8" y1="488.65" x2="336.5" y2="488.65" stroke="#1e1e1e" stroke-width="0.9"/>
<line x1="333.8" y1="465.38" x2="336.5" y2="465.38" stroke="#1e1e1e" stroke-width="0.9"/>
<line x1="346.2" y1="540.1" x2="346.2" y2="542.5" stroke="#1e1e1e" stroke-width="0.9"/>
<line x1="362.6" y1="540.1" x2="362.6" y2="542.5" stroke="#1e1e1e" stroke-width="0.9"/>
<line x1="354.3" y1="543.6" x2="354.3" y2="552.4" stroke="#333" stroke-width="0.9"/>
<line x1="344.1" y1="552.4" x2="364.8" y2="552.4" stroke="#1f5f97" stroke-width="1.5"/>
<circle cx="354.3" cy="543.6" r="3.7" fill="#e8899c" stroke="#2a2a2a" stroke-width="0.8"/>
<circle cx="344.1" cy="552.4" r="3.7" fill="#8fb0cf" stroke="#2a2a2a" stroke-width="0.8"/>
<circle cx="364.8" cy="552.4" r="3.7" fill="#8fb0cf" stroke="#2a2a2a" stroke-width="0.8"/>
<text x="354.3" y="561.8" font-size="8" text-anchor="middle">?</text>
<text x="398.5" y="444.3" font-size="8.2" text-anchor="middle">0.007</text>
<rect x="390.3" y="464.6" width="5.3" height="10.6" fill="#e993a4" stroke="none" stroke-width="1"/>
<rect x="407" y="466.4" width="5.3" height="20.3" fill="#e993a4" stroke="none" stroke-width="1"/>
<line x1="393" y1="449.55" x2="393" y2="499.88" stroke="#444" stroke-width="0.9"/>
<line x1="409.3" y1="455.13" x2="409.3" y2="535.2" stroke="#444" stroke-width="0.9"/>
<path d="M393 485.25L409.3 478.31M393 456.24L409.3 456.72M393 499.88L409.3 492.37M393 482.57L409.3 492.37M393 494.74L409.3 492.37M393 462.59L409.3 479.13M393 465.83L409.3 474.3M393 472.41L409.3 480.19M393 481.18L409.3 477.16M393 457.26L409.3 461.65M393 470.67L409.3 505.5M393 470.58L409.3 467.74M393 471.28L409.3 485.42M393 485.48L409.3 492.37M393 462.87L409.3 475.4M393 474.89L409.3 480.67M393 466.71L409.3 455.13M393 471.14L409.3 494.48M393 464.88L409.3 500.65M393 475.54L409.3 484.09M393 468L409.3 472.93M393 462.55L409.3 455.13M393 468.39L409.3 476.15M393 457.61L409.3 467.27M393 482.97L409.3 492.37M393 458.31L409.3 468.21M393 461.87L409.3 481.07M393 482.78L409.3 529.17M393 451.74L409.3 455.13M393 463.09L409.3 467.62M393 486.29L409.3 480.33M393 475.56L409.3 477.44M393 487.15L409.3 492.37M393 465.04L409.3 473.35M393 463.5L409.3 481.48M393 476.34L409.3 503.45M393 478.85L409.3 508.33M393 460.31L409.3 458.3M393 458.49L409.3 472.56M393 457.96L409.3 455.13M393 464.44L409.3 473.11M393 467.07L409.3 467.25M393 472.64L409.3 518.89M393 473.14L409.3 509.91M393 469.57L409.3 475.22M393 464.43L409.3 499.59M393 481.83L409.3 506.7M393 484.2L409.3 492.37M393 449.55L409.3 455.13M393 488.65L409.3 535.2" fill="none" stroke="#d01c40" stroke-width="0.55" opacity="0.85"/>
<line x1="389.3" y1="469.6" x2="396.6" y2="469.6" stroke="#111" stroke-width="1.2" stroke-dasharray="1.6 0.8"/>
<line x1="406" y1="476.1" x2="413.3" y2="476.1" stroke="#111" stroke-width="1.2" stroke-dasharray="1.6 0.8"/>
<path fill="none" stroke="#c8102e" stroke-width="2.1" stroke-linecap="round" d="M393 485.2h0M393 456.2h0M393 499.9h0M393 482.6h0M393 494.7h0M393 462.6h0M393 465.8h0M393 472.4h0M393 481.2h0M393 457.3h0M393 470.7h0M393 470.6h0M393 471.3h0M393 485.5h0M393 462.9h0M393 474.9h0M393 466.7h0M393 471.1h0M393 464.9h0M393 475.5h0M393 468h0M393 462.5h0M393 468.4h0M393 457.6h0M393 483h0M393 458.3h0M393 461.9h0M393 482.8h0M393 451.7h0M393 463.1h0M393 486.3h0M393 475.6h0M393 487.2h0M393 465h0M393 463.5h0M393 476.3h0M393 478.8h0M393 460.3h0M393 458.5h0M393 458h0M393 464.4h0M393 467.1h0M393 472.6h0M393 473.1h0M393 469.6h0M393 464.4h0M393 481.8h0M393 484.2h0M393 449.5h0M393 488.7h0M409.3 478.3h0M409.3 456.7h0M409.3 492.4h0M409.3 492.4h0M409.3 492.4h0M409.3 479.1h0M409.3 474.3h0M409.3 480.2h0M409.3 477.2h0M409.3 461.7h0M409.3 505.5h0M409.3 467.7h0M409.3 485.4h0M409.3 492.4h0M409.3 475.4h0M409.3 480.7h0M409.3 455.1h0M409.3 494.5h0M409.3 500.7h0M409.3 484.1h0M409.3 472.9h0M409.3 455.1h0M409.3 476.1h0M409.3 467.3h0M409.3 492.4h0M409.3 468.2h0M409.3 481.1h0M409.3 529.2h0M409.3 455.1h0M409.3 467.6h0M409.3 480.3h0M409.3 477.4h0M409.3 492.4h0M409.3 473.4h0M409.3 481.5h0M409.3 503.4h0M409.3 508.3h0M409.3 458.3h0M409.3 472.6h0M409.3 455.1h0M409.3 473.1h0M409.3 467.2h0M409.3 518.9h0M409.3 509.9h0M409.3 475.2h0M409.3 499.6h0M409.3 506.7h0M409.3 492.4h0M409.3 455.1h0M409.3 535.2h0"/>
<line x1="383.6" y1="447.4" x2="383.6" y2="540.3" stroke="#1e1e1e" stroke-width="1.35" stroke-linecap="square"/>
<line x1="383.1" y1="540.1" x2="416.4" y2="540.1" stroke="#1e1e1e" stroke-width="1.35" stroke-linecap="square"/>
<line x1="380.9" y1="535.2" x2="383.6" y2="535.2" stroke="#1e1e1e" stroke-width="0.9"/>
<line x1="380.9" y1="511.93" x2="383.6" y2="511.93" stroke="#1e1e1e" stroke-width="0.9"/>
<line x1="380.9" y1="488.65" x2="383.6" y2="488.65" stroke="#1e1e1e" stroke-width="0.9"/>
<line x1="380.9" y1="465.38" x2="383.6" y2="465.38" stroke="#1e1e1e" stroke-width="0.9"/>
<line x1="393" y1="540.1" x2="393" y2="542.5" stroke="#1e1e1e" stroke-width="0.9"/>
<line x1="409.3" y1="540.1" x2="409.3" y2="542.5" stroke="#1e1e1e" stroke-width="0.9"/>
<line x1="400.5" y1="543.6" x2="400.5" y2="552.4" stroke="#333" stroke-width="0.9"/>
<line x1="390" y1="552.4" x2="404" y2="552.4" stroke="#1f5f97" stroke-width="1.4"/>
<path d="M407.6 552.4 L403.1 555 L403.1 549.8Z" fill="#1f5f97" stroke="none" stroke-width="1"/>
<circle cx="400.5" cy="543.6" r="3.7" fill="#e8899c" stroke="#2a2a2a" stroke-width="0.8"/>
<circle cx="390" cy="552.4" r="3.7" fill="#3cb44b" stroke="#2f6ea3" stroke-width="0.9"/>
<circle cx="411.5" cy="552.4" r="3.7" fill="#fff" stroke="#2f6ea3" stroke-width="0.9"/>
<text x="448.7" y="444.3" font-size="8.2" text-anchor="middle">0.535</text>
<rect x="440.4" y="489" width="5.9" height="45.4" fill="#e993a4" stroke="none" stroke-width="1"/>
<rect x="455.5" y="492.4" width="5.4" height="42.6" fill="#e993a4" stroke="none" stroke-width="1"/>
<line x1="443.1" y1="464.44" x2="443.1" y2="535.2" stroke="#444" stroke-width="0.9"/>
<line x1="458.1" y1="453.27" x2="458.1" y2="535.2" stroke="#444" stroke-width="0.9"/>
<path d="M443.1 528.13L458.1 520.93M443.1 508.77L458.1 487.49M443.1 473.47L458.1 495.57M443.1 502.25L458.1 534.95M443.1 524.29L458.1 517M443.1 529.92L458.1 486.56M443.1 502.61L458.1 477.21M443.1 533.36L458.1 528.31M443.1 470.06L458.1 483.98M443.1 480.43L458.1 529.79M443.1 531.18L458.1 456.2M443.1 529.29L458.1 534.52M443.1 483.88L458.1 454.07M443.1 482.21L458.1 512.51M443.1 505.64L458.1 469.59M443.1 471.14L458.1 534.26M443.1 534.41L458.1 509.24M443.1 526.42L458.1 525.58M443.1 528.72L458.1 516.29M443.1 530.59L458.1 501.39M443.1 532.69L458.1 492.77M443.1 511.64L458.1 457.06M443.1 532.34L458.1 511.26M443.1 492.47L458.1 531.51M443.1 481.91L458.1 528.6M443.1 504.45L458.1 512.12M443.1 533.73L458.1 476.68M443.1 483.8L458.1 508.31M443.1 533.58L458.1 514.94M443.1 493.7L458.1 491.45M443.1 464.44L458.1 453.27M443.1 535.2L458.1 535.2" fill="none" stroke="#d01c40" stroke-width="0.55" opacity="0.85"/>
<line x1="439.4" y1="532.4" x2="447.3" y2="532.4" stroke="#111" stroke-width="1.2" stroke-dasharray="1.6 0.8"/>
<line x1="454.5" y1="535" x2="461.9" y2="535" stroke="#111" stroke-width="1.2" stroke-dasharray="1.6 0.8"/>
<path fill="none" stroke="#c8102e" stroke-width="2.1" stroke-linecap="round" d="M443.1 528.1h0M443.1 508.8h0M443.1 473.5h0M443.1 502.2h0M443.1 524.3h0M443.1 529.9h0M443.1 502.6h0M443.1 533.4h0M443.1 470.1h0M443.1 480.4h0M443.1 531.2h0M443.1 529.3h0M443.1 483.9h0M443.1 482.2h0M443.1 505.6h0M443.1 471.1h0M443.1 534.4h0M443.1 526.4h0M443.1 528.7h0M443.1 530.6h0M443.1 532.7h0M443.1 511.6h0M443.1 532.3h0M443.1 492.5h0M443.1 481.9h0M443.1 504.5h0M443.1 533.7h0M443.1 483.8h0M443.1 533.6h0M443.1 493.7h0M443.1 464.4h0M443.1 535.2h0M458.1 520.9h0M458.1 487.5h0M458.1 495.6h0M458.1 534.9h0M458.1 517h0M458.1 486.6h0M458.1 477.2h0M458.1 528.3h0M458.1 484h0M458.1 529.8h0M458.1 456.2h0M458.1 534.5h0M458.1 454.1h0M458.1 512.5h0M458.1 469.6h0M458.1 534.3h0M458.1 509.2h0M458.1 525.6h0M458.1 516.3h0M458.1 501.4h0M458.1 492.8h0M458.1 457.1h0M458.1 511.3h0M458.1 531.5h0M458.1 528.6h0M458.1 512.1h0M458.1 476.7h0M458.1 508.3h0M458.1 514.9h0M458.1 491.5h0M458.1 453.3h0M458.1 535.2h0"/>
<line x1="433.9" y1="447.4" x2="433.9" y2="540.3" stroke="#1e1e1e" stroke-width="1.35" stroke-linecap="square"/>
<line x1="433.4" y1="540.1" x2="466.8" y2="540.1" stroke="#1e1e1e" stroke-width="1.35" stroke-linecap="square"/>
<line x1="431.2" y1="535.2" x2="433.9" y2="535.2" stroke="#1e1e1e" stroke-width="0.9"/>
<line x1="431.2" y1="511.93" x2="433.9" y2="511.93" stroke="#1e1e1e" stroke-width="0.9"/>
<line x1="431.2" y1="488.65" x2="433.9" y2="488.65" stroke="#1e1e1e" stroke-width="0.9"/>
<line x1="431.2" y1="465.38" x2="433.9" y2="465.38" stroke="#1e1e1e" stroke-width="0.9"/>
<line x1="443.1" y1="540.1" x2="443.1" y2="542.5" stroke="#1e1e1e" stroke-width="0.9"/>
<line x1="458.1" y1="540.1" x2="458.1" y2="542.5" stroke="#1e1e1e" stroke-width="0.9"/>
<line x1="450.2" y1="543.6" x2="450.2" y2="552.4" stroke="#333" stroke-width="0.9"/>
<line x1="439.8" y1="552.4" x2="460.9" y2="552.4" stroke="#1f5f97" stroke-width="1.5"/>
<circle cx="450.2" cy="543.6" r="3.7" fill="#e8899c" stroke="#2a2a2a" stroke-width="0.8"/>
<circle cx="439.8" cy="552.4" r="3.7" fill="#8fb0cf" stroke="#2a2a2a" stroke-width="0.8"/>
<circle cx="460.9" cy="552.4" r="3.7" fill="#8fb0cf" stroke="#2a2a2a" stroke-width="0.8"/>
<text x="450.2" y="561.8" font-size="8" text-anchor="middle">?</text>
<text x="495" y="444.3" font-size="8.2" text-anchor="middle">0.042</text>
<rect x="487.1" y="498.9" width="3.9" height="36.5" fill="#e993a4" stroke="none" stroke-width="1"/>
<rect x="501.9" y="487.7" width="4.9" height="46.7" fill="#e993a4" stroke="none" stroke-width="1"/>
<line x1="489" y1="465.38" x2="489" y2="535.2" stroke="#444" stroke-width="0.9"/>
<line x1="504.2" y1="453.27" x2="504.2" y2="535.2" stroke="#444" stroke-width="0.9"/>
<path d="M489 480L504.2 517.9M489 519.6L504.2 494.76M489 529.91L504.2 489.13M489 514.76L504.2 492.55M489 468.83L504.2 530.14M489 503.45L504.2 462.7M489 525.91L504.2 462.44M489 520.35L504.2 508.65M489 514.82L504.2 514.91M489 508.17L504.2 523.35M489 485.1L504.2 493.88M489 508.69L504.2 513.96M489 531.81L504.2 480.76M489 489.15L504.2 462.19M489 494.06L504.2 524.81M489 526.23L504.2 453.41M489 492.59L504.2 494.83M489 524.82L504.2 472.43M489 534.14L504.2 477.74M489 487.28L504.2 528.35M489 489.35L504.2 490.87M489 484.6L504.2 521.67M489 467.61L504.2 500.9M489 484.7L504.2 503.04M489 532.92L504.2 456.02M489 484.78L504.2 510.43M489 524.62L504.2 468.81M489 466.56L504.2 530.19M489 502.68L504.2 524.4M489 527.77L504.2 468.81M489 505.19L504.2 480.7M489 526.55L504.2 458.24M489 465.38L504.2 453.27M489 535.2L504.2 535.2" fill="none" stroke="#d01c40" stroke-width="0.55" opacity="0.85"/>
<line x1="486.1" y1="534.6" x2="492" y2="534.6" stroke="#111" stroke-width="1.2" stroke-dasharray="1.6 0.8"/>
<line x1="500.9" y1="519.6" x2="507.8" y2="519.6" stroke="#111" stroke-width="1.2" stroke-dasharray="1.6 0.8"/>
<path fill="none" stroke="#c8102e" stroke-width="2.1" stroke-linecap="round" d="M489 480h0M489 519.6h0M489 529.9h0M489 514.8h0M489 468.8h0M489 503.5h0M489 525.9h0M489 520.3h0M489 514.8h0M489 508.2h0M489 485.1h0M489 508.7h0M489 531.8h0M489 489.1h0M489 494.1h0M489 526.2h0M489 492.6h0M489 524.8h0M489 534.1h0M489 487.3h0M489 489.3h0M489 484.6h0M489 467.6h0M489 484.7h0M489 532.9h0M489 484.8h0M489 524.6h0M489 466.6h0M489 502.7h0M489 527.8h0M489 505.2h0M489 526.5h0M489 465.4h0M489 535.2h0M504.2 517.9h0M504.2 494.8h0M504.2 489.1h0M504.2 492.6h0M504.2 530.1h0M504.2 462.7h0M504.2 462.4h0M504.2 508.7h0M504.2 514.9h0M504.2 523.3h0M504.2 493.9h0M504.2 514h0M504.2 480.8h0M504.2 462.2h0M504.2 524.8h0M504.2 453.4h0M504.2 494.8h0M504.2 472.4h0M504.2 477.7h0M504.2 528.3h0M504.2 490.9h0M504.2 521.7h0M504.2 500.9h0M504.2 503h0M504.2 456h0M504.2 510.4h0M504.2 468.8h0M504.2 530.2h0M504.2 524.4h0M504.2 468.8h0M504.2 480.7h0M504.2 458.2h0M504.2 453.3h0M504.2 535.2h0"/>
<line x1="480.8" y1="447.4" x2="480.8" y2="540.3" stroke="#1e1e1e" stroke-width="1.35" stroke-linecap="square"/>
<line x1="480.3" y1="540.1" x2="512.7" y2="540.1" stroke="#1e1e1e" stroke-width="1.35" stroke-linecap="square"/>
<line x1="478.1" y1="535.2" x2="480.8" y2="535.2" stroke="#1e1e1e" stroke-width="0.9"/>
<line x1="478.1" y1="511.93" x2="480.8" y2="511.93" stroke="#1e1e1e" stroke-width="0.9"/>
<line x1="478.1" y1="488.65" x2="480.8" y2="488.65" stroke="#1e1e1e" stroke-width="0.9"/>
<line x1="478.1" y1="465.38" x2="480.8" y2="465.38" stroke="#1e1e1e" stroke-width="0.9"/>
<line x1="489" y1="540.1" x2="489" y2="542.5" stroke="#1e1e1e" stroke-width="0.9"/>
<line x1="504.2" y1="540.1" x2="504.2" y2="542.5" stroke="#1e1e1e" stroke-width="0.9"/>
<line x1="497.5" y1="543.6" x2="497.5" y2="552.4" stroke="#333" stroke-width="0.9"/>
<line x1="486.5" y1="552.4" x2="500.7" y2="552.4" stroke="#1f5f97" stroke-width="1.4"/>
<path d="M504.3 552.4 L499.8 555 L499.8 549.8Z" fill="#1f5f97" stroke="none" stroke-width="1"/>
<circle cx="497.5" cy="543.6" r="3.7" fill="#e8899c" stroke="#2a2a2a" stroke-width="0.8"/>
<circle cx="486.5" cy="552.4" r="3.7" fill="#3cb44b" stroke="#2f6ea3" stroke-width="0.9"/>
<circle cx="508.2" cy="552.4" r="3.7" fill="#fff" stroke="#2f6ea3" stroke-width="0.9"/>
<text x="313.9" y="490.9" font-size="10.18" text-anchor="middle" textLength="35.6" lengthAdjust="spacingAndGlyphs" transform="rotate(-90 313.9 490.9)">Expression</text>
<text x="330.8" y="538.2" font-size="8.7" text-anchor="end" textLength="4.15" lengthAdjust="spacingAndGlyphs">0</text>
<text x="330.8" y="514.93" font-size="8.7" text-anchor="end" textLength="10.6" lengthAdjust="spacingAndGlyphs">2.5</text>
<text x="330.8" y="491.65" font-size="8.7" text-anchor="end" textLength="4.15" lengthAdjust="spacingAndGlyphs">5</text>
<text x="330.8" y="468.38" font-size="8.7" text-anchor="end" textLength="10.6" lengthAdjust="spacingAndGlyphs">7.5</text>
<text x="6.5" y="580" font-size="11.5" font-weight="bold" fill="#000">J</text>
<text x="28.5" y="598.5" font-size="9.96" text-anchor="middle" textLength="38" lengthAdjust="spacingAndGlyphs">LysoHigh</text>
<path d="M25.6 606 L31.6 606 L25.7 677 L25.2 677Z" fill="#000" stroke="none" stroke-width="1"/>
<circle cx="28.9" cy="604.8" r="3.8" fill="#000" stroke="none" stroke-width="1"/>
<circle cx="28.9" cy="681.2" r="3.4" fill="#fff" stroke="#000" stroke-width="1"/>
<text x="28.8" y="692.6" font-size="9.96" text-anchor="middle" textLength="35.6" lengthAdjust="spacingAndGlyphs">LysoLow</text>
<rect x="32.3" y="610" width="3.8" height="5.6" fill="#1f5a96" stroke="none" stroke-width="1"/>
<rect x="32.3" y="670.8" width="3.8" height="5.7" fill="#1f5a96" stroke="none" stroke-width="1"/>
<text x="39.9" y="614.1" font-size="10.18" textLength="33.9" lengthAdjust="spacingAndGlyphs">NOstrat</text>
<text x="38.2" y="644.2" font-size="9.86" text-anchor="middle" textLength="47.5" lengthAdjust="spacingAndGlyphs" transform="rotate(-90 38.2 644.2)">Top 250 each</text>
<text x="86.6" y="605" font-size="10.18" text-anchor="middle" textLength="35.7" lengthAdjust="spacingAndGlyphs">TSDstrat</text>
<text x="130.2" y="605" font-size="10.18" text-anchor="middle" textLength="34.5" lengthAdjust="spacingAndGlyphs">KINstrat</text>
<g style="isolation:isolate">
<rect x="-39.25" y="-21.35" width="78.5" height="42.7" rx="21.35" fill="#e8a2b0" stroke="none" stroke-width="1" transform="translate(90.4 655.4) rotate(45)" style="mix-blend-mode:multiply"/>
<rect x="-39.5" y="-21.35" width="79" height="42.7" rx="21.35" fill="#c9acd2" stroke="none" stroke-width="1" transform="translate(103.5 643.2) rotate(45)" style="mix-blend-mode:multiply"/>
<rect x="-39.5" y="-21.35" width="79" height="42.7" rx="21.35" fill="#b4deb6" stroke="none" stroke-width="1" transform="translate(103.5 643.2) rotate(-45)" style="mix-blend-mode:multiply"/>
<rect x="-39.25" y="-21.35" width="78.5" height="42.7" rx="21.35" fill="#c5d6e6" stroke="none" stroke-width="1" transform="translate(116.6 655.4) rotate(-45)" style="mix-blend-mode:multiply"/>
</g>
<rect x="-39.25" y="-21.35" width="78.5" height="42.7" rx="21.35" fill="none" stroke="#21557f" stroke-width="1.1" transform="translate(116.6 655.4) rotate(-45)"/>
<text x="88" y="618.5" font-size="8.4" text-anchor="middle">287</text>
<text x="119" y="618.5" font-size="8.4" text-anchor="middle">460</text>
<text x="77.6" y="631.5" font-size="8.4" text-anchor="middle">165</text>
<text x="103.5" y="630" font-size="8.4" text-anchor="middle">8</text>
<text x="129" y="632.2" font-size="8.4" text-anchor="middle">8</text>
<text x="65" y="645.3" font-size="8.4" text-anchor="middle">274</text>
<text x="90" y="642.5" font-size="8.4" text-anchor="middle">20</text>
<text x="119" y="642.3" font-size="8.4" text-anchor="middle">0</text>
<text x="142" y="643.6" font-size="8.4" text-anchor="middle" font-weight="bold">444</text>
<text x="77.5" y="658.5" font-size="8.4" text-anchor="middle">3</text>
<text x="103.5" y="658.5" font-size="8.4" text-anchor="middle">1</text>
<text x="129.5" y="658.5" font-size="8.4" text-anchor="middle">10</text>
<text x="90" y="670.5" font-size="8.4" text-anchor="middle">0</text>
<text x="117" y="670.5" font-size="8.4" text-anchor="middle">9</text>
<text x="103.5" y="683.5" font-size="8.4" text-anchor="middle">28</text>
<text x="124.8" y="690.2" font-size="10" font-weight="bold" textLength="38" lengthAdjust="spacingAndGlyphs" transform="rotate(-42.5 124.8 690.2)">trackSeq</text>
<rect x="156.3" y="622" width="9.2" height="6.8" fill="#efbcc6" stroke="none" stroke-width="1"/>
<rect x="156.3" y="630" width="9.2" height="55.5" fill="#c6d6e6" stroke="none" stroke-width="1"/>
<text x="163.3" y="657.6" font-size="8.4" text-anchor="middle" textLength="15.5" lengthAdjust="spacingAndGlyphs" transform="rotate(-90 163.3 657.6)">89%</text>
<text x="176.6" y="656" font-size="9.96" text-anchor="middle" textLength="38.4" lengthAdjust="spacingAndGlyphs" transform="rotate(-90 176.6 656)">Detected by</text>
<text x="187.6" y="656" font-size="9.96" text-anchor="middle" textLength="44.9" lengthAdjust="spacingAndGlyphs" transform="rotate(-90 187.6 656)">trackSeq only</text>
<text x="193.6" y="580" font-size="11.5" font-weight="bold" fill="#000">K</text>
<text x="231.3" y="611.9" font-size="10.07" text-anchor="middle" textLength="43" lengthAdjust="spacingAndGlyphs">Single cell</text>
<text x="231.3" y="622.3" font-size="10.07" text-anchor="middle" textLength="41" lengthAdjust="spacingAndGlyphs">resolution</text>
<rect x="200" y="627.6" width="62.7" height="19.5" fill="#f0c3cc" stroke="none" stroke-width="1"/>
<rect x="200" y="651.9" width="62.7" height="19.2" fill="#f0c3cc" stroke="none" stroke-width="1"/>
<rect x="200" y="675.4" width="62.7" height="19.3" fill="#f0c3cc" stroke="none" stroke-width="1"/>
<text x="231.3" y="640.3" font-size="10.07" text-anchor="middle" textLength="30" lengthAdjust="spacingAndGlyphs">Kinship</text>
<text x="231.3" y="659.4" font-size="10.07" text-anchor="middle" textLength="47" lengthAdjust="spacingAndGlyphs">Library size</text>
<text x="231.3" y="668.6" font-size="10.07" text-anchor="middle" textLength="57.5" lengthAdjust="spacingAndGlyphs">normalization</text>
<text x="231.3" y="687.8" font-size="10.07" text-anchor="middle" textLength="45" lengthAdjust="spacingAndGlyphs">Library QC</text>
<rect x="266.7" y="627.6" width="23.7" height="19.5" fill="#c6d6e4" stroke="none" stroke-width="1"/>
<text x="278.5" y="640.6" font-size="10.07" text-anchor="middle" textLength="15" lengthAdjust="spacingAndGlyphs">Yes</text>
<text x="304.5" y="641.4" font-size="10.07" text-anchor="middle" textLength="12" lengthAdjust="spacingAndGlyphs">No</text>
<text x="330.9" y="641.4" font-size="10.07" text-anchor="middle" textLength="12" lengthAdjust="spacingAndGlyphs">No</text>
<text x="354.9" y="641.4" font-size="10.07" text-anchor="middle" textLength="12" lengthAdjust="spacingAndGlyphs">No</text>
<rect x="266.7" y="651.9" width="23.7" height="19.2" fill="#c6d6e4" stroke="none" stroke-width="1"/>
<text x="278.5" y="664.3" font-size="10.07" text-anchor="middle" textLength="15" lengthAdjust="spacingAndGlyphs">Yes</text>
<rect x="292.5" y="651.9" width="23.9" height="19.2" fill="#c6d6e4" stroke="none" stroke-width="1"/>
<text x="304.5" y="664.3" font-size="10.07" text-anchor="middle" textLength="15" lengthAdjust="spacingAndGlyphs">Yes</text>
<text x="330.9" y="665.1" font-size="10.07" text-anchor="middle" textLength="12" lengthAdjust="spacingAndGlyphs">No</text>
<text x="354.9" y="665.1" font-size="10.07" text-anchor="middle" textLength="12" lengthAdjust="spacingAndGlyphs">No</text>
<rect x="266.7" y="675.4" width="23.7" height="19.3" fill="#c6d6e4" stroke="none" stroke-width="1"/>
<text x="278.5" y="688.1" font-size="10.07" text-anchor="middle" textLength="15" lengthAdjust="spacingAndGlyphs">Yes</text>
<rect x="292.5" y="675.4" width="23.9" height="19.3" fill="#c6d6e4" stroke="none" stroke-width="1"/>
<text x="304.5" y="688.1" font-size="10.07" text-anchor="middle" textLength="15" lengthAdjust="spacingAndGlyphs">Yes</text>
<rect x="318.9" y="675.4" width="24" height="19.3" fill="#c6d6e4" stroke="none" stroke-width="1"/>
<text x="330.9" y="688.1" font-size="10.07" text-anchor="middle" textLength="15" lengthAdjust="spacingAndGlyphs">Yes</text>
<text x="354.9" y="688.9" font-size="10.07" text-anchor="middle" textLength="12" lengthAdjust="spacingAndGlyphs">No</text>
<line x1="270.9" y1="625.4" x2="287.2" y2="625.4" stroke="#1e1e1e" stroke-width="1"/>
<line x1="297.8" y1="625.4" x2="314.1" y2="625.4" stroke="#1e1e1e" stroke-width="1"/>
<line x1="324.7" y1="625.4" x2="340.7" y2="625.4" stroke="#1e1e1e" stroke-width="1"/>
<line x1="347.1" y1="625.4" x2="362.7" y2="625.4" stroke="#1e1e1e" stroke-width="1"/>
<text x="280.5" y="622" font-size="10.07" textLength="37.5" lengthAdjust="spacingAndGlyphs" transform="rotate(-49 280.5 622)">trackSeq</text>
<text x="302" y="617.5" font-size="10.07" textLength="31" lengthAdjust="spacingAndGlyphs" transform="rotate(-49 302 617.5)">Pooled</text>
<text x="311.8" y="622" font-size="10.07" textLength="37.5" lengthAdjust="spacingAndGlyphs" transform="rotate(-49 311.8 622)">trackSeq</text>
<text x="329" y="622" font-size="10.07" textLength="52" lengthAdjust="spacingAndGlyphs" transform="rotate(-49 329 622)">Pseudo bulk</text>
<text x="351.5" y="622" font-size="10.07" textLength="18.5" lengthAdjust="spacingAndGlyphs" transform="rotate(-49 351.5 622)">Bulk</text>
<text x="375" y="580.2" font-size="11.5" font-weight="bold" fill="#000">L</text>
<text x="413.3" y="593.1" font-size="10.07" text-anchor="middle" textLength="37.5" lengthAdjust="spacingAndGlyphs">trackSeq</text>
<text x="479.5" y="593.1" font-size="10.07" text-anchor="middle" textLength="37.5" lengthAdjust="spacingAndGlyphs">trackSeq</text>
<g style="isolation:isolate">
<circle cx="413.4" cy="625.3" r="23.6" fill="#c6d6e4" stroke="none" stroke-width="1" style="mix-blend-mode:multiply"/>
<circle cx="413.3" cy="646.2" r="22.9" fill="#d6c9db" stroke="none" stroke-width="1" style="mix-blend-mode:multiply"/>
<circle cx="479.4" cy="620.3" r="24.2" fill="#c6d6e4" stroke="none" stroke-width="1" style="mix-blend-mode:multiply"/>
<circle cx="467.4" cy="649.7" r="23" fill="#cae8ce" stroke="none" stroke-width="1" style="mix-blend-mode:multiply"/>
<circle cx="487" cy="650.4" r="23" fill="#ecbac4" stroke="none" stroke-width="1" style="mix-blend-mode:multiply"/>
</g>
<text x="413.3" y="617.7" font-size="8.4" text-anchor="middle">326</text>
<text x="413.3" y="641.7" font-size="8.4" text-anchor="middle">174</text>
<text x="413.3" y="662.1" font-size="8.4" text-anchor="middle">326</text>
<text x="479.5" y="617.6" font-size="8.4" text-anchor="middle">360</text>
<text x="464.8" y="634.9" font-size="8.4" text-anchor="middle">28</text>
<text x="478" y="640.4" font-size="8.4" text-anchor="middle">71</text>
<text x="490.4" y="634.9" font-size="8.4" text-anchor="middle">41</text>
<text x="455.5" y="655.9" font-size="8.4" text-anchor="middle">236</text>
<text x="476.4" y="655.9" font-size="8.4" text-anchor="middle">165</text>
<text x="498.9" y="655.9" font-size="8.4" text-anchor="middle">223</text>
<text x="413.3" y="681.9" font-size="9.75" text-anchor="middle" textLength="26" lengthAdjust="spacingAndGlyphs">Pooled</text>
<text x="413.3" y="690.6" font-size="9.75" text-anchor="middle" textLength="32" lengthAdjust="spacingAndGlyphs">trackSeq</text>
<text x="463.2" y="681.4" font-size="9.75" text-anchor="middle" textLength="27" lengthAdjust="spacingAndGlyphs">Pseudo</text>
<text x="463.2" y="690.4" font-size="9.75" text-anchor="middle" textLength="17" lengthAdjust="spacingAndGlyphs">bulk</text>
<text x="490.4" y="681.4" font-size="9.75" text-anchor="middle" textLength="17.5" lengthAdjust="spacingAndGlyphs">Bulk</text>
<rect x="0.5" y="0.5" width="519" height="709" fill="none" stroke="#000" stroke-width="1.3"/>
</svg>
</body></html>
